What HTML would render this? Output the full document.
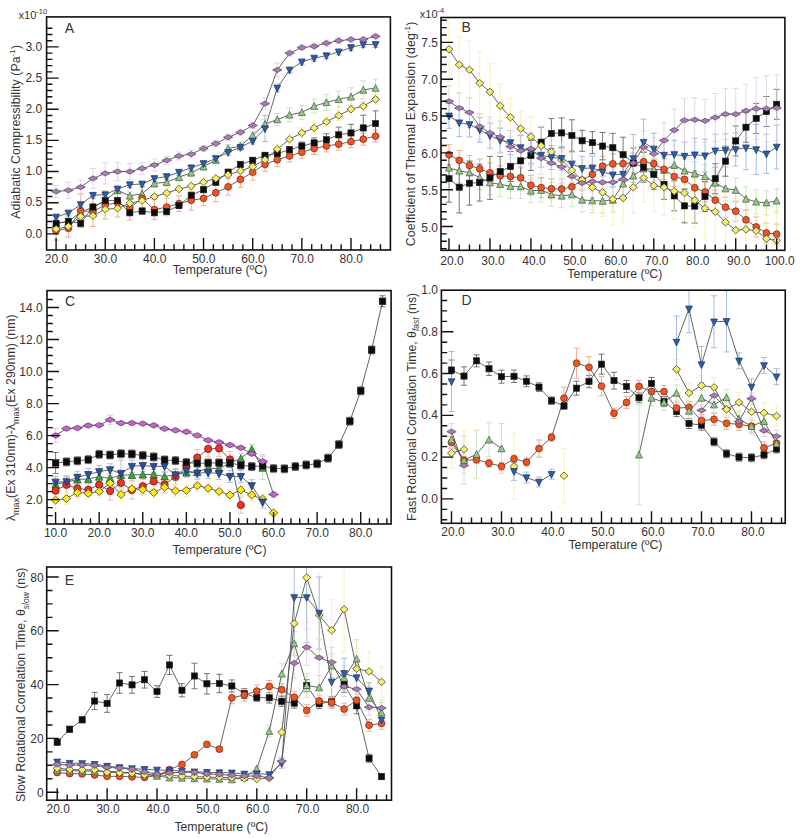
<!DOCTYPE html>
<html><head><meta charset="utf-8"><style>
html,body{margin:0;padding:0;background:#fff;}
svg{display:block;}
text{font-family:"Liberation Sans", sans-serif;fill:#353535;}
</style></head><body>
<svg width="800" height="839" viewBox="0 0 800 839">
<rect width="800" height="839" fill="#fff"/>
<clipPath id="cA"><rect x="46.6" y="16.9" width="343.79999999999995" height="233.1"/></clipPath><g clip-path="url(#cA)"><path d="M56.1 219.3V227.3M53.1 219.3h6M53.1 227.3h6M68.39 217.43V225.43M65.39 217.43h6M65.39 225.43h6M80.67 208.08V216.08M77.67 208.08h6M77.67 216.08h6M92.96 203.1V211.1M89.96 203.1h6M89.96 211.1h6M105.25 196.87V204.87M102.25 196.87h6M102.25 204.87h6M117.54 186.27V194.27M114.54 186.27h6M114.54 194.27h6M129.82 191.88V199.88M126.82 191.88h6M126.82 199.88h6M142.11 189.7V197.7M139.11 189.7h6M139.11 197.7h6M154.4 179.41V187.41M151.4 179.41h6M151.4 187.41h6M166.69 178.17V186.17M163.69 178.17h6M163.69 186.17h6M178.97 173.18V181.18M175.97 173.18h6M175.97 181.18h6M191.26 168.82V176.82M188.26 168.82h6M188.26 176.82h6M203.55 162.58V170.58M200.55 162.58h6M200.55 170.58h6M215.84 156.04V164.04M212.84 156.04h6M212.84 164.04h6M228.12 144.51V152.51M225.12 144.51h6M225.12 152.51h6M240.41 142.01V150.01M237.41 142.01h6M237.41 150.01h6M252.7 131.42V139.42M249.7 131.42h6M249.7 139.42h6M264.99 119.2V129.2M261.99 119.2h6M261.99 129.2h6M277.28 113.52V125.52M274.28 113.52h6M274.28 125.52h6M289.56 107.85V121.85M286.56 107.85h6M286.56 121.85h6M301.85 105.36V119.36M298.85 105.36h6M298.85 119.36h6M314.14 99.12V113.12M311.14 99.12h6M311.14 113.12h6M326.43 94.38V110.38M323.43 94.38h6M323.43 110.38h6M338.71 91.27V107.27M335.71 91.27h6M335.71 107.27h6M351 87.77V105.77M348 87.77h6M348 105.77h6M363.29 80.92V98.92M360.29 80.92h6M360.29 98.92h6M375.58 79.05V97.05M372.58 79.05h6M372.58 97.05h6" fill="none" stroke="#bfe0b5" stroke-width="0.8"/>
<path d="M56.1 221.38V240.18M53.1 221.38h6M53.1 240.18h6M68.39 219.59V236.99M65.39 219.59h6M65.39 236.99h6M80.67 194.04V227.64M77.67 194.04h6M77.67 227.64h6M92.96 196.46V226.46M89.96 196.46h6M89.96 226.46h6M105.25 190.92V218.92M102.25 190.92h6M102.25 218.92h6M117.54 188.44V217.04M114.54 188.44h6M114.54 217.04h6M129.82 196.03V220.03M126.82 196.03h6M126.82 220.03h6M142.11 186.37V210.37M139.11 186.37h6M139.11 210.37h6M154.4 199.59V219.59M151.4 199.59h6M151.4 219.59h6M166.69 198.4V215.8M163.69 198.4h6M163.69 215.8h6M178.97 195.87V211.47M175.97 195.87h6M175.97 211.47h6M191.26 190.24V210.24M188.26 190.24h6M188.26 210.24h6M203.55 190.97V205.77M200.55 190.97h6M200.55 205.77h6M215.84 183.76V201.76M212.84 183.76h6M212.84 201.76h6M228.12 178.64V195.04M225.12 178.64h6M225.12 195.04h6M240.41 171.36V187.36M237.41 171.36h6M237.41 187.36h6M252.7 164.19V180.19M249.7 164.19h6M249.7 180.19h6M264.99 157.4V171.4M261.99 157.4h6M261.99 171.4h6M277.28 152.73V166.73M274.28 152.73h6M274.28 166.73h6M289.56 149.99V161.99M286.56 149.99h6M286.56 161.99h6M301.85 146.25V158.25M298.85 146.25h6M298.85 158.25h6M314.14 142.51V154.51M311.14 142.51h6M311.14 154.51h6M326.43 140.01V152.01M323.43 140.01h6M323.43 152.01h6M338.71 138.14V150.14M335.71 138.14h6M335.71 150.14h6M351 135.65V147.65M348 135.65h6M348 147.65h6M363.29 133.16V145.16M360.29 133.16h6M360.29 145.16h6M375.58 130.04V142.04M372.58 130.04h6M372.58 142.04h6" fill="none" stroke="#f39a7c" stroke-width="0.8"/>
<path d="M56.1 220.62V226.62M53.1 220.62h6M53.1 226.62h6M68.39 218.43V224.43M65.39 218.43h6M65.39 224.43h6M80.67 220.3V226.3M77.67 220.3h6M77.67 226.3h6M92.96 204.1V210.1M89.96 204.1h6M89.96 210.1h6M105.25 197.62V203.62M102.25 197.62h6M102.25 203.62h6M117.54 197.62V203.62M114.54 197.62h6M114.54 203.62h6M129.82 209.71V215.71M126.82 209.71h6M126.82 215.71h6M142.11 208.02V214.02M139.11 208.02h6M139.11 214.02h6M154.4 209.71V215.71M151.4 209.71h6M151.4 215.71h6M166.69 208.46V214.46M163.69 208.46h6M163.69 214.46h6M178.97 202.54V208.54M175.97 202.54h6M175.97 208.54h6M191.26 192.26V198.26M188.26 192.26h6M188.26 198.26h6M203.55 186.65V192.65M200.55 186.65h6M200.55 192.65h6M215.84 179.17V185.17M212.84 179.17h6M212.84 185.17h6M228.12 169.19V175.19M225.12 169.19h6M225.12 175.19h6M240.41 161.4V167.4M237.41 161.4h6M237.41 167.4h6M252.7 157.35V163.35M249.7 157.35h6M249.7 163.35h6M264.99 152.36V158.36M261.99 152.36h6M261.99 158.36h6M277.28 150.49V156.49M274.28 150.49h6M274.28 156.49h6M289.56 146.75V152.75M286.56 146.75h6M286.56 152.75h6M301.85 142.01V150.01M298.85 142.01h6M298.85 150.01h6M314.14 137.9V147.9M311.14 137.9h6M311.14 147.9h6M326.43 133.78V145.78M323.43 133.78h6M323.43 145.78h6M338.71 127.05V142.55M335.71 127.05h6M335.71 142.55h6M351 124.33V141.53M348 124.33h6M348 141.53h6M363.29 115.19V140.69M360.29 115.19h6M360.29 140.69h6M375.58 110.83V136.33M372.58 110.83h6M372.58 136.33h6" fill="none" stroke="#555" stroke-width="0.8"/>
<path d="M56.1 224.1V234.1M53.1 224.1h6M53.1 234.1h6M68.39 221.42V231.42M65.39 221.42h6M65.39 231.42h6M80.67 211.45V221.45M77.67 211.45h6M77.67 221.45h6M92.96 210.82V220.82M89.96 210.82h6M89.96 220.82h6M105.25 204.28V214.28M102.25 204.28h6M102.25 214.28h6M117.54 203.34V213.34M114.54 203.34h6M114.54 213.34h6M129.82 198.36V208.36M126.82 198.36h6M126.82 208.36h6M142.11 195.62V205.62M139.11 195.62h6M139.11 205.62h6M154.4 191.5V201.5M151.4 191.5h6M151.4 201.5h6M166.69 188.07V198.07M163.69 188.07h6M163.69 198.07h6M178.97 184.02V194.02M175.97 184.02h6M175.97 194.02h6M191.26 180.91V190.91M188.26 180.91h6M188.26 190.91h6M203.55 177.17V187.17M200.55 177.17h6M200.55 187.17h6M215.84 173.43V183.43M212.84 173.43h6M212.84 183.43h6M228.12 169.69V179.69M225.12 169.69h6M225.12 179.69h6M240.41 165.95V175.95M237.41 165.95h6M237.41 175.95h6M252.7 161.58V171.58M249.7 161.58h6M249.7 171.58h6M264.99 154.73V164.73M261.99 154.73h6M261.99 164.73h6M277.28 144.13V154.13M274.28 144.13h6M274.28 154.13h6M289.56 134.16V144.16M286.56 134.16h6M286.56 144.16h6M301.85 127.93V137.93M298.85 127.93h6M298.85 137.93h6M314.14 122.94V132.94M311.14 122.94h6M311.14 132.94h6M326.43 116.71V126.71M323.43 116.71h6M323.43 126.71h6M338.71 110.47V120.47M335.71 110.47h6M335.71 120.47h6M351 104.24V114.24M348 104.24h6M348 114.24h6M363.29 101.12V111.12M360.29 101.12h6M360.29 111.12h6M375.58 94.27V104.27M372.58 94.27h6M372.58 104.27h6" fill="none" stroke="#f3efa8" stroke-width="0.8"/>
<path d="M56.1 214.07V220.07M53.1 214.07h6M53.1 220.07h6M68.39 210.02V216.02M65.39 210.02h6M65.39 216.02h6M80.67 201.6V207.6M77.67 201.6h6M77.67 207.6h6M92.96 192.26V198.26M89.96 192.26h6M89.96 198.26h6M105.25 191.63V197.63M102.25 191.63h6M102.25 197.63h6M117.54 186.02V192.02M114.54 186.02h6M114.54 192.02h6M129.82 181.66V187.66M126.82 181.66h6M126.82 187.66h6M142.11 181.04V187.04M139.11 181.04h6M139.11 187.04h6M154.4 175.43V181.43M151.4 175.43h6M151.4 181.43h6M166.69 173.56V179.56M163.69 173.56h6M163.69 179.56h6M178.97 169.19V175.19M175.97 169.19h6M175.97 175.19h6M191.26 164.83V170.83M188.26 164.83h6M188.26 170.83h6M203.55 160.47V166.47M200.55 160.47h6M200.55 166.47h6M215.84 155.48V161.48M212.84 155.48h6M212.84 161.48h6M228.12 149.25V155.25M225.12 149.25h6M225.12 155.25h6M240.41 144.26V150.26M237.41 144.26h6M237.41 150.26h6M252.7 138.03V144.03M249.7 138.03h6M249.7 144.03h6M264.99 115.56V141.56M261.99 115.56h6M261.99 141.56h6M277.28 84.05V92.05M274.28 84.05h6M274.28 92.05h6M289.56 66.97V72.97M286.56 66.97h6M286.56 72.97h6M301.85 58.87V64.87M298.85 58.87h6M298.85 64.87h6M314.14 55.13V61.13M311.14 55.13h6M311.14 61.13h6M326.43 52.64V58.64M323.43 52.64h6M323.43 58.64h6M338.71 48.9V54.9M335.71 48.9h6M335.71 54.9h6M351 44.53V50.53M348 44.53h6M348 50.53h6M363.29 41.42V47.42M360.29 41.42h6M360.29 47.42h6M375.58 41.42V47.42M372.58 41.42h6M372.58 47.42h6" fill="none" stroke="#8eacdb" stroke-width="0.8"/>
<path d="M56.1 185.52V197.52M53.1 185.52h6M53.1 197.52h6M68.39 182.27V198.27M65.39 182.27h6M65.39 198.27h6M80.67 180.15V194.15M77.67 180.15h6M77.67 194.15h6M92.96 168.43V188.43M89.96 168.43h6M89.96 188.43h6M105.25 162.84V184.04M102.25 162.84h6M102.25 184.04h6M117.54 162.57V180.57M114.54 162.57h6M114.54 180.57h6M129.82 163.57V179.57M126.82 163.57h6M126.82 179.57h6M142.11 162.45V174.45M139.11 162.45h6M139.11 174.45h6M154.4 159.03V171.03M151.4 159.03h6M151.4 171.03h6M166.69 156.35V164.35M163.69 156.35h6M163.69 164.35h6M178.97 151.99V159.99M175.97 151.99h6M175.97 159.99h6M191.26 150.12V158.12M188.26 150.12h6M188.26 158.12h6M203.55 145.51V151.51M200.55 145.51h6M200.55 151.51h6M215.84 140.52V146.52M212.84 140.52h6M212.84 146.52h6M228.12 134.29V140.29M225.12 134.29h6M225.12 140.29h6M240.41 129.3V135.3M237.41 129.3h6M237.41 135.3h6M252.7 122.45V128.45M249.7 122.45h6M249.7 128.45h6M264.99 97.63V109.63M261.99 97.63h6M261.99 109.63h6M277.28 62.97V76.97M274.28 62.97h6M274.28 76.97h6M289.56 50.14V56.14M286.56 50.14h6M286.56 56.14h6M301.85 44.53V50.53M298.85 44.53h6M298.85 50.53h6M314.14 43.29V49.29M311.14 43.29h6M311.14 49.29h6M326.43 40.17V46.17M323.43 40.17h6M323.43 46.17h6M338.71 37.68V43.68M335.71 37.68h6M335.71 43.68h6M351 36.43V42.43M348 36.43h6M348 42.43h6M363.29 36.43V42.43M360.29 36.43h6M360.29 42.43h6M375.58 33.31V39.31M372.58 33.31h6M372.58 39.31h6" fill="none" stroke="#dccbe2" stroke-width="0.8"/>
<path d="M56.1 223.3L68.39 221.43L80.67 212.08L92.96 207.1L105.25 200.87L117.54 190.27L129.82 195.88L142.11 193.7L154.4 183.41L166.69 182.17L178.97 177.18L191.26 172.82L203.55 166.58L215.84 160.04L228.12 148.51L240.41 146.01L252.7 135.42L264.99 124.2L277.28 119.52L289.56 114.85L301.85 112.36L314.14 106.12L326.43 102.38L338.71 99.27L351 96.77L363.29 89.92L375.58 88.05" fill="none" stroke="#555" stroke-width="0.9"/>
<path d="M56.1 230.78L68.39 228.29L80.67 210.84L92.96 211.46L105.25 204.92L117.54 202.74L129.82 208.03L142.11 198.37L154.4 209.59L166.69 207.1L178.97 203.67L191.26 200.24L203.55 198.37L215.84 192.76L228.12 186.84L240.41 179.36L252.7 172.19L264.99 164.4L277.28 159.73L289.56 155.99L301.85 152.25L314.14 148.51L326.43 146.01L338.71 144.14L351 141.65L363.29 139.16L375.58 136.04" fill="none" stroke="#555" stroke-width="0.9"/>
<path d="M56.1 223.62L68.39 221.43L80.67 223.3L92.96 207.1L105.25 200.62L117.54 200.62L129.82 212.71L142.11 211.02L154.4 212.71L166.69 211.46L178.97 205.54L191.26 195.26L203.55 189.65L215.84 182.17L228.12 172.19L240.41 164.4L252.7 160.35L264.99 155.36L277.28 153.49L289.56 149.75L301.85 146.01L314.14 142.9L326.43 139.78L338.71 134.8L351 132.93L363.29 127.94L375.58 123.58" fill="none" stroke="#555" stroke-width="0.9"/>
<path d="M56.1 229.1L68.39 226.42L80.67 216.45L92.96 215.82L105.25 209.28L117.54 208.34L129.82 203.36L142.11 200.62L154.4 196.5L166.69 193.07L178.97 189.02L191.26 185.91L203.55 182.17L215.84 178.43L228.12 174.69L240.41 170.95L252.7 166.58L264.99 159.73L277.28 149.13L289.56 139.16L301.85 132.93L314.14 127.94L326.43 121.71L338.71 115.47L351 109.24L363.29 106.12L375.58 99.27" fill="none" stroke="#555" stroke-width="0.9"/>
<path d="M56.1 217.07L68.39 213.02L80.67 204.6L92.96 195.26L105.25 194.63L117.54 189.02L129.82 184.66L142.11 184.04L154.4 178.43L166.69 176.56L178.97 172.19L191.26 167.83L203.55 163.47L215.84 158.48L228.12 152.25L240.41 147.26L252.7 141.03L264.99 128.56L277.28 88.05L289.56 69.97L301.85 61.87L314.14 58.13L326.43 55.64L338.71 51.9L351 47.53L363.29 44.42L375.58 44.42" fill="none" stroke="#555" stroke-width="0.9"/>
<path d="M56.1 191.52L68.39 190.27L80.67 187.15L92.96 178.43L105.25 173.44L117.54 171.57L129.82 171.57L142.11 168.45L154.4 165.03L166.69 160.35L178.97 155.99L191.26 154.12L203.55 148.51L215.84 143.52L228.12 137.29L240.41 132.3L252.7 125.45L264.99 103.63L277.28 69.97L289.56 53.14L301.85 47.53L314.14 46.29L326.43 43.17L338.71 40.68L351 39.43L363.29 39.43L375.58 36.31" fill="none" stroke="#555" stroke-width="0.9"/>
<path d="M56.1 219.7L59.6 226.54L52.6 226.54Z" fill="#95c987" stroke="#3d5a36" stroke-width="0.7"/>
<path d="M68.39 217.83L71.89 224.67L64.89 224.67Z" fill="#95c987" stroke="#3d5a36" stroke-width="0.7"/>
<path d="M80.67 208.48L84.17 215.32L77.17 215.32Z" fill="#95c987" stroke="#3d5a36" stroke-width="0.7"/>
<path d="M92.96 203.5L96.46 210.34L89.46 210.34Z" fill="#95c987" stroke="#3d5a36" stroke-width="0.7"/>
<path d="M105.25 197.27L108.75 204.11L101.75 204.11Z" fill="#95c987" stroke="#3d5a36" stroke-width="0.7"/>
<path d="M117.54 186.67L121.04 193.51L114.04 193.51Z" fill="#95c987" stroke="#3d5a36" stroke-width="0.7"/>
<path d="M129.82 192.28L133.32 199.12L126.32 199.12Z" fill="#95c987" stroke="#3d5a36" stroke-width="0.7"/>
<path d="M142.11 190.1L145.61 196.94L138.61 196.94Z" fill="#95c987" stroke="#3d5a36" stroke-width="0.7"/>
<path d="M154.4 179.81L157.9 186.65L150.9 186.65Z" fill="#95c987" stroke="#3d5a36" stroke-width="0.7"/>
<path d="M166.69 178.57L170.19 185.41L163.19 185.41Z" fill="#95c987" stroke="#3d5a36" stroke-width="0.7"/>
<path d="M178.97 173.58L182.47 180.42L175.47 180.42Z" fill="#95c987" stroke="#3d5a36" stroke-width="0.7"/>
<path d="M191.26 169.22L194.76 176.06L187.76 176.06Z" fill="#95c987" stroke="#3d5a36" stroke-width="0.7"/>
<path d="M203.55 162.98L207.05 169.82L200.05 169.82Z" fill="#95c987" stroke="#3d5a36" stroke-width="0.7"/>
<path d="M215.84 156.44L219.34 163.28L212.34 163.28Z" fill="#95c987" stroke="#3d5a36" stroke-width="0.7"/>
<path d="M228.12 144.91L231.62 151.75L224.62 151.75Z" fill="#95c987" stroke="#3d5a36" stroke-width="0.7"/>
<path d="M240.41 142.41L243.91 149.25L236.91 149.25Z" fill="#95c987" stroke="#3d5a36" stroke-width="0.7"/>
<path d="M252.7 131.82L256.2 138.66L249.2 138.66Z" fill="#95c987" stroke="#3d5a36" stroke-width="0.7"/>
<path d="M264.99 120.6L268.49 127.44L261.49 127.44Z" fill="#95c987" stroke="#3d5a36" stroke-width="0.7"/>
<path d="M277.28 115.92L280.78 122.76L273.78 122.76Z" fill="#95c987" stroke="#3d5a36" stroke-width="0.7"/>
<path d="M289.56 111.25L293.06 118.09L286.06 118.09Z" fill="#95c987" stroke="#3d5a36" stroke-width="0.7"/>
<path d="M301.85 108.76L305.35 115.6L298.35 115.6Z" fill="#95c987" stroke="#3d5a36" stroke-width="0.7"/>
<path d="M314.14 102.52L317.64 109.36L310.64 109.36Z" fill="#95c987" stroke="#3d5a36" stroke-width="0.7"/>
<path d="M326.43 98.78L329.93 105.62L322.93 105.62Z" fill="#95c987" stroke="#3d5a36" stroke-width="0.7"/>
<path d="M338.71 95.67L342.21 102.51L335.21 102.51Z" fill="#95c987" stroke="#3d5a36" stroke-width="0.7"/>
<path d="M351 93.17L354.5 100.01L347.5 100.01Z" fill="#95c987" stroke="#3d5a36" stroke-width="0.7"/>
<path d="M363.29 86.32L366.79 93.16L359.79 93.16Z" fill="#95c987" stroke="#3d5a36" stroke-width="0.7"/>
<path d="M375.58 84.45L379.08 91.29L372.08 91.29Z" fill="#95c987" stroke="#3d5a36" stroke-width="0.7"/>
<circle cx="56.1" cy="230.78" r="3.4" fill="#ea5627" stroke="#8a2a10" stroke-width="0.8"/>
<circle cx="68.39" cy="228.29" r="3.4" fill="#ea5627" stroke="#8a2a10" stroke-width="0.8"/>
<circle cx="80.67" cy="210.84" r="3.4" fill="#ea5627" stroke="#8a2a10" stroke-width="0.8"/>
<circle cx="92.96" cy="211.46" r="3.4" fill="#ea5627" stroke="#8a2a10" stroke-width="0.8"/>
<circle cx="105.25" cy="204.92" r="3.4" fill="#ea5627" stroke="#8a2a10" stroke-width="0.8"/>
<circle cx="117.54" cy="202.74" r="3.4" fill="#ea5627" stroke="#8a2a10" stroke-width="0.8"/>
<circle cx="129.82" cy="208.03" r="3.4" fill="#ea5627" stroke="#8a2a10" stroke-width="0.8"/>
<circle cx="142.11" cy="198.37" r="3.4" fill="#ea5627" stroke="#8a2a10" stroke-width="0.8"/>
<circle cx="154.4" cy="209.59" r="3.4" fill="#ea5627" stroke="#8a2a10" stroke-width="0.8"/>
<circle cx="166.69" cy="207.1" r="3.4" fill="#ea5627" stroke="#8a2a10" stroke-width="0.8"/>
<circle cx="178.97" cy="203.67" r="3.4" fill="#ea5627" stroke="#8a2a10" stroke-width="0.8"/>
<circle cx="191.26" cy="200.24" r="3.4" fill="#ea5627" stroke="#8a2a10" stroke-width="0.8"/>
<circle cx="203.55" cy="198.37" r="3.4" fill="#ea5627" stroke="#8a2a10" stroke-width="0.8"/>
<circle cx="215.84" cy="192.76" r="3.4" fill="#ea5627" stroke="#8a2a10" stroke-width="0.8"/>
<circle cx="228.12" cy="186.84" r="3.4" fill="#ea5627" stroke="#8a2a10" stroke-width="0.8"/>
<circle cx="240.41" cy="179.36" r="3.4" fill="#ea5627" stroke="#8a2a10" stroke-width="0.8"/>
<circle cx="252.7" cy="172.19" r="3.4" fill="#ea5627" stroke="#8a2a10" stroke-width="0.8"/>
<circle cx="264.99" cy="164.4" r="3.4" fill="#ea5627" stroke="#8a2a10" stroke-width="0.8"/>
<circle cx="277.28" cy="159.73" r="3.4" fill="#ea5627" stroke="#8a2a10" stroke-width="0.8"/>
<circle cx="289.56" cy="155.99" r="3.4" fill="#ea5627" stroke="#8a2a10" stroke-width="0.8"/>
<circle cx="301.85" cy="152.25" r="3.4" fill="#ea5627" stroke="#8a2a10" stroke-width="0.8"/>
<circle cx="314.14" cy="148.51" r="3.4" fill="#ea5627" stroke="#8a2a10" stroke-width="0.8"/>
<circle cx="326.43" cy="146.01" r="3.4" fill="#ea5627" stroke="#8a2a10" stroke-width="0.8"/>
<circle cx="338.71" cy="144.14" r="3.4" fill="#ea5627" stroke="#8a2a10" stroke-width="0.8"/>
<circle cx="351" cy="141.65" r="3.4" fill="#ea5627" stroke="#8a2a10" stroke-width="0.8"/>
<circle cx="363.29" cy="139.16" r="3.4" fill="#ea5627" stroke="#8a2a10" stroke-width="0.8"/>
<circle cx="375.58" cy="136.04" r="3.4" fill="#ea5627" stroke="#8a2a10" stroke-width="0.8"/>
<rect x="53" y="220.52" width="6.2" height="6.2" fill="#0c0c0c" stroke="#222" stroke-width="0.6"/>
<rect x="65.29" y="218.33" width="6.2" height="6.2" fill="#0c0c0c" stroke="#222" stroke-width="0.6"/>
<rect x="77.58" y="220.2" width="6.2" height="6.2" fill="#0c0c0c" stroke="#222" stroke-width="0.6"/>
<rect x="89.86" y="204" width="6.2" height="6.2" fill="#0c0c0c" stroke="#222" stroke-width="0.6"/>
<rect x="102.15" y="197.52" width="6.2" height="6.2" fill="#0c0c0c" stroke="#222" stroke-width="0.6"/>
<rect x="114.44" y="197.52" width="6.2" height="6.2" fill="#0c0c0c" stroke="#222" stroke-width="0.6"/>
<rect x="126.72" y="209.61" width="6.2" height="6.2" fill="#0c0c0c" stroke="#222" stroke-width="0.6"/>
<rect x="139.01" y="207.92" width="6.2" height="6.2" fill="#0c0c0c" stroke="#222" stroke-width="0.6"/>
<rect x="151.3" y="209.61" width="6.2" height="6.2" fill="#0c0c0c" stroke="#222" stroke-width="0.6"/>
<rect x="163.59" y="208.36" width="6.2" height="6.2" fill="#0c0c0c" stroke="#222" stroke-width="0.6"/>
<rect x="175.88" y="202.44" width="6.2" height="6.2" fill="#0c0c0c" stroke="#222" stroke-width="0.6"/>
<rect x="188.16" y="192.16" width="6.2" height="6.2" fill="#0c0c0c" stroke="#222" stroke-width="0.6"/>
<rect x="200.45" y="186.55" width="6.2" height="6.2" fill="#0c0c0c" stroke="#222" stroke-width="0.6"/>
<rect x="212.74" y="179.07" width="6.2" height="6.2" fill="#0c0c0c" stroke="#222" stroke-width="0.6"/>
<rect x="225.03" y="169.09" width="6.2" height="6.2" fill="#0c0c0c" stroke="#222" stroke-width="0.6"/>
<rect x="237.31" y="161.3" width="6.2" height="6.2" fill="#0c0c0c" stroke="#222" stroke-width="0.6"/>
<rect x="249.6" y="157.25" width="6.2" height="6.2" fill="#0c0c0c" stroke="#222" stroke-width="0.6"/>
<rect x="261.89" y="152.26" width="6.2" height="6.2" fill="#0c0c0c" stroke="#222" stroke-width="0.6"/>
<rect x="274.18" y="150.39" width="6.2" height="6.2" fill="#0c0c0c" stroke="#222" stroke-width="0.6"/>
<rect x="286.46" y="146.65" width="6.2" height="6.2" fill="#0c0c0c" stroke="#222" stroke-width="0.6"/>
<rect x="298.75" y="142.91" width="6.2" height="6.2" fill="#0c0c0c" stroke="#222" stroke-width="0.6"/>
<rect x="311.04" y="139.8" width="6.2" height="6.2" fill="#0c0c0c" stroke="#222" stroke-width="0.6"/>
<rect x="323.32" y="136.68" width="6.2" height="6.2" fill="#0c0c0c" stroke="#222" stroke-width="0.6"/>
<rect x="335.61" y="131.7" width="6.2" height="6.2" fill="#0c0c0c" stroke="#222" stroke-width="0.6"/>
<rect x="347.9" y="129.83" width="6.2" height="6.2" fill="#0c0c0c" stroke="#222" stroke-width="0.6"/>
<rect x="360.19" y="124.84" width="6.2" height="6.2" fill="#0c0c0c" stroke="#222" stroke-width="0.6"/>
<rect x="372.48" y="120.48" width="6.2" height="6.2" fill="#0c0c0c" stroke="#222" stroke-width="0.6"/>
<path d="M56.1 225.4L60.1 229.1L56.1 232.8L52.1 229.1Z" fill="#f6ee68" stroke="#4a4a2a" stroke-width="0.8"/>
<path d="M68.39 222.72L72.39 226.42L68.39 230.12L64.39 226.42Z" fill="#f6ee68" stroke="#4a4a2a" stroke-width="0.8"/>
<path d="M80.67 212.75L84.67 216.45L80.67 220.15L76.67 216.45Z" fill="#f6ee68" stroke="#4a4a2a" stroke-width="0.8"/>
<path d="M92.96 212.12L96.96 215.82L92.96 219.52L88.96 215.82Z" fill="#f6ee68" stroke="#4a4a2a" stroke-width="0.8"/>
<path d="M105.25 205.58L109.25 209.28L105.25 212.98L101.25 209.28Z" fill="#f6ee68" stroke="#4a4a2a" stroke-width="0.8"/>
<path d="M117.54 204.64L121.54 208.34L117.54 212.04L113.54 208.34Z" fill="#f6ee68" stroke="#4a4a2a" stroke-width="0.8"/>
<path d="M129.82 199.66L133.82 203.36L129.82 207.06L125.82 203.36Z" fill="#f6ee68" stroke="#4a4a2a" stroke-width="0.8"/>
<path d="M142.11 196.92L146.11 200.62L142.11 204.32L138.11 200.62Z" fill="#f6ee68" stroke="#4a4a2a" stroke-width="0.8"/>
<path d="M154.4 192.8L158.4 196.5L154.4 200.2L150.4 196.5Z" fill="#f6ee68" stroke="#4a4a2a" stroke-width="0.8"/>
<path d="M166.69 189.37L170.69 193.07L166.69 196.77L162.69 193.07Z" fill="#f6ee68" stroke="#4a4a2a" stroke-width="0.8"/>
<path d="M178.97 185.32L182.97 189.02L178.97 192.72L174.97 189.02Z" fill="#f6ee68" stroke="#4a4a2a" stroke-width="0.8"/>
<path d="M191.26 182.21L195.26 185.91L191.26 189.61L187.26 185.91Z" fill="#f6ee68" stroke="#4a4a2a" stroke-width="0.8"/>
<path d="M203.55 178.47L207.55 182.17L203.55 185.87L199.55 182.17Z" fill="#f6ee68" stroke="#4a4a2a" stroke-width="0.8"/>
<path d="M215.84 174.73L219.84 178.43L215.84 182.13L211.84 178.43Z" fill="#f6ee68" stroke="#4a4a2a" stroke-width="0.8"/>
<path d="M228.12 170.99L232.12 174.69L228.12 178.39L224.12 174.69Z" fill="#f6ee68" stroke="#4a4a2a" stroke-width="0.8"/>
<path d="M240.41 167.25L244.41 170.95L240.41 174.65L236.41 170.95Z" fill="#f6ee68" stroke="#4a4a2a" stroke-width="0.8"/>
<path d="M252.7 162.88L256.7 166.58L252.7 170.28L248.7 166.58Z" fill="#f6ee68" stroke="#4a4a2a" stroke-width="0.8"/>
<path d="M264.99 156.03L268.99 159.73L264.99 163.43L260.99 159.73Z" fill="#f6ee68" stroke="#4a4a2a" stroke-width="0.8"/>
<path d="M277.28 145.43L281.28 149.13L277.28 152.83L273.28 149.13Z" fill="#f6ee68" stroke="#4a4a2a" stroke-width="0.8"/>
<path d="M289.56 135.46L293.56 139.16L289.56 142.86L285.56 139.16Z" fill="#f6ee68" stroke="#4a4a2a" stroke-width="0.8"/>
<path d="M301.85 129.23L305.85 132.93L301.85 136.63L297.85 132.93Z" fill="#f6ee68" stroke="#4a4a2a" stroke-width="0.8"/>
<path d="M314.14 124.24L318.14 127.94L314.14 131.64L310.14 127.94Z" fill="#f6ee68" stroke="#4a4a2a" stroke-width="0.8"/>
<path d="M326.43 118.01L330.43 121.71L326.43 125.41L322.43 121.71Z" fill="#f6ee68" stroke="#4a4a2a" stroke-width="0.8"/>
<path d="M338.71 111.77L342.71 115.47L338.71 119.17L334.71 115.47Z" fill="#f6ee68" stroke="#4a4a2a" stroke-width="0.8"/>
<path d="M351 105.54L355 109.24L351 112.94L347 109.24Z" fill="#f6ee68" stroke="#4a4a2a" stroke-width="0.8"/>
<path d="M363.29 102.42L367.29 106.12L363.29 109.82L359.29 106.12Z" fill="#f6ee68" stroke="#4a4a2a" stroke-width="0.8"/>
<path d="M375.58 95.57L379.58 99.27L375.58 102.97L371.58 99.27Z" fill="#f6ee68" stroke="#4a4a2a" stroke-width="0.8"/>
<path d="M56.1 221.17L59.5 214.33L52.7 214.33Z" fill="#2d5da6" stroke="#1a3566" stroke-width="0.7"/>
<path d="M68.39 217.12L71.79 210.28L64.99 210.28Z" fill="#2d5da6" stroke="#1a3566" stroke-width="0.7"/>
<path d="M80.67 208.7L84.08 201.86L77.27 201.86Z" fill="#2d5da6" stroke="#1a3566" stroke-width="0.7"/>
<path d="M92.96 199.36L96.36 192.52L89.56 192.52Z" fill="#2d5da6" stroke="#1a3566" stroke-width="0.7"/>
<path d="M105.25 198.73L108.65 191.89L101.85 191.89Z" fill="#2d5da6" stroke="#1a3566" stroke-width="0.7"/>
<path d="M117.54 193.12L120.94 186.28L114.14 186.28Z" fill="#2d5da6" stroke="#1a3566" stroke-width="0.7"/>
<path d="M129.82 188.76L133.22 181.92L126.42 181.92Z" fill="#2d5da6" stroke="#1a3566" stroke-width="0.7"/>
<path d="M142.11 188.14L145.51 181.3L138.71 181.3Z" fill="#2d5da6" stroke="#1a3566" stroke-width="0.7"/>
<path d="M154.4 182.53L157.8 175.69L151 175.69Z" fill="#2d5da6" stroke="#1a3566" stroke-width="0.7"/>
<path d="M166.69 180.66L170.09 173.82L163.29 173.82Z" fill="#2d5da6" stroke="#1a3566" stroke-width="0.7"/>
<path d="M178.97 176.29L182.38 169.45L175.57 169.45Z" fill="#2d5da6" stroke="#1a3566" stroke-width="0.7"/>
<path d="M191.26 171.93L194.66 165.09L187.86 165.09Z" fill="#2d5da6" stroke="#1a3566" stroke-width="0.7"/>
<path d="M203.55 167.57L206.95 160.73L200.15 160.73Z" fill="#2d5da6" stroke="#1a3566" stroke-width="0.7"/>
<path d="M215.84 162.58L219.24 155.74L212.44 155.74Z" fill="#2d5da6" stroke="#1a3566" stroke-width="0.7"/>
<path d="M228.12 156.35L231.53 149.51L224.72 149.51Z" fill="#2d5da6" stroke="#1a3566" stroke-width="0.7"/>
<path d="M240.41 151.36L243.81 144.52L237.01 144.52Z" fill="#2d5da6" stroke="#1a3566" stroke-width="0.7"/>
<path d="M252.7 145.13L256.1 138.29L249.3 138.29Z" fill="#2d5da6" stroke="#1a3566" stroke-width="0.7"/>
<path d="M264.99 132.66L268.39 125.82L261.59 125.82Z" fill="#2d5da6" stroke="#1a3566" stroke-width="0.7"/>
<path d="M277.28 92.15L280.68 85.31L273.88 85.31Z" fill="#2d5da6" stroke="#1a3566" stroke-width="0.7"/>
<path d="M289.56 74.07L292.96 67.23L286.16 67.23Z" fill="#2d5da6" stroke="#1a3566" stroke-width="0.7"/>
<path d="M301.85 65.97L305.25 59.13L298.45 59.13Z" fill="#2d5da6" stroke="#1a3566" stroke-width="0.7"/>
<path d="M314.14 62.23L317.54 55.39L310.74 55.39Z" fill="#2d5da6" stroke="#1a3566" stroke-width="0.7"/>
<path d="M326.43 59.74L329.82 52.9L323.03 52.9Z" fill="#2d5da6" stroke="#1a3566" stroke-width="0.7"/>
<path d="M338.71 56L342.11 49.16L335.31 49.16Z" fill="#2d5da6" stroke="#1a3566" stroke-width="0.7"/>
<path d="M351 51.63L354.4 44.79L347.6 44.79Z" fill="#2d5da6" stroke="#1a3566" stroke-width="0.7"/>
<path d="M363.29 48.52L366.69 41.68L359.89 41.68Z" fill="#2d5da6" stroke="#1a3566" stroke-width="0.7"/>
<path d="M375.58 48.52L378.98 41.68L372.18 41.68Z" fill="#2d5da6" stroke="#1a3566" stroke-width="0.7"/>
<path d="M56.1 188.92L60.8 191.52L56.1 194.12L51.4 191.52Z" fill="#a97cb8" stroke="#5a4060" stroke-width="0.7"/>
<path d="M68.39 187.67L73.09 190.27L68.39 192.87L63.69 190.27Z" fill="#a97cb8" stroke="#5a4060" stroke-width="0.7"/>
<path d="M80.67 184.55L85.38 187.15L80.67 189.75L75.97 187.15Z" fill="#a97cb8" stroke="#5a4060" stroke-width="0.7"/>
<path d="M92.96 175.83L97.66 178.43L92.96 181.03L88.26 178.43Z" fill="#a97cb8" stroke="#5a4060" stroke-width="0.7"/>
<path d="M105.25 170.84L109.95 173.44L105.25 176.04L100.55 173.44Z" fill="#a97cb8" stroke="#5a4060" stroke-width="0.7"/>
<path d="M117.54 168.97L122.24 171.57L117.54 174.17L112.84 171.57Z" fill="#a97cb8" stroke="#5a4060" stroke-width="0.7"/>
<path d="M129.82 168.97L134.52 171.57L129.82 174.17L125.12 171.57Z" fill="#a97cb8" stroke="#5a4060" stroke-width="0.7"/>
<path d="M142.11 165.85L146.81 168.45L142.11 171.05L137.41 168.45Z" fill="#a97cb8" stroke="#5a4060" stroke-width="0.7"/>
<path d="M154.4 162.43L159.1 165.03L154.4 167.63L149.7 165.03Z" fill="#a97cb8" stroke="#5a4060" stroke-width="0.7"/>
<path d="M166.69 157.75L171.39 160.35L166.69 162.95L161.99 160.35Z" fill="#a97cb8" stroke="#5a4060" stroke-width="0.7"/>
<path d="M178.97 153.39L183.67 155.99L178.97 158.59L174.28 155.99Z" fill="#a97cb8" stroke="#5a4060" stroke-width="0.7"/>
<path d="M191.26 151.52L195.96 154.12L191.26 156.72L186.56 154.12Z" fill="#a97cb8" stroke="#5a4060" stroke-width="0.7"/>
<path d="M203.55 145.91L208.25 148.51L203.55 151.11L198.85 148.51Z" fill="#a97cb8" stroke="#5a4060" stroke-width="0.7"/>
<path d="M215.84 140.92L220.54 143.52L215.84 146.12L211.14 143.52Z" fill="#a97cb8" stroke="#5a4060" stroke-width="0.7"/>
<path d="M228.12 134.69L232.82 137.29L228.12 139.89L223.43 137.29Z" fill="#a97cb8" stroke="#5a4060" stroke-width="0.7"/>
<path d="M240.41 129.7L245.11 132.3L240.41 134.9L235.71 132.3Z" fill="#a97cb8" stroke="#5a4060" stroke-width="0.7"/>
<path d="M252.7 122.85L257.4 125.45L252.7 128.05L248 125.45Z" fill="#a97cb8" stroke="#5a4060" stroke-width="0.7"/>
<path d="M264.99 101.03L269.69 103.63L264.99 106.23L260.29 103.63Z" fill="#a97cb8" stroke="#5a4060" stroke-width="0.7"/>
<path d="M277.28 67.37L281.98 69.97L277.28 72.57L272.58 69.97Z" fill="#a97cb8" stroke="#5a4060" stroke-width="0.7"/>
<path d="M289.56 50.54L294.26 53.14L289.56 55.74L284.86 53.14Z" fill="#a97cb8" stroke="#5a4060" stroke-width="0.7"/>
<path d="M301.85 44.93L306.55 47.53L301.85 50.13L297.15 47.53Z" fill="#a97cb8" stroke="#5a4060" stroke-width="0.7"/>
<path d="M314.14 43.69L318.84 46.29L314.14 48.89L309.44 46.29Z" fill="#a97cb8" stroke="#5a4060" stroke-width="0.7"/>
<path d="M326.43 40.57L331.12 43.17L326.43 45.77L321.73 43.17Z" fill="#a97cb8" stroke="#5a4060" stroke-width="0.7"/>
<path d="M338.71 38.08L343.41 40.68L338.71 43.28L334.01 40.68Z" fill="#a97cb8" stroke="#5a4060" stroke-width="0.7"/>
<path d="M351 36.83L355.7 39.43L351 42.03L346.3 39.43Z" fill="#a97cb8" stroke="#5a4060" stroke-width="0.7"/>
<path d="M363.29 36.83L367.99 39.43L363.29 42.03L358.59 39.43Z" fill="#a97cb8" stroke="#5a4060" stroke-width="0.7"/>
<path d="M375.58 33.71L380.28 36.31L375.58 38.91L370.88 36.31Z" fill="#a97cb8" stroke="#5a4060" stroke-width="0.7"/></g>
<clipPath id="cB"><rect x="441.0" y="17.5" width="343.9" height="232.8"/></clipPath><g clip-path="url(#cB)"><path d="M449 155.88V179.88M446 155.88h6M446 179.88h6M459.24 158.83V182.83M456.24 158.83h6M456.24 182.83h6M469.48 160.6V184.6M466.48 160.6h6M466.48 184.6h6M479.72 165.6V189.6M476.72 165.6h6M476.72 189.6h6M489.96 170.61V194.61M486.96 170.61h6M486.96 194.61h6M500.2 172.38V196.38M497.2 172.38h6M497.2 196.38h6M510.44 174.22V198.22M507.44 174.22h6M507.44 198.22h6M520.68 174.51V198.51M517.68 174.51h6M517.68 198.51h6M530.92 178.78V202.78M527.92 178.78h6M527.92 202.78h6M541.16 178.12V202.12M538.16 178.12h6M538.16 202.12h6M551.4 182.39V206.39M548.4 182.39h6M548.4 206.39h6M561.64 183.79V207.79M558.64 183.79h6M558.64 207.79h6M571.88 182.61V206.61M568.88 182.61h6M568.88 206.61h6M582.12 187.92V211.92M579.12 187.92h6M579.12 211.92h6M592.36 188.58V212.58M589.36 188.58h6M589.36 212.58h6M602.6 189.02V213.02M599.6 189.02h6M599.6 213.02h6M612.84 187.99V211.99M609.84 187.99h6M609.84 211.99h6M623.08 171.72V195.72M620.08 171.72h6M620.08 195.72h6M633.32 163.76V187.76M630.32 163.76h6M630.32 187.76h6M643.56 156.69V180.69M640.56 156.69h6M640.56 180.69h6M653.8 157.13V181.13M650.8 157.13h6M650.8 181.13h6M664.04 158.09V182.09M661.04 158.09h6M661.04 182.09h6M674.28 153.08V177.08M671.28 153.08h6M671.28 177.08h6M684.52 158.83V182.83M681.52 158.83h6M681.52 182.83h6M694.76 161.7V185.7M691.76 161.7h6M691.76 185.7h6M705 164.42V188.42M702 164.42h6M702 188.42h6M715.24 170.91V194.91M712.24 170.91h6M712.24 194.91h6M725.48 176.58V200.58M722.48 176.58h6M722.48 200.58h6M735.72 178.12V202.12M732.72 178.12h6M732.72 202.12h6M745.96 186.89V210.89M742.96 186.89h6M742.96 210.89h6M756.2 189.83V213.83M753.2 189.83h6M753.2 213.83h6M766.44 190.71V214.71M763.44 190.71h6M763.44 214.71h6M776.68 188.8V212.8M773.68 188.8h6M773.68 212.8h6" fill="none" stroke="#bfe0b5" stroke-width="0.8"/>
<path d="M449 144.63V164.63M446 144.63h6M446 164.63h6M459.24 150.3V170.3M456.24 150.3h6M456.24 170.3h6M469.48 155.53V175.53M466.48 155.53h6M466.48 175.53h6M479.72 158.91V178.91M476.72 158.91h6M476.72 178.91h6M489.96 162.89V182.89M486.96 162.89h6M486.96 182.89h6M500.2 165.76V185.76M497.2 165.76h6M497.2 185.76h6M510.44 166.5V186.5M507.44 166.5h6M507.44 186.5h6M520.68 167.9V187.9M517.68 167.9h6M517.68 187.9h6M530.92 175.26V195.26M527.92 175.26h6M527.92 195.26h6M541.16 177.62V197.62M538.16 177.62h6M538.16 197.62h6M551.4 178.72V198.72M548.4 178.72h6M548.4 198.72h6M561.64 179.02V199.02M558.64 179.02h6M558.64 199.02h6M571.88 176.81V196.81M568.88 176.81h6M568.88 196.81h6M582.12 170.11V190.11M579.12 170.11h6M579.12 190.11h6M592.36 164.44V184.44M589.36 164.44h6M589.36 184.44h6M602.6 156.12V176.12M599.6 156.12h6M599.6 176.12h6M612.84 153.91V173.91M609.84 153.91h6M609.84 173.91h6M623.08 153.69V173.69M620.08 153.69h6M620.08 173.69h6M633.32 153.02V173.02M630.32 153.02h6M630.32 173.02h6M643.56 151.77V171.77M640.56 151.77h6M640.56 171.77h6M653.8 153.69V173.69M650.8 153.69h6M650.8 173.69h6M664.04 159.36V179.36M661.04 159.36h6M661.04 179.36h6M674.28 166.57V186.57M671.28 166.57h6M671.28 186.57h6M684.52 169.37V189.37M681.52 169.37h6M681.52 189.37h6M694.76 177.77V197.77M691.76 177.77h6M691.76 197.77h6M705 182.04V202.04M702 182.04h6M702 202.04h6M715.24 190.14V210.14M712.24 190.14h6M712.24 210.14h6M725.48 197.21V217.21M722.48 197.21h6M722.48 217.21h6M735.72 201.18V221.18M732.72 201.18h6M732.72 221.18h6M745.96 209.8V229.8M742.96 209.8h6M742.96 229.8h6M756.2 216.94V236.94M753.2 216.94h6M753.2 236.94h6M766.44 222.98V242.98M763.44 222.98h6M763.44 242.98h6M776.68 224.08V244.08M773.68 224.08h6M773.68 244.08h6" fill="none" stroke="#f39a7c" stroke-width="0.8"/>
<path d="M449 155.03V202.23M446 155.03h6M446 202.23h6M459.24 161.38V212.98M456.24 161.38h6M456.24 212.98h6M469.48 161.2V205.2M466.48 161.2h6M466.48 205.2h6M479.72 164.11V201.11M476.72 164.11h6M476.72 201.11h6M489.96 156.4V199.4M486.96 156.4h6M486.96 199.4h6M500.2 156.49V186.49M497.2 156.49h6M497.2 186.49h6M510.44 151.48V181.48M507.44 151.48h6M507.44 181.48h6M520.68 145.81V175.81M517.68 145.81h6M517.68 175.81h6M530.92 140.51V170.51M527.92 140.51h6M527.92 170.51h6M541.16 127.18V157.18M538.16 127.18h6M538.16 157.18h6M551.4 118.57V148.57M548.4 118.57h6M548.4 148.57h6M561.64 117.9V147.9M558.64 117.9h6M558.64 147.9h6M571.88 119.78V151.18M568.88 119.78h6M568.88 151.18h6M582.12 130.28V151.28M579.12 130.28h6M579.12 151.28h6M592.36 131.62V153.62M589.36 131.62h6M589.36 153.62h6M602.6 132.49V159.69M599.6 132.49h6M599.6 159.69h6M612.84 133.31V162.11M609.84 133.31h6M609.84 162.11h6M623.08 137.2V172.2M620.08 137.2h6M620.08 172.2h6M633.32 148.02V178.02M630.32 148.02h6M630.32 178.02h6M643.56 152.29V182.29M640.56 152.29h6M640.56 182.29h6M653.8 159.44V189.44M650.8 159.44h6M650.8 189.44h6M664.04 169.38V199.38M661.04 169.38h6M661.04 199.38h6M674.28 180.87V210.87M671.28 180.87h6M671.28 210.87h6M684.52 188.88V222.88M681.52 188.88h6M681.52 222.88h6M694.76 189.1V223.1M691.76 189.1h6M691.76 223.1h6M705 181.53V211.53M702 181.53h6M702 211.53h6M715.24 163.63V193.63M712.24 163.63h6M712.24 193.63h6M725.48 146.18V176.18M722.48 146.18h6M722.48 176.18h6M735.72 125.93V155.93M732.72 125.93h6M732.72 155.93h6M745.96 112.23V142.23M742.96 112.23h6M742.96 142.23h6M756.2 103.4V133.4M753.2 103.4h6M753.2 133.4h6M766.44 96.47V126.47M763.44 96.47h6M763.44 126.47h6M776.68 89.33V119.33M773.68 89.33h6M773.68 119.33h6" fill="none" stroke="#555" stroke-width="0.8"/>
<path d="M449 17.32V81.32M446 17.32h6M446 81.32h6M459.24 36.79V92.79M456.24 36.79h6M456.24 92.79h6M469.48 40.79V98.79M466.48 40.79h6M466.48 98.79h6M479.72 52.2V114.2M476.72 52.2h6M476.72 114.2h6M489.96 63.89V119.89M486.96 63.89h6M486.96 119.89h6M500.2 83.8V127.8M497.2 83.8h6M497.2 127.8h6M510.44 98.29V136.29M507.44 98.29h6M507.44 136.29h6M520.68 111.71V145.71M517.68 111.71h6M517.68 145.71h6M530.92 116.66V156.66M527.92 116.66h6M527.92 156.66h6M541.16 125.79V165.79M538.16 125.79h6M538.16 165.79h6M551.4 133.83V169.83M548.4 133.83h6M548.4 169.83h6M561.64 142.08V178.08M558.64 142.08h6M558.64 178.08h6M571.88 152.39V188.39M568.88 152.39h6M568.88 188.39h6M582.12 160.03V200.03M579.12 160.03h6M579.12 200.03h6M592.36 165.47V209.47M589.36 165.47h6M589.36 209.47h6M602.6 168.4V216.4M599.6 168.4h6M599.6 216.4h6M612.84 173.25V225.25M609.84 173.25h6M609.84 225.25h6M623.08 172V224M620.08 172h6M620.08 224h6M633.32 161.32V213.32M630.32 161.32h6M630.32 213.32h6M643.56 153.97V201.97M640.56 153.97h6M640.56 201.97h6M653.8 159.63V211.63M650.8 159.63h6M650.8 211.63h6M664.04 159.32V215.32M661.04 159.32h6M661.04 215.32h6M674.28 163.3V219.3M671.28 163.3h6M671.28 219.3h6M684.52 164.99V220.99M681.52 164.99h6M681.52 220.99h6M694.76 172.21V228.21M691.76 172.21h6M691.76 228.21h6M705 178.38V238.38M702 178.38h6M702 238.38h6M715.24 181.77V241.77M712.24 181.77h6M712.24 241.77h6M725.48 192.3V252.3M722.48 192.3h6M722.48 252.3h6M735.72 200.11V260.11M732.72 200.11h6M732.72 260.11h6M745.96 199.37V259.37M742.96 199.37h6M742.96 259.37h6M756.2 200.77V260.77M753.2 200.77h6M753.2 260.77h6M766.44 208.72V268.72M763.44 208.72h6M763.44 268.72h6M776.68 210.42V270.42M773.68 210.42h6M773.68 270.42h6" fill="none" stroke="#f3efa8" stroke-width="0.8"/>
<path d="M449 103.32V128.32M446 103.32h6M446 128.32h6M459.24 108.67V136.67M456.24 108.67h6M456.24 136.67h6M469.48 111.83V137.03M466.48 111.83h6M466.48 137.03h6M479.72 117.48V142.28M476.72 117.48h6M476.72 142.28h6M489.96 123.13V148.13M486.96 123.13h6M486.96 148.13h6M500.2 128.19V152.19M497.2 128.19h6M497.2 152.19h6M510.44 130.55V154.55M507.44 130.55h6M507.44 154.55h6M520.68 135.48V159.48M517.68 135.48h6M517.68 159.48h6M530.92 139.39V163.39M527.92 139.39h6M527.92 163.39h6M541.16 143.07V167.07M538.16 143.07h6M538.16 167.07h6M551.4 145.5V169.5M548.4 145.5h6M548.4 169.5h6M561.64 146.31V170.31M558.64 146.31h6M558.64 170.31h6M571.88 151.91V175.91M568.88 151.91h6M568.88 175.91h6M582.12 156.32V180.32M579.12 156.32h6M579.12 180.32h6M592.36 156.03V180.03M589.36 156.03h6M589.36 180.03h6M602.6 160.01V184.01M599.6 160.01h6M599.6 184.01h6M612.84 162.8V186.8M609.84 162.8h6M609.84 186.8h6M623.08 162.14V186.14M620.08 162.14h6M620.08 186.14h6M633.32 134.38V182.38M630.32 134.38h6M630.32 182.38h6M643.56 119.18V165.18M640.56 119.18h6M640.56 165.18h6M653.8 133.18V164.58M650.8 133.18h6M650.8 164.58h6M664.04 141.07V169.07M661.04 141.07h6M661.04 169.07h6M674.28 140.41V168.41M671.28 140.41h6M671.28 168.41h6M684.52 142.1V170.1M681.52 142.1h6M681.52 170.1h6M694.76 138.2V171.2M691.76 138.2h6M691.76 171.2h6M705 139.16V172.16M702 139.16h6M702 172.16h6M715.24 134.22V167.22M712.24 134.22h6M712.24 167.22h6M725.48 133.86V166.86M722.48 133.86h6M722.48 166.86h6M735.72 132.9V165.9M732.72 132.9h6M732.72 165.9h6M745.96 125.71V169.71M742.96 125.71h6M742.96 169.71h6M756.2 124.55V174.55M753.2 124.55h6M753.2 174.55h6M766.44 134.22V173.42M763.44 134.22h6M763.44 173.42h6M776.68 124.97V168.97M773.68 124.97h6M773.68 168.97h6" fill="none" stroke="#8eacdb" stroke-width="0.8"/>
<path d="M449 85.31V117.31M446 85.31h6M446 117.31h6M459.24 93.01V123.01M456.24 93.01h6M456.24 123.01h6M469.48 97.51V127.51M466.48 97.51h6M466.48 127.51h6M479.72 113.57V139.57M476.72 113.57h6M476.72 139.57h6M489.96 116.98V148.98M486.96 116.98h6M486.96 148.98h6M500.2 121.03V153.03M497.2 121.03h6M497.2 153.03h6M510.44 130.6V162.6M507.44 130.6h6M507.44 162.6h6M520.68 134.65V166.65M517.68 134.65h6M517.68 166.65h6M530.92 132.81V164.81M527.92 132.81h6M527.92 164.81h6M541.16 142.24V174.24M538.16 142.24h6M538.16 174.24h6M551.4 147.17V179.17M548.4 147.17h6M548.4 179.17h6M561.64 150.85V182.85M558.64 150.85h6M558.64 182.85h6M571.88 160.42V192.42M568.88 160.42h6M568.88 192.42h6M582.12 167.05V199.05M579.12 167.05h6M579.12 199.05h6M592.36 165.58V197.58M589.36 165.58h6M589.36 197.58h6M602.6 166.32V198.32M599.6 166.32h6M599.6 198.32h6M612.84 166.32V198.32M609.84 166.32h6M609.84 198.32h6M623.08 163.37V195.37M620.08 163.37h6M620.08 195.37h6M633.32 147.02V179.02M630.32 147.02h6M630.32 179.02h6M643.56 131.19V163.19M640.56 131.19h6M640.56 163.19h6M653.8 137.67V169.67M650.8 137.67h6M650.8 169.67h6M664.04 122.91V157.91M661.04 122.91h6M661.04 157.91h6M674.28 109.11V151.11M671.28 109.11h6M671.28 151.11h6M684.52 98.61V142.01M681.52 98.61h6M681.52 142.01h6M694.76 97.8V141.8M691.76 97.8h6M691.76 141.8h6M705 99.33V142.33M702 99.33h6M702 142.33h6M715.24 93.51V141.51M712.24 93.51h6M712.24 141.51h6M725.48 88.63V139.63M722.48 88.63h6M722.48 139.63h6M735.72 88.33V139.93M732.72 88.33h6M732.72 139.93h6M745.96 84.31V137.31M742.96 84.31h6M742.96 137.31h6M756.2 77.68V139.68M753.2 77.68h6M753.2 139.68h6M766.44 75.68V141.68M763.44 75.68h6M763.44 141.68h6M776.68 74.94V140.94M773.68 74.94h6M773.68 140.94h6" fill="none" stroke="#dccbe2" stroke-width="0.8"/>
<path d="M449 167.88L459.24 170.83L469.48 172.6L479.72 177.6L489.96 182.61L500.2 184.38L510.44 186.22L520.68 186.51L530.92 190.78L541.16 190.12L551.4 194.39L561.64 195.79L571.88 194.61L582.12 199.92L592.36 200.58L602.6 201.02L612.84 199.99L623.08 183.72L633.32 175.76L643.56 168.69L653.8 169.13L664.04 170.09L674.28 165.08L684.52 170.83L694.76 173.7L705 176.42L715.24 182.91L725.48 188.58L735.72 190.12L745.96 198.89L756.2 201.83L766.44 202.71L776.68 200.8" fill="none" stroke="#555" stroke-width="0.9"/>
<path d="M449 154.63L459.24 160.3L469.48 165.53L479.72 168.91L489.96 172.89L500.2 175.76L510.44 176.5L520.68 177.9L530.92 185.26L541.16 187.62L551.4 188.72L561.64 189.02L571.88 186.81L582.12 180.11L592.36 174.44L602.6 166.12L612.84 163.91L623.08 163.69L633.32 163.02L643.56 161.77L653.8 163.69L664.04 169.36L674.28 176.57L684.52 179.37L694.76 187.77L705 192.04L715.24 200.14L725.48 207.21L735.72 211.18L745.96 219.8L756.2 226.94L766.44 232.98L776.68 234.08" fill="none" stroke="#555" stroke-width="0.9"/>
<path d="M449 178.63L459.24 187.18L469.48 183.2L479.72 182.61L489.96 177.9L500.2 171.49L510.44 166.48L520.68 160.81L530.92 155.51L541.16 142.18L551.4 133.57L561.64 132.9L571.88 135.48L582.12 140.78L592.36 142.62L602.6 146.09L612.84 147.71L623.08 154.7L633.32 163.02L643.56 167.29L653.8 174.44L664.04 184.38L674.28 195.87L684.52 205.88L694.76 206.1L705 196.53L715.24 178.63L725.48 161.18L735.72 140.93L745.96 127.23L756.2 118.4L766.44 111.47L776.68 104.33" fill="none" stroke="#555" stroke-width="0.9"/>
<path d="M449 49.32L459.24 64.79L469.48 69.79L479.72 83.2L489.96 91.89L500.2 105.8L510.44 117.29L520.68 128.71L530.92 136.66L541.16 145.79L551.4 151.83L561.64 160.08L571.88 170.39L582.12 180.03L592.36 187.47L602.6 192.4L612.84 199.25L623.08 198L633.32 187.32L643.56 177.97L653.8 185.63L664.04 187.32L674.28 191.3L684.52 192.99L694.76 200.21L705 208.38L715.24 211.77L725.48 222.3L735.72 230.11L745.96 229.37L756.2 230.77L766.44 238.72L776.68 240.42" fill="none" stroke="#555" stroke-width="0.9"/>
<path d="M449 115.82L459.24 122.67L469.48 124.43L479.72 129.88L489.96 135.63L500.2 140.19L510.44 142.55L520.68 147.48L530.92 151.39L541.16 155.07L551.4 157.5L561.64 158.31L571.88 163.91L582.12 168.32L592.36 168.03L602.6 172.01L612.84 174.8L623.08 174.14L633.32 158.38L643.56 142.18L653.8 148.88L664.04 155.07L674.28 154.41L684.52 156.1L694.76 154.7L705 155.66L715.24 150.72L725.48 150.36L735.72 149.4L745.96 147.71L756.2 149.55L766.44 153.82L776.68 146.97" fill="none" stroke="#555" stroke-width="0.9"/>
<path d="M449 101.31L459.24 108.01L469.48 112.51L479.72 126.57L489.96 132.98L500.2 137.03L510.44 146.6L520.68 150.65L530.92 148.81L541.16 158.24L551.4 163.17L561.64 166.85L571.88 176.42L582.12 183.05L592.36 181.58L602.6 182.32L612.84 182.32L623.08 179.37L633.32 163.02L643.56 147.19L653.8 153.67L664.04 140.41L674.28 130.11L684.52 120.31L694.76 119.8L705 120.83L715.24 117.51L725.48 114.13L735.72 114.13L745.96 110.81L756.2 108.68L766.44 108.68L776.68 107.94" fill="none" stroke="#555" stroke-width="0.9"/>
<path d="M449 164.28L452.5 171.12L445.5 171.12Z" fill="#95c987" stroke="#3d5a36" stroke-width="0.7"/>
<path d="M459.24 167.23L462.74 174.07L455.74 174.07Z" fill="#95c987" stroke="#3d5a36" stroke-width="0.7"/>
<path d="M469.48 169L472.98 175.84L465.98 175.84Z" fill="#95c987" stroke="#3d5a36" stroke-width="0.7"/>
<path d="M479.72 174L483.22 180.84L476.22 180.84Z" fill="#95c987" stroke="#3d5a36" stroke-width="0.7"/>
<path d="M489.96 179.01L493.46 185.85L486.46 185.85Z" fill="#95c987" stroke="#3d5a36" stroke-width="0.7"/>
<path d="M500.2 180.78L503.7 187.62L496.7 187.62Z" fill="#95c987" stroke="#3d5a36" stroke-width="0.7"/>
<path d="M510.44 182.62L513.94 189.46L506.94 189.46Z" fill="#95c987" stroke="#3d5a36" stroke-width="0.7"/>
<path d="M520.68 182.91L524.18 189.75L517.18 189.75Z" fill="#95c987" stroke="#3d5a36" stroke-width="0.7"/>
<path d="M530.92 187.18L534.42 194.02L527.42 194.02Z" fill="#95c987" stroke="#3d5a36" stroke-width="0.7"/>
<path d="M541.16 186.52L544.66 193.36L537.66 193.36Z" fill="#95c987" stroke="#3d5a36" stroke-width="0.7"/>
<path d="M551.4 190.79L554.9 197.63L547.9 197.63Z" fill="#95c987" stroke="#3d5a36" stroke-width="0.7"/>
<path d="M561.64 192.19L565.14 199.03L558.14 199.03Z" fill="#95c987" stroke="#3d5a36" stroke-width="0.7"/>
<path d="M571.88 191.01L575.38 197.85L568.38 197.85Z" fill="#95c987" stroke="#3d5a36" stroke-width="0.7"/>
<path d="M582.12 196.32L585.62 203.16L578.62 203.16Z" fill="#95c987" stroke="#3d5a36" stroke-width="0.7"/>
<path d="M592.36 196.98L595.86 203.82L588.86 203.82Z" fill="#95c987" stroke="#3d5a36" stroke-width="0.7"/>
<path d="M602.6 197.42L606.1 204.26L599.1 204.26Z" fill="#95c987" stroke="#3d5a36" stroke-width="0.7"/>
<path d="M612.84 196.39L616.34 203.23L609.34 203.23Z" fill="#95c987" stroke="#3d5a36" stroke-width="0.7"/>
<path d="M623.08 180.12L626.58 186.96L619.58 186.96Z" fill="#95c987" stroke="#3d5a36" stroke-width="0.7"/>
<path d="M633.32 172.16L636.82 179L629.82 179Z" fill="#95c987" stroke="#3d5a36" stroke-width="0.7"/>
<path d="M643.56 165.09L647.06 171.93L640.06 171.93Z" fill="#95c987" stroke="#3d5a36" stroke-width="0.7"/>
<path d="M653.8 165.53L657.3 172.37L650.3 172.37Z" fill="#95c987" stroke="#3d5a36" stroke-width="0.7"/>
<path d="M664.04 166.49L667.54 173.33L660.54 173.33Z" fill="#95c987" stroke="#3d5a36" stroke-width="0.7"/>
<path d="M674.28 161.48L677.78 168.32L670.78 168.32Z" fill="#95c987" stroke="#3d5a36" stroke-width="0.7"/>
<path d="M684.52 167.23L688.02 174.07L681.02 174.07Z" fill="#95c987" stroke="#3d5a36" stroke-width="0.7"/>
<path d="M694.76 170.1L698.26 176.94L691.26 176.94Z" fill="#95c987" stroke="#3d5a36" stroke-width="0.7"/>
<path d="M705 172.82L708.5 179.66L701.5 179.66Z" fill="#95c987" stroke="#3d5a36" stroke-width="0.7"/>
<path d="M715.24 179.31L718.74 186.15L711.74 186.15Z" fill="#95c987" stroke="#3d5a36" stroke-width="0.7"/>
<path d="M725.48 184.98L728.98 191.82L721.98 191.82Z" fill="#95c987" stroke="#3d5a36" stroke-width="0.7"/>
<path d="M735.72 186.52L739.22 193.36L732.22 193.36Z" fill="#95c987" stroke="#3d5a36" stroke-width="0.7"/>
<path d="M745.96 195.29L749.46 202.13L742.46 202.13Z" fill="#95c987" stroke="#3d5a36" stroke-width="0.7"/>
<path d="M756.2 198.23L759.7 205.07L752.7 205.07Z" fill="#95c987" stroke="#3d5a36" stroke-width="0.7"/>
<path d="M766.44 199.11L769.94 205.95L762.94 205.95Z" fill="#95c987" stroke="#3d5a36" stroke-width="0.7"/>
<path d="M776.68 197.2L780.18 204.04L773.18 204.04Z" fill="#95c987" stroke="#3d5a36" stroke-width="0.7"/>
<circle cx="449" cy="154.63" r="3.4" fill="#ea5627" stroke="#8a2a10" stroke-width="0.8"/>
<circle cx="459.24" cy="160.3" r="3.4" fill="#ea5627" stroke="#8a2a10" stroke-width="0.8"/>
<circle cx="469.48" cy="165.53" r="3.4" fill="#ea5627" stroke="#8a2a10" stroke-width="0.8"/>
<circle cx="479.72" cy="168.91" r="3.4" fill="#ea5627" stroke="#8a2a10" stroke-width="0.8"/>
<circle cx="489.96" cy="172.89" r="3.4" fill="#ea5627" stroke="#8a2a10" stroke-width="0.8"/>
<circle cx="500.2" cy="175.76" r="3.4" fill="#ea5627" stroke="#8a2a10" stroke-width="0.8"/>
<circle cx="510.44" cy="176.5" r="3.4" fill="#ea5627" stroke="#8a2a10" stroke-width="0.8"/>
<circle cx="520.68" cy="177.9" r="3.4" fill="#ea5627" stroke="#8a2a10" stroke-width="0.8"/>
<circle cx="530.92" cy="185.26" r="3.4" fill="#ea5627" stroke="#8a2a10" stroke-width="0.8"/>
<circle cx="541.16" cy="187.62" r="3.4" fill="#ea5627" stroke="#8a2a10" stroke-width="0.8"/>
<circle cx="551.4" cy="188.72" r="3.4" fill="#ea5627" stroke="#8a2a10" stroke-width="0.8"/>
<circle cx="561.64" cy="189.02" r="3.4" fill="#ea5627" stroke="#8a2a10" stroke-width="0.8"/>
<circle cx="571.88" cy="186.81" r="3.4" fill="#ea5627" stroke="#8a2a10" stroke-width="0.8"/>
<circle cx="582.12" cy="180.11" r="3.4" fill="#ea5627" stroke="#8a2a10" stroke-width="0.8"/>
<circle cx="592.36" cy="174.44" r="3.4" fill="#ea5627" stroke="#8a2a10" stroke-width="0.8"/>
<circle cx="602.6" cy="166.12" r="3.4" fill="#ea5627" stroke="#8a2a10" stroke-width="0.8"/>
<circle cx="612.84" cy="163.91" r="3.4" fill="#ea5627" stroke="#8a2a10" stroke-width="0.8"/>
<circle cx="623.08" cy="163.69" r="3.4" fill="#ea5627" stroke="#8a2a10" stroke-width="0.8"/>
<circle cx="633.32" cy="163.02" r="3.4" fill="#ea5627" stroke="#8a2a10" stroke-width="0.8"/>
<circle cx="643.56" cy="161.77" r="3.4" fill="#ea5627" stroke="#8a2a10" stroke-width="0.8"/>
<circle cx="653.8" cy="163.69" r="3.4" fill="#ea5627" stroke="#8a2a10" stroke-width="0.8"/>
<circle cx="664.04" cy="169.36" r="3.4" fill="#ea5627" stroke="#8a2a10" stroke-width="0.8"/>
<circle cx="674.28" cy="176.57" r="3.4" fill="#ea5627" stroke="#8a2a10" stroke-width="0.8"/>
<circle cx="684.52" cy="179.37" r="3.4" fill="#ea5627" stroke="#8a2a10" stroke-width="0.8"/>
<circle cx="694.76" cy="187.77" r="3.4" fill="#ea5627" stroke="#8a2a10" stroke-width="0.8"/>
<circle cx="705" cy="192.04" r="3.4" fill="#ea5627" stroke="#8a2a10" stroke-width="0.8"/>
<circle cx="715.24" cy="200.14" r="3.4" fill="#ea5627" stroke="#8a2a10" stroke-width="0.8"/>
<circle cx="725.48" cy="207.21" r="3.4" fill="#ea5627" stroke="#8a2a10" stroke-width="0.8"/>
<circle cx="735.72" cy="211.18" r="3.4" fill="#ea5627" stroke="#8a2a10" stroke-width="0.8"/>
<circle cx="745.96" cy="219.8" r="3.4" fill="#ea5627" stroke="#8a2a10" stroke-width="0.8"/>
<circle cx="756.2" cy="226.94" r="3.4" fill="#ea5627" stroke="#8a2a10" stroke-width="0.8"/>
<circle cx="766.44" cy="232.98" r="3.4" fill="#ea5627" stroke="#8a2a10" stroke-width="0.8"/>
<circle cx="776.68" cy="234.08" r="3.4" fill="#ea5627" stroke="#8a2a10" stroke-width="0.8"/>
<rect x="445.9" y="175.53" width="6.2" height="6.2" fill="#0c0c0c" stroke="#222" stroke-width="0.6"/>
<rect x="456.14" y="184.08" width="6.2" height="6.2" fill="#0c0c0c" stroke="#222" stroke-width="0.6"/>
<rect x="466.38" y="180.1" width="6.2" height="6.2" fill="#0c0c0c" stroke="#222" stroke-width="0.6"/>
<rect x="476.62" y="179.51" width="6.2" height="6.2" fill="#0c0c0c" stroke="#222" stroke-width="0.6"/>
<rect x="486.86" y="174.8" width="6.2" height="6.2" fill="#0c0c0c" stroke="#222" stroke-width="0.6"/>
<rect x="497.1" y="168.39" width="6.2" height="6.2" fill="#0c0c0c" stroke="#222" stroke-width="0.6"/>
<rect x="507.34" y="163.38" width="6.2" height="6.2" fill="#0c0c0c" stroke="#222" stroke-width="0.6"/>
<rect x="517.58" y="157.71" width="6.2" height="6.2" fill="#0c0c0c" stroke="#222" stroke-width="0.6"/>
<rect x="527.82" y="152.41" width="6.2" height="6.2" fill="#0c0c0c" stroke="#222" stroke-width="0.6"/>
<rect x="538.06" y="139.08" width="6.2" height="6.2" fill="#0c0c0c" stroke="#222" stroke-width="0.6"/>
<rect x="548.3" y="130.47" width="6.2" height="6.2" fill="#0c0c0c" stroke="#222" stroke-width="0.6"/>
<rect x="558.54" y="129.8" width="6.2" height="6.2" fill="#0c0c0c" stroke="#222" stroke-width="0.6"/>
<rect x="568.78" y="132.38" width="6.2" height="6.2" fill="#0c0c0c" stroke="#222" stroke-width="0.6"/>
<rect x="579.02" y="137.68" width="6.2" height="6.2" fill="#0c0c0c" stroke="#222" stroke-width="0.6"/>
<rect x="589.26" y="139.52" width="6.2" height="6.2" fill="#0c0c0c" stroke="#222" stroke-width="0.6"/>
<rect x="599.5" y="142.99" width="6.2" height="6.2" fill="#0c0c0c" stroke="#222" stroke-width="0.6"/>
<rect x="609.74" y="144.61" width="6.2" height="6.2" fill="#0c0c0c" stroke="#222" stroke-width="0.6"/>
<rect x="619.98" y="151.6" width="6.2" height="6.2" fill="#0c0c0c" stroke="#222" stroke-width="0.6"/>
<rect x="630.22" y="159.92" width="6.2" height="6.2" fill="#0c0c0c" stroke="#222" stroke-width="0.6"/>
<rect x="640.46" y="164.19" width="6.2" height="6.2" fill="#0c0c0c" stroke="#222" stroke-width="0.6"/>
<rect x="650.7" y="171.34" width="6.2" height="6.2" fill="#0c0c0c" stroke="#222" stroke-width="0.6"/>
<rect x="660.94" y="181.28" width="6.2" height="6.2" fill="#0c0c0c" stroke="#222" stroke-width="0.6"/>
<rect x="671.18" y="192.77" width="6.2" height="6.2" fill="#0c0c0c" stroke="#222" stroke-width="0.6"/>
<rect x="681.42" y="202.78" width="6.2" height="6.2" fill="#0c0c0c" stroke="#222" stroke-width="0.6"/>
<rect x="691.66" y="203" width="6.2" height="6.2" fill="#0c0c0c" stroke="#222" stroke-width="0.6"/>
<rect x="701.9" y="193.43" width="6.2" height="6.2" fill="#0c0c0c" stroke="#222" stroke-width="0.6"/>
<rect x="712.14" y="175.53" width="6.2" height="6.2" fill="#0c0c0c" stroke="#222" stroke-width="0.6"/>
<rect x="722.38" y="158.08" width="6.2" height="6.2" fill="#0c0c0c" stroke="#222" stroke-width="0.6"/>
<rect x="732.62" y="137.83" width="6.2" height="6.2" fill="#0c0c0c" stroke="#222" stroke-width="0.6"/>
<rect x="742.86" y="124.13" width="6.2" height="6.2" fill="#0c0c0c" stroke="#222" stroke-width="0.6"/>
<rect x="753.1" y="115.3" width="6.2" height="6.2" fill="#0c0c0c" stroke="#222" stroke-width="0.6"/>
<rect x="763.34" y="108.37" width="6.2" height="6.2" fill="#0c0c0c" stroke="#222" stroke-width="0.6"/>
<rect x="773.58" y="101.23" width="6.2" height="6.2" fill="#0c0c0c" stroke="#222" stroke-width="0.6"/>
<path d="M449 45.62L453 49.32L449 53.02L445 49.32Z" fill="#f6ee68" stroke="#4a4a2a" stroke-width="0.8"/>
<path d="M459.24 61.09L463.24 64.79L459.24 68.49L455.24 64.79Z" fill="#f6ee68" stroke="#4a4a2a" stroke-width="0.8"/>
<path d="M469.48 66.09L473.48 69.79L469.48 73.49L465.48 69.79Z" fill="#f6ee68" stroke="#4a4a2a" stroke-width="0.8"/>
<path d="M479.72 79.5L483.72 83.2L479.72 86.9L475.72 83.2Z" fill="#f6ee68" stroke="#4a4a2a" stroke-width="0.8"/>
<path d="M489.96 88.19L493.96 91.89L489.96 95.59L485.96 91.89Z" fill="#f6ee68" stroke="#4a4a2a" stroke-width="0.8"/>
<path d="M500.2 102.1L504.2 105.8L500.2 109.5L496.2 105.8Z" fill="#f6ee68" stroke="#4a4a2a" stroke-width="0.8"/>
<path d="M510.44 113.59L514.44 117.29L510.44 120.99L506.44 117.29Z" fill="#f6ee68" stroke="#4a4a2a" stroke-width="0.8"/>
<path d="M520.68 125.01L524.68 128.71L520.68 132.41L516.68 128.71Z" fill="#f6ee68" stroke="#4a4a2a" stroke-width="0.8"/>
<path d="M530.92 132.96L534.92 136.66L530.92 140.36L526.92 136.66Z" fill="#f6ee68" stroke="#4a4a2a" stroke-width="0.8"/>
<path d="M541.16 142.09L545.16 145.79L541.16 149.49L537.16 145.79Z" fill="#f6ee68" stroke="#4a4a2a" stroke-width="0.8"/>
<path d="M551.4 148.13L555.4 151.83L551.4 155.53L547.4 151.83Z" fill="#f6ee68" stroke="#4a4a2a" stroke-width="0.8"/>
<path d="M561.64 156.38L565.64 160.08L561.64 163.78L557.64 160.08Z" fill="#f6ee68" stroke="#4a4a2a" stroke-width="0.8"/>
<path d="M571.88 166.69L575.88 170.39L571.88 174.09L567.88 170.39Z" fill="#f6ee68" stroke="#4a4a2a" stroke-width="0.8"/>
<path d="M582.12 176.33L586.12 180.03L582.12 183.73L578.12 180.03Z" fill="#f6ee68" stroke="#4a4a2a" stroke-width="0.8"/>
<path d="M592.36 183.77L596.36 187.47L592.36 191.17L588.36 187.47Z" fill="#f6ee68" stroke="#4a4a2a" stroke-width="0.8"/>
<path d="M602.6 188.7L606.6 192.4L602.6 196.1L598.6 192.4Z" fill="#f6ee68" stroke="#4a4a2a" stroke-width="0.8"/>
<path d="M612.84 195.55L616.84 199.25L612.84 202.95L608.84 199.25Z" fill="#f6ee68" stroke="#4a4a2a" stroke-width="0.8"/>
<path d="M623.08 194.3L627.08 198L623.08 201.7L619.08 198Z" fill="#f6ee68" stroke="#4a4a2a" stroke-width="0.8"/>
<path d="M633.32 183.62L637.32 187.32L633.32 191.02L629.32 187.32Z" fill="#f6ee68" stroke="#4a4a2a" stroke-width="0.8"/>
<path d="M643.56 174.27L647.56 177.97L643.56 181.67L639.56 177.97Z" fill="#f6ee68" stroke="#4a4a2a" stroke-width="0.8"/>
<path d="M653.8 181.93L657.8 185.63L653.8 189.33L649.8 185.63Z" fill="#f6ee68" stroke="#4a4a2a" stroke-width="0.8"/>
<path d="M664.04 183.62L668.04 187.32L664.04 191.02L660.04 187.32Z" fill="#f6ee68" stroke="#4a4a2a" stroke-width="0.8"/>
<path d="M674.28 187.6L678.28 191.3L674.28 195L670.28 191.3Z" fill="#f6ee68" stroke="#4a4a2a" stroke-width="0.8"/>
<path d="M684.52 189.29L688.52 192.99L684.52 196.69L680.52 192.99Z" fill="#f6ee68" stroke="#4a4a2a" stroke-width="0.8"/>
<path d="M694.76 196.51L698.76 200.21L694.76 203.91L690.76 200.21Z" fill="#f6ee68" stroke="#4a4a2a" stroke-width="0.8"/>
<path d="M705 204.68L709 208.38L705 212.08L701 208.38Z" fill="#f6ee68" stroke="#4a4a2a" stroke-width="0.8"/>
<path d="M715.24 208.07L719.24 211.77L715.24 215.47L711.24 211.77Z" fill="#f6ee68" stroke="#4a4a2a" stroke-width="0.8"/>
<path d="M725.48 218.6L729.48 222.3L725.48 226L721.48 222.3Z" fill="#f6ee68" stroke="#4a4a2a" stroke-width="0.8"/>
<path d="M735.72 226.41L739.72 230.11L735.72 233.81L731.72 230.11Z" fill="#f6ee68" stroke="#4a4a2a" stroke-width="0.8"/>
<path d="M745.96 225.67L749.96 229.37L745.96 233.07L741.96 229.37Z" fill="#f6ee68" stroke="#4a4a2a" stroke-width="0.8"/>
<path d="M756.2 227.07L760.2 230.77L756.2 234.47L752.2 230.77Z" fill="#f6ee68" stroke="#4a4a2a" stroke-width="0.8"/>
<path d="M766.44 235.02L770.44 238.72L766.44 242.42L762.44 238.72Z" fill="#f6ee68" stroke="#4a4a2a" stroke-width="0.8"/>
<path d="M776.68 236.72L780.68 240.42L776.68 244.12L772.68 240.42Z" fill="#f6ee68" stroke="#4a4a2a" stroke-width="0.8"/>
<path d="M449 119.92L452.4 113.08L445.6 113.08Z" fill="#2d5da6" stroke="#1a3566" stroke-width="0.7"/>
<path d="M459.24 126.77L462.64 119.93L455.84 119.93Z" fill="#2d5da6" stroke="#1a3566" stroke-width="0.7"/>
<path d="M469.48 128.53L472.88 121.69L466.08 121.69Z" fill="#2d5da6" stroke="#1a3566" stroke-width="0.7"/>
<path d="M479.72 133.98L483.12 127.14L476.32 127.14Z" fill="#2d5da6" stroke="#1a3566" stroke-width="0.7"/>
<path d="M489.96 139.73L493.36 132.89L486.56 132.89Z" fill="#2d5da6" stroke="#1a3566" stroke-width="0.7"/>
<path d="M500.2 144.29L503.6 137.45L496.8 137.45Z" fill="#2d5da6" stroke="#1a3566" stroke-width="0.7"/>
<path d="M510.44 146.65L513.84 139.81L507.04 139.81Z" fill="#2d5da6" stroke="#1a3566" stroke-width="0.7"/>
<path d="M520.68 151.58L524.08 144.74L517.28 144.74Z" fill="#2d5da6" stroke="#1a3566" stroke-width="0.7"/>
<path d="M530.92 155.49L534.32 148.65L527.52 148.65Z" fill="#2d5da6" stroke="#1a3566" stroke-width="0.7"/>
<path d="M541.16 159.17L544.56 152.33L537.76 152.33Z" fill="#2d5da6" stroke="#1a3566" stroke-width="0.7"/>
<path d="M551.4 161.6L554.8 154.76L548 154.76Z" fill="#2d5da6" stroke="#1a3566" stroke-width="0.7"/>
<path d="M561.64 162.41L565.04 155.57L558.24 155.57Z" fill="#2d5da6" stroke="#1a3566" stroke-width="0.7"/>
<path d="M571.88 168.01L575.28 161.17L568.48 161.17Z" fill="#2d5da6" stroke="#1a3566" stroke-width="0.7"/>
<path d="M582.12 172.42L585.52 165.58L578.72 165.58Z" fill="#2d5da6" stroke="#1a3566" stroke-width="0.7"/>
<path d="M592.36 172.13L595.76 165.29L588.96 165.29Z" fill="#2d5da6" stroke="#1a3566" stroke-width="0.7"/>
<path d="M602.6 176.11L606 169.27L599.2 169.27Z" fill="#2d5da6" stroke="#1a3566" stroke-width="0.7"/>
<path d="M612.84 178.9L616.24 172.06L609.44 172.06Z" fill="#2d5da6" stroke="#1a3566" stroke-width="0.7"/>
<path d="M623.08 178.24L626.48 171.4L619.68 171.4Z" fill="#2d5da6" stroke="#1a3566" stroke-width="0.7"/>
<path d="M633.32 162.48L636.72 155.64L629.92 155.64Z" fill="#2d5da6" stroke="#1a3566" stroke-width="0.7"/>
<path d="M643.56 146.28L646.96 139.44L640.16 139.44Z" fill="#2d5da6" stroke="#1a3566" stroke-width="0.7"/>
<path d="M653.8 152.98L657.2 146.14L650.4 146.14Z" fill="#2d5da6" stroke="#1a3566" stroke-width="0.7"/>
<path d="M664.04 159.17L667.44 152.33L660.64 152.33Z" fill="#2d5da6" stroke="#1a3566" stroke-width="0.7"/>
<path d="M674.28 158.51L677.68 151.67L670.88 151.67Z" fill="#2d5da6" stroke="#1a3566" stroke-width="0.7"/>
<path d="M684.52 160.2L687.92 153.36L681.12 153.36Z" fill="#2d5da6" stroke="#1a3566" stroke-width="0.7"/>
<path d="M694.76 158.8L698.16 151.96L691.36 151.96Z" fill="#2d5da6" stroke="#1a3566" stroke-width="0.7"/>
<path d="M705 159.76L708.4 152.92L701.6 152.92Z" fill="#2d5da6" stroke="#1a3566" stroke-width="0.7"/>
<path d="M715.24 154.82L718.64 147.98L711.84 147.98Z" fill="#2d5da6" stroke="#1a3566" stroke-width="0.7"/>
<path d="M725.48 154.46L728.88 147.62L722.08 147.62Z" fill="#2d5da6" stroke="#1a3566" stroke-width="0.7"/>
<path d="M735.72 153.5L739.12 146.66L732.32 146.66Z" fill="#2d5da6" stroke="#1a3566" stroke-width="0.7"/>
<path d="M745.96 151.81L749.36 144.97L742.56 144.97Z" fill="#2d5da6" stroke="#1a3566" stroke-width="0.7"/>
<path d="M756.2 153.65L759.6 146.81L752.8 146.81Z" fill="#2d5da6" stroke="#1a3566" stroke-width="0.7"/>
<path d="M766.44 157.92L769.84 151.08L763.04 151.08Z" fill="#2d5da6" stroke="#1a3566" stroke-width="0.7"/>
<path d="M776.68 151.07L780.08 144.23L773.28 144.23Z" fill="#2d5da6" stroke="#1a3566" stroke-width="0.7"/>
<path d="M449 98.71L453.7 101.31L449 103.91L444.3 101.31Z" fill="#a97cb8" stroke="#5a4060" stroke-width="0.7"/>
<path d="M459.24 105.41L463.94 108.01L459.24 110.61L454.54 108.01Z" fill="#a97cb8" stroke="#5a4060" stroke-width="0.7"/>
<path d="M469.48 109.91L474.18 112.51L469.48 115.11L464.78 112.51Z" fill="#a97cb8" stroke="#5a4060" stroke-width="0.7"/>
<path d="M479.72 123.97L484.42 126.57L479.72 129.17L475.02 126.57Z" fill="#a97cb8" stroke="#5a4060" stroke-width="0.7"/>
<path d="M489.96 130.38L494.66 132.98L489.96 135.58L485.26 132.98Z" fill="#a97cb8" stroke="#5a4060" stroke-width="0.7"/>
<path d="M500.2 134.43L504.9 137.03L500.2 139.63L495.5 137.03Z" fill="#a97cb8" stroke="#5a4060" stroke-width="0.7"/>
<path d="M510.44 144L515.14 146.6L510.44 149.2L505.74 146.6Z" fill="#a97cb8" stroke="#5a4060" stroke-width="0.7"/>
<path d="M520.68 148.05L525.38 150.65L520.68 153.25L515.98 150.65Z" fill="#a97cb8" stroke="#5a4060" stroke-width="0.7"/>
<path d="M530.92 146.21L535.62 148.81L530.92 151.41L526.22 148.81Z" fill="#a97cb8" stroke="#5a4060" stroke-width="0.7"/>
<path d="M541.16 155.64L545.86 158.24L541.16 160.84L536.46 158.24Z" fill="#a97cb8" stroke="#5a4060" stroke-width="0.7"/>
<path d="M551.4 160.57L556.1 163.17L551.4 165.77L546.7 163.17Z" fill="#a97cb8" stroke="#5a4060" stroke-width="0.7"/>
<path d="M561.64 164.25L566.34 166.85L561.64 169.45L556.94 166.85Z" fill="#a97cb8" stroke="#5a4060" stroke-width="0.7"/>
<path d="M571.88 173.82L576.58 176.42L571.88 179.02L567.18 176.42Z" fill="#a97cb8" stroke="#5a4060" stroke-width="0.7"/>
<path d="M582.12 180.45L586.82 183.05L582.12 185.65L577.42 183.05Z" fill="#a97cb8" stroke="#5a4060" stroke-width="0.7"/>
<path d="M592.36 178.98L597.06 181.58L592.36 184.18L587.66 181.58Z" fill="#a97cb8" stroke="#5a4060" stroke-width="0.7"/>
<path d="M602.6 179.72L607.3 182.32L602.6 184.92L597.9 182.32Z" fill="#a97cb8" stroke="#5a4060" stroke-width="0.7"/>
<path d="M612.84 179.72L617.54 182.32L612.84 184.92L608.14 182.32Z" fill="#a97cb8" stroke="#5a4060" stroke-width="0.7"/>
<path d="M623.08 176.77L627.78 179.37L623.08 181.97L618.38 179.37Z" fill="#a97cb8" stroke="#5a4060" stroke-width="0.7"/>
<path d="M633.32 160.42L638.02 163.02L633.32 165.62L628.62 163.02Z" fill="#a97cb8" stroke="#5a4060" stroke-width="0.7"/>
<path d="M643.56 144.59L648.26 147.19L643.56 149.79L638.86 147.19Z" fill="#a97cb8" stroke="#5a4060" stroke-width="0.7"/>
<path d="M653.8 151.07L658.5 153.67L653.8 156.27L649.1 153.67Z" fill="#a97cb8" stroke="#5a4060" stroke-width="0.7"/>
<path d="M664.04 137.81L668.74 140.41L664.04 143.01L659.34 140.41Z" fill="#a97cb8" stroke="#5a4060" stroke-width="0.7"/>
<path d="M674.28 127.51L678.98 130.11L674.28 132.71L669.58 130.11Z" fill="#a97cb8" stroke="#5a4060" stroke-width="0.7"/>
<path d="M684.52 117.71L689.22 120.31L684.52 122.91L679.82 120.31Z" fill="#a97cb8" stroke="#5a4060" stroke-width="0.7"/>
<path d="M694.76 117.2L699.46 119.8L694.76 122.4L690.06 119.8Z" fill="#a97cb8" stroke="#5a4060" stroke-width="0.7"/>
<path d="M705 118.23L709.7 120.83L705 123.43L700.3 120.83Z" fill="#a97cb8" stroke="#5a4060" stroke-width="0.7"/>
<path d="M715.24 114.91L719.94 117.51L715.24 120.11L710.54 117.51Z" fill="#a97cb8" stroke="#5a4060" stroke-width="0.7"/>
<path d="M725.48 111.53L730.18 114.13L725.48 116.73L720.78 114.13Z" fill="#a97cb8" stroke="#5a4060" stroke-width="0.7"/>
<path d="M735.72 111.53L740.42 114.13L735.72 116.73L731.02 114.13Z" fill="#a97cb8" stroke="#5a4060" stroke-width="0.7"/>
<path d="M745.96 108.21L750.66 110.81L745.96 113.41L741.26 110.81Z" fill="#a97cb8" stroke="#5a4060" stroke-width="0.7"/>
<path d="M756.2 106.08L760.9 108.68L756.2 111.28L751.5 108.68Z" fill="#a97cb8" stroke="#5a4060" stroke-width="0.7"/>
<path d="M766.44 106.08L771.14 108.68L766.44 111.28L761.74 108.68Z" fill="#a97cb8" stroke="#5a4060" stroke-width="0.7"/>
<path d="M776.68 105.34L781.38 107.94L776.68 110.54L771.98 107.94Z" fill="#a97cb8" stroke="#5a4060" stroke-width="0.7"/></g>
<clipPath id="cC"><rect x="47.0" y="290.6" width="344.1" height="233.39999999999998"/></clipPath><g clip-path="url(#cC)"><path d="M55.6 478.28V490.28M52.6 478.28h6M52.6 490.28h6M66.5 477.2V487.2M63.5 477.2h6M63.5 487.2h6M77.4 474.48V484.48M74.4 474.48h6M74.4 484.48h6M88.29 474V484M85.29 474h6M85.29 484h6M99.19 471.76V481.76M96.19 471.76h6M96.19 481.76h6M110.09 473.36V483.36M107.09 473.36h6M107.09 483.36h6M120.99 469.99V479.99M117.99 469.99h6M117.99 479.99h6M131.88 469.99V479.99M128.88 469.99h6M128.88 479.99h6M142.78 469.51V479.51M139.78 469.51h6M139.78 479.51h6M153.68 469.51V479.51M150.68 469.51h6M150.68 479.51h6M164.57 471.44V481.44M161.57 471.44h6M161.57 481.44h6M175.47 469.83V479.83M172.47 469.83h6M172.47 479.83h6M186.37 467.43V477.43M183.37 467.43h6M183.37 477.43h6M197.27 467.11V477.11M194.27 467.11h6M194.27 477.11h6M208.16 463.11V473.11M205.16 463.11h6M205.16 473.11h6M219.06 463.59V473.59M216.06 463.59h6M216.06 473.59h6M229.96 457.99V467.99M226.96 457.99h6M226.96 467.99h6M240.86 453.5V463.5M237.86 453.5h6M237.86 463.5h6M251.75 444.38V454.38M248.75 444.38h6M248.75 454.38h6M262.65 456.19V479.39M259.65 456.19h6M259.65 479.39h6" fill="none" stroke="#a8d8a8" stroke-width="0.8"/>
<path d="M55.6 482.68V498.68M52.6 482.68h6M52.6 498.68h6M66.5 476.76V492.76M63.5 476.76h6M63.5 492.76h6M77.4 480.44V496.44M74.4 480.44h6M74.4 496.44h6M88.29 483.72V495.72M85.29 483.72h6M85.29 495.72h6M99.19 478.76V490.76M96.19 478.76h6M96.19 490.76h6M110.09 482V500M107.09 482h6M107.09 500h6M120.99 475.84V489.84M117.99 475.84h6M117.99 489.84h6M131.88 481.04V499.04M128.88 481.04h6M128.88 499.04h6M142.78 478.2V494.2M139.78 478.2h6M139.78 494.2h6M153.68 473.4V489.4M150.68 473.4h6M150.68 489.4h6M164.57 476.44V492.44M161.57 476.44h6M161.57 492.44h6M175.47 468.76V484.76M172.47 468.76h6M172.47 484.76h6M186.37 458.35V474.35M183.37 458.35h6M183.37 474.35h6M197.27 449.54V465.54M194.27 449.54h6M194.27 465.54h6M208.16 440.9V456.9M205.16 440.9h6M205.16 456.9h6M219.06 440.42V456.42M216.06 440.42h6M216.06 456.42h6M229.96 451.46V467.46M226.96 451.46h6M226.96 467.46h6M240.86 497.09V513.09M237.86 497.09h6M237.86 513.09h6" fill="none" stroke="#f4a8a0" stroke-width="0.8"/>
<path d="M55.6 452.49V473.49M52.6 452.49h6M52.6 473.49h6M66.5 457.87V465.87M63.5 457.87h6M63.5 465.87h6M77.4 456.75V464.75M74.4 456.75h6M74.4 464.75h6M88.29 455.62V463.62M85.29 455.62h6M85.29 463.62h6M99.19 450.34V458.34M96.19 450.34h6M96.19 458.34h6M110.09 450.98V458.98M107.09 450.98h6M107.09 458.98h6M120.99 449.7V457.7M117.99 449.7h6M117.99 457.7h6M131.88 450.02V458.02M128.88 450.02h6M128.88 458.02h6M142.78 451.46V459.46M139.78 451.46h6M139.78 459.46h6M153.68 452.9V460.9M150.68 452.9h6M150.68 460.9h6M164.57 455.95V463.95M161.57 455.95h6M161.57 463.95h6M175.47 456.59V464.59M172.47 456.59h6M172.47 464.59h6M186.37 458.59V466.59M183.37 458.59h6M183.37 466.59h6M197.27 459.31V467.31M194.27 459.31h6M194.27 467.31h6M208.16 458.99V466.99M205.16 458.99h6M205.16 466.99h6M219.06 458.83V466.83M216.06 458.83h6M216.06 466.83h6M229.96 458.99V466.99M226.96 458.99h6M226.96 466.99h6M240.86 461.23V469.23M237.86 461.23h6M237.86 469.23h6M251.75 462.51V470.51M248.75 462.51h6M248.75 470.51h6M262.65 461.87V469.87M259.65 461.87h6M259.65 469.87h6M273.55 464.59V472.59M270.55 464.59h6M270.55 472.59h6M284.45 464.75V472.75M281.45 464.75h6M281.45 472.75h6M295.35 462.51V470.51M292.35 462.51h6M292.35 470.51h6M306.24 460.91V468.91M303.24 460.91h6M303.24 468.91h6M317.14 459.79V467.79M314.14 459.79h6M314.14 467.79h6M328.04 454.18V462.18M325.04 454.18h6M325.04 462.18h6M338.94 440.58V448.58M335.94 440.58h6M335.94 448.58h6M349.83 417.2V425.2M346.83 417.2h6M346.83 425.2h6M360.73 386.78V394.78M357.73 386.78h6M357.73 394.78h6M371.63 345.96V353.96M368.63 345.96h6M368.63 353.96h6M382.53 295.79V306.79M379.53 295.79h6M379.53 306.79h6" fill="none" stroke="#555" stroke-width="0.8"/>
<path d="M55.6 491.13V509.13M52.6 491.13h6M52.6 509.13h6M66.5 492.53V504.53M63.5 492.53h6M63.5 504.53h6M77.4 486.45V498.45M74.4 486.45h6M74.4 498.45h6M88.29 487.25V499.25M85.29 487.25h6M85.29 499.25h6M99.19 485.48V497.48M96.19 485.48h6M96.19 497.48h6M110.09 477.16V489.16M107.09 477.16h6M107.09 489.16h6M120.99 488.53V500.53M117.99 488.53h6M117.99 500.53h6M131.88 482.92V494.92M128.88 482.92h6M128.88 494.92h6M142.78 483.56V495.56M139.78 483.56h6M139.78 495.56h6M153.68 486.61V498.61M150.68 486.61h6M150.68 498.61h6M164.57 481.16V493.16M161.57 481.16h6M161.57 493.16h6M175.47 484.84V496.84M172.47 484.84h6M172.47 496.84h6M186.37 484.44V496.44M183.37 484.44h6M183.37 496.44h6M197.27 479.64V491.64M194.27 479.64h6M194.27 491.64h6M208.16 482.28V494.28M205.16 482.28h6M205.16 494.28h6M219.06 485.48V497.48M216.06 485.48h6M216.06 497.48h6M229.96 489.09V501.09M226.96 489.09h6M226.96 501.09h6M240.86 483.88V495.88M237.86 483.88h6M237.86 495.88h6M251.75 489.01V501.01M248.75 489.01h6M248.75 501.01h6M262.65 493.17V505.17M259.65 493.17h6M259.65 505.17h6M273.55 472.94V552.94M270.55 472.94h6M270.55 552.94h6" fill="none" stroke="#f8f0a0" stroke-width="0.8"/>
<path d="M55.6 476.2V488.2M52.6 476.2h6M52.6 488.2h6M66.5 475.72V487.72M63.5 475.72h6M63.5 487.72h6M77.4 471.24V483.24M74.4 471.24h6M74.4 483.24h6M88.29 468.51V480.51M85.29 468.51h6M85.29 480.51h6M99.19 465.63V477.63M96.19 465.63h6M96.19 477.63h6M110.09 463.71V475.71M107.09 463.71h6M107.09 475.71h6M120.99 460.05V487.05M117.99 460.05h6M117.99 487.05h6M131.88 460.35V472.35M128.88 460.35h6M128.88 472.35h6M142.78 459.55V471.55M139.78 459.55h6M139.78 471.55h6M153.68 460.35V472.35M150.68 460.35h6M150.68 472.35h6M164.57 460.27V472.27M161.57 460.27h6M161.57 472.27h6M175.47 468.75V480.75M172.47 468.75h6M172.47 480.75h6M186.37 464.75V476.75M183.37 464.75h6M183.37 476.75h6M197.27 467.07V479.07M194.27 467.07h6M194.27 479.07h6M208.16 466.59V478.59M205.16 466.59h6M205.16 478.59h6M219.06 467.55V479.55M216.06 467.55h6M216.06 479.55h6M229.96 470.44V482.44M226.96 470.44h6M226.96 482.44h6M240.86 470.44V482.44M237.86 470.44h6M237.86 482.44h6M251.75 479.64V491.64M248.75 479.64h6M248.75 491.64h6M262.65 496.05V508.05M259.65 496.05h6M259.65 508.05h6" fill="none" stroke="#a0b4dc" stroke-width="0.8"/>
<path d="M55.6 428.51V442.51M52.6 428.51h6M52.6 442.51h6M66.5 426.57V430.57M63.5 426.57h6M63.5 430.57h6M77.4 426.01V430.01M74.4 426.01h6M74.4 430.01h6M88.29 423.52V427.52M85.29 423.52h6M85.29 427.52h6M99.19 423.2V427.2M96.19 423.2h6M96.19 427.2h6M110.09 415.26V424.26M107.09 415.26h6M107.09 424.26h6M120.99 421.12V425.12M117.99 421.12h6M117.99 425.12h6M131.88 421.12V425.12M128.88 421.12h6M128.88 425.12h6M142.78 421.68V425.68M139.78 421.68h6M139.78 425.68h6M153.68 423.36V427.36M150.68 423.36h6M150.68 427.36h6M164.57 426.73V430.73M161.57 426.73h6M161.57 430.73h6M175.47 428.33V432.33M172.47 428.33h6M172.47 432.33h6M186.37 429.77V433.77M183.37 429.77h6M183.37 433.77h6M197.27 433.45V437.45M194.27 433.45h6M194.27 437.45h6M208.16 438.25V442.25M205.16 438.25h6M205.16 442.25h6M219.06 440.33V444.33M216.06 440.33h6M216.06 444.33h6M229.96 443.06V447.06M226.96 443.06h6M226.96 447.06h6M240.86 445.78V449.78M237.86 445.78h6M237.86 449.78h6M251.75 451.7V455.7M248.75 451.7h6M248.75 455.7h6M262.65 454.59V468.19M259.65 454.59h6M259.65 468.19h6M273.55 491.53V497.53M270.55 491.53h6M270.55 497.53h6" fill="none" stroke="#e0b8e4" stroke-width="0.8"/>
<path d="M55.6 484.28L66.5 482.2L77.4 479.48L88.29 479L99.19 476.76L110.09 478.36L120.99 474.99L131.88 474.99L142.78 474.51L153.68 474.51L164.57 476.44L175.47 474.83L186.37 472.43L197.27 472.11L208.16 468.11L219.06 468.59L229.96 462.99L240.86 458.5L251.75 449.38L262.65 467.79" fill="none" stroke="#555" stroke-width="0.9"/>
<path d="M55.6 490.68L66.5 484.76L77.4 488.44L88.29 489.72L99.19 484.76L110.09 491L120.99 482.84L131.88 490.04L142.78 486.2L153.68 481.4L164.57 484.44L175.47 476.76L186.37 466.35L197.27 457.54L208.16 448.9L219.06 448.42L229.96 459.46L240.86 505.09" fill="none" stroke="#555" stroke-width="0.9"/>
<path d="M55.6 462.99L66.5 461.87L77.4 460.75L88.29 459.62L99.19 454.34L110.09 454.98L120.99 453.7L131.88 454.02L142.78 455.46L153.68 456.9L164.57 459.95L175.47 460.59L186.37 462.59L197.27 463.31L208.16 462.99L219.06 462.83L229.96 462.99L240.86 465.23L251.75 466.51L262.65 465.87L273.55 468.59L284.45 468.75L295.35 466.51L306.24 464.91L317.14 463.79L328.04 458.18L338.94 444.58L349.83 421.2L360.73 390.78L371.63 349.96L382.53 301.29" fill="none" stroke="#555" stroke-width="0.9"/>
<path d="M55.6 500.13L66.5 498.53L77.4 492.45L88.29 493.25L99.19 491.48L110.09 483.16L120.99 494.53L131.88 488.92L142.78 489.56L153.68 492.61L164.57 487.16L175.47 490.84L186.37 490.44L197.27 485.64L208.16 488.28L219.06 491.48L229.96 495.09L240.86 489.88L251.75 495.01L262.65 499.17L273.55 512.94" fill="none" stroke="#555" stroke-width="0.9"/>
<path d="M55.6 482.2L66.5 481.72L77.4 477.24L88.29 474.51L99.19 471.63L110.09 469.71L120.99 473.55L131.88 466.35L142.78 465.55L153.68 466.35L164.57 466.27L175.47 474.75L186.37 470.75L197.27 473.07L208.16 472.59L219.06 473.55L229.96 476.44L240.86 476.44L251.75 485.64L262.65 502.05" fill="none" stroke="#555" stroke-width="0.9"/>
<path d="M55.6 435.51L66.5 428.57L77.4 428.01L88.29 425.52L99.19 425.2L110.09 419.76L120.99 423.12L131.88 423.12L142.78 423.68L153.68 425.36L164.57 428.73L175.47 430.33L186.37 431.77L197.27 435.45L208.16 440.25L219.06 442.33L229.96 445.06L240.86 447.78L251.75 453.7L262.65 461.39L273.55 494.53" fill="none" stroke="#555" stroke-width="0.9"/>
<path d="M55.6 480.43L59.34 487.75L51.86 487.75Z" fill="#41a343" stroke="#1f4f20" stroke-width="0.7"/>
<path d="M66.5 478.35L70.24 485.67L62.75 485.67Z" fill="#41a343" stroke="#1f4f20" stroke-width="0.7"/>
<path d="M77.4 475.63L81.14 482.94L73.65 482.94Z" fill="#41a343" stroke="#1f4f20" stroke-width="0.7"/>
<path d="M88.29 475.15L92.04 482.46L84.55 482.46Z" fill="#41a343" stroke="#1f4f20" stroke-width="0.7"/>
<path d="M99.19 472.9L102.94 480.22L95.44 480.22Z" fill="#41a343" stroke="#1f4f20" stroke-width="0.7"/>
<path d="M110.09 474.5L113.83 481.82L106.34 481.82Z" fill="#41a343" stroke="#1f4f20" stroke-width="0.7"/>
<path d="M120.99 471.14L124.73 478.46L117.24 478.46Z" fill="#41a343" stroke="#1f4f20" stroke-width="0.7"/>
<path d="M131.88 471.14L135.63 478.46L128.14 478.46Z" fill="#41a343" stroke="#1f4f20" stroke-width="0.7"/>
<path d="M142.78 470.66L146.53 477.98L139.03 477.98Z" fill="#41a343" stroke="#1f4f20" stroke-width="0.7"/>
<path d="M153.68 470.66L157.42 477.98L149.93 477.98Z" fill="#41a343" stroke="#1f4f20" stroke-width="0.7"/>
<path d="M164.57 472.58L168.32 479.9L160.83 479.9Z" fill="#41a343" stroke="#1f4f20" stroke-width="0.7"/>
<path d="M175.47 470.98L179.22 478.3L171.73 478.3Z" fill="#41a343" stroke="#1f4f20" stroke-width="0.7"/>
<path d="M186.37 468.58L190.12 475.9L182.62 475.9Z" fill="#41a343" stroke="#1f4f20" stroke-width="0.7"/>
<path d="M197.27 468.26L201.01 475.58L193.52 475.58Z" fill="#41a343" stroke="#1f4f20" stroke-width="0.7"/>
<path d="M208.16 464.26L211.91 471.58L204.42 471.58Z" fill="#41a343" stroke="#1f4f20" stroke-width="0.7"/>
<path d="M219.06 464.74L222.81 472.06L215.32 472.06Z" fill="#41a343" stroke="#1f4f20" stroke-width="0.7"/>
<path d="M229.96 459.14L233.71 466.45L226.22 466.45Z" fill="#41a343" stroke="#1f4f20" stroke-width="0.7"/>
<path d="M240.86 454.65L244.6 461.97L237.11 461.97Z" fill="#41a343" stroke="#1f4f20" stroke-width="0.7"/>
<path d="M251.75 445.53L255.5 452.85L248.01 452.85Z" fill="#41a343" stroke="#1f4f20" stroke-width="0.7"/>
<path d="M262.65 463.94L266.4 471.26L258.91 471.26Z" fill="#41a343" stroke="#1f4f20" stroke-width="0.7"/>
<circle cx="55.6" cy="490.68" r="3.64" fill="#ec3424" stroke="#7a1a10" stroke-width="0.8"/>
<circle cx="66.5" cy="484.76" r="3.64" fill="#ec3424" stroke="#7a1a10" stroke-width="0.8"/>
<circle cx="77.4" cy="488.44" r="3.64" fill="#ec3424" stroke="#7a1a10" stroke-width="0.8"/>
<circle cx="88.29" cy="489.72" r="3.64" fill="#ec3424" stroke="#7a1a10" stroke-width="0.8"/>
<circle cx="99.19" cy="484.76" r="3.64" fill="#ec3424" stroke="#7a1a10" stroke-width="0.8"/>
<circle cx="110.09" cy="491" r="3.64" fill="#ec3424" stroke="#7a1a10" stroke-width="0.8"/>
<circle cx="120.99" cy="482.84" r="3.64" fill="#ec3424" stroke="#7a1a10" stroke-width="0.8"/>
<circle cx="131.88" cy="490.04" r="3.64" fill="#ec3424" stroke="#7a1a10" stroke-width="0.8"/>
<circle cx="142.78" cy="486.2" r="3.64" fill="#ec3424" stroke="#7a1a10" stroke-width="0.8"/>
<circle cx="153.68" cy="481.4" r="3.64" fill="#ec3424" stroke="#7a1a10" stroke-width="0.8"/>
<circle cx="164.57" cy="484.44" r="3.64" fill="#ec3424" stroke="#7a1a10" stroke-width="0.8"/>
<circle cx="175.47" cy="476.76" r="3.64" fill="#ec3424" stroke="#7a1a10" stroke-width="0.8"/>
<circle cx="186.37" cy="466.35" r="3.64" fill="#ec3424" stroke="#7a1a10" stroke-width="0.8"/>
<circle cx="197.27" cy="457.54" r="3.64" fill="#ec3424" stroke="#7a1a10" stroke-width="0.8"/>
<circle cx="208.16" cy="448.9" r="3.64" fill="#ec3424" stroke="#7a1a10" stroke-width="0.8"/>
<circle cx="219.06" cy="448.42" r="3.64" fill="#ec3424" stroke="#7a1a10" stroke-width="0.8"/>
<circle cx="229.96" cy="459.46" r="3.64" fill="#ec3424" stroke="#7a1a10" stroke-width="0.8"/>
<circle cx="240.86" cy="505.09" r="3.64" fill="#ec3424" stroke="#7a1a10" stroke-width="0.8"/>
<rect x="52.28" y="459.67" width="6.63" height="6.63" fill="#0c0c0c" stroke="#222" stroke-width="0.6"/>
<rect x="63.18" y="458.55" width="6.63" height="6.63" fill="#0c0c0c" stroke="#222" stroke-width="0.6"/>
<rect x="74.08" y="457.43" width="6.63" height="6.63" fill="#0c0c0c" stroke="#222" stroke-width="0.6"/>
<rect x="84.98" y="456.31" width="6.63" height="6.63" fill="#0c0c0c" stroke="#222" stroke-width="0.6"/>
<rect x="95.87" y="451.02" width="6.63" height="6.63" fill="#0c0c0c" stroke="#222" stroke-width="0.6"/>
<rect x="106.77" y="451.67" width="6.63" height="6.63" fill="#0c0c0c" stroke="#222" stroke-width="0.6"/>
<rect x="117.67" y="450.38" width="6.63" height="6.63" fill="#0c0c0c" stroke="#222" stroke-width="0.6"/>
<rect x="128.57" y="450.7" width="6.63" height="6.63" fill="#0c0c0c" stroke="#222" stroke-width="0.6"/>
<rect x="139.46" y="452.15" width="6.63" height="6.63" fill="#0c0c0c" stroke="#222" stroke-width="0.6"/>
<rect x="150.36" y="453.59" width="6.63" height="6.63" fill="#0c0c0c" stroke="#222" stroke-width="0.6"/>
<rect x="161.26" y="456.63" width="6.63" height="6.63" fill="#0c0c0c" stroke="#222" stroke-width="0.6"/>
<rect x="172.16" y="457.27" width="6.63" height="6.63" fill="#0c0c0c" stroke="#222" stroke-width="0.6"/>
<rect x="183.05" y="459.27" width="6.63" height="6.63" fill="#0c0c0c" stroke="#222" stroke-width="0.6"/>
<rect x="193.95" y="459.99" width="6.63" height="6.63" fill="#0c0c0c" stroke="#222" stroke-width="0.6"/>
<rect x="204.85" y="459.67" width="6.63" height="6.63" fill="#0c0c0c" stroke="#222" stroke-width="0.6"/>
<rect x="215.75" y="459.51" width="6.63" height="6.63" fill="#0c0c0c" stroke="#222" stroke-width="0.6"/>
<rect x="226.64" y="459.67" width="6.63" height="6.63" fill="#0c0c0c" stroke="#222" stroke-width="0.6"/>
<rect x="237.54" y="461.91" width="6.63" height="6.63" fill="#0c0c0c" stroke="#222" stroke-width="0.6"/>
<rect x="248.44" y="463.19" width="6.63" height="6.63" fill="#0c0c0c" stroke="#222" stroke-width="0.6"/>
<rect x="259.34" y="462.55" width="6.63" height="6.63" fill="#0c0c0c" stroke="#222" stroke-width="0.6"/>
<rect x="270.23" y="465.27" width="6.63" height="6.63" fill="#0c0c0c" stroke="#222" stroke-width="0.6"/>
<rect x="281.13" y="465.43" width="6.63" height="6.63" fill="#0c0c0c" stroke="#222" stroke-width="0.6"/>
<rect x="292.03" y="463.19" width="6.63" height="6.63" fill="#0c0c0c" stroke="#222" stroke-width="0.6"/>
<rect x="302.93" y="461.59" width="6.63" height="6.63" fill="#0c0c0c" stroke="#222" stroke-width="0.6"/>
<rect x="313.82" y="460.47" width="6.63" height="6.63" fill="#0c0c0c" stroke="#222" stroke-width="0.6"/>
<rect x="324.72" y="454.87" width="6.63" height="6.63" fill="#0c0c0c" stroke="#222" stroke-width="0.6"/>
<rect x="335.62" y="441.26" width="6.63" height="6.63" fill="#0c0c0c" stroke="#222" stroke-width="0.6"/>
<rect x="346.52" y="417.88" width="6.63" height="6.63" fill="#0c0c0c" stroke="#222" stroke-width="0.6"/>
<rect x="357.41" y="387.46" width="6.63" height="6.63" fill="#0c0c0c" stroke="#222" stroke-width="0.6"/>
<rect x="368.31" y="346.64" width="6.63" height="6.63" fill="#0c0c0c" stroke="#222" stroke-width="0.6"/>
<rect x="379.21" y="297.97" width="6.63" height="6.63" fill="#0c0c0c" stroke="#222" stroke-width="0.6"/>
<path d="M55.6 496.17L59.88 500.13L55.6 504.09L51.32 500.13Z" fill="#ffe818" stroke="#4a4200" stroke-width="0.8"/>
<path d="M66.5 494.57L70.78 498.53L66.5 502.49L62.22 498.53Z" fill="#ffe818" stroke="#4a4200" stroke-width="0.8"/>
<path d="M77.4 488.49L81.68 492.45L77.4 496.4L73.12 492.45Z" fill="#ffe818" stroke="#4a4200" stroke-width="0.8"/>
<path d="M88.29 489.29L92.57 493.25L88.29 497.2L84.01 493.25Z" fill="#ffe818" stroke="#4a4200" stroke-width="0.8"/>
<path d="M99.19 487.53L103.47 491.48L99.19 495.44L94.91 491.48Z" fill="#ffe818" stroke="#4a4200" stroke-width="0.8"/>
<path d="M110.09 479.2L114.37 483.16L110.09 487.12L105.81 483.16Z" fill="#ffe818" stroke="#4a4200" stroke-width="0.8"/>
<path d="M120.99 490.57L125.27 494.53L120.99 498.49L116.71 494.53Z" fill="#ffe818" stroke="#4a4200" stroke-width="0.8"/>
<path d="M131.88 484.96L136.16 488.92L131.88 492.88L127.6 488.92Z" fill="#ffe818" stroke="#4a4200" stroke-width="0.8"/>
<path d="M142.78 485.6L147.06 489.56L142.78 493.52L138.5 489.56Z" fill="#ffe818" stroke="#4a4200" stroke-width="0.8"/>
<path d="M153.68 488.65L157.96 492.61L153.68 496.56L149.4 492.61Z" fill="#ffe818" stroke="#4a4200" stroke-width="0.8"/>
<path d="M164.57 483.2L168.85 487.16L164.57 491.12L160.29 487.16Z" fill="#ffe818" stroke="#4a4200" stroke-width="0.8"/>
<path d="M175.47 486.89L179.75 490.84L175.47 494.8L171.19 490.84Z" fill="#ffe818" stroke="#4a4200" stroke-width="0.8"/>
<path d="M186.37 486.49L190.65 490.44L186.37 494.4L182.09 490.44Z" fill="#ffe818" stroke="#4a4200" stroke-width="0.8"/>
<path d="M197.27 481.68L201.55 485.64L197.27 489.6L192.99 485.64Z" fill="#ffe818" stroke="#4a4200" stroke-width="0.8"/>
<path d="M208.16 484.32L212.44 488.28L208.16 492.24L203.88 488.28Z" fill="#ffe818" stroke="#4a4200" stroke-width="0.8"/>
<path d="M219.06 487.53L223.34 491.48L219.06 495.44L214.78 491.48Z" fill="#ffe818" stroke="#4a4200" stroke-width="0.8"/>
<path d="M229.96 491.13L234.24 495.09L229.96 499.05L225.68 495.09Z" fill="#ffe818" stroke="#4a4200" stroke-width="0.8"/>
<path d="M240.86 485.92L245.14 489.88L240.86 493.84L236.58 489.88Z" fill="#ffe818" stroke="#4a4200" stroke-width="0.8"/>
<path d="M251.75 491.05L256.03 495.01L251.75 498.97L247.47 495.01Z" fill="#ffe818" stroke="#4a4200" stroke-width="0.8"/>
<path d="M262.65 495.21L266.93 499.17L262.65 503.13L258.37 499.17Z" fill="#ffe818" stroke="#4a4200" stroke-width="0.8"/>
<path d="M273.55 508.98L277.83 512.94L273.55 516.9L269.27 512.94Z" fill="#ffe818" stroke="#4a4200" stroke-width="0.8"/>
<path d="M55.6 486.55L59.24 479.23L51.96 479.23Z" fill="#2c4f9e" stroke="#142a5a" stroke-width="0.7"/>
<path d="M66.5 486.07L70.14 478.75L62.86 478.75Z" fill="#2c4f9e" stroke="#142a5a" stroke-width="0.7"/>
<path d="M77.4 481.59L81.03 474.27L73.76 474.27Z" fill="#2c4f9e" stroke="#142a5a" stroke-width="0.7"/>
<path d="M88.29 478.87L91.93 471.55L84.65 471.55Z" fill="#2c4f9e" stroke="#142a5a" stroke-width="0.7"/>
<path d="M99.19 475.98L102.83 468.67L95.55 468.67Z" fill="#2c4f9e" stroke="#142a5a" stroke-width="0.7"/>
<path d="M110.09 474.06L113.73 466.74L106.45 466.74Z" fill="#2c4f9e" stroke="#142a5a" stroke-width="0.7"/>
<path d="M120.99 477.91L124.62 470.59L117.35 470.59Z" fill="#2c4f9e" stroke="#142a5a" stroke-width="0.7"/>
<path d="M131.88 470.7L135.52 463.38L128.24 463.38Z" fill="#2c4f9e" stroke="#142a5a" stroke-width="0.7"/>
<path d="M142.78 469.9L146.42 462.58L139.14 462.58Z" fill="#2c4f9e" stroke="#142a5a" stroke-width="0.7"/>
<path d="M153.68 470.7L157.32 463.38L150.04 463.38Z" fill="#2c4f9e" stroke="#142a5a" stroke-width="0.7"/>
<path d="M164.57 470.62L168.21 463.3L160.94 463.3Z" fill="#2c4f9e" stroke="#142a5a" stroke-width="0.7"/>
<path d="M175.47 479.11L179.11 471.79L171.83 471.79Z" fill="#2c4f9e" stroke="#142a5a" stroke-width="0.7"/>
<path d="M186.37 475.1L190.01 467.79L182.73 467.79Z" fill="#2c4f9e" stroke="#142a5a" stroke-width="0.7"/>
<path d="M197.27 477.43L200.91 470.11L193.63 470.11Z" fill="#2c4f9e" stroke="#142a5a" stroke-width="0.7"/>
<path d="M208.16 476.95L211.8 469.63L204.53 469.63Z" fill="#2c4f9e" stroke="#142a5a" stroke-width="0.7"/>
<path d="M219.06 477.91L222.7 470.59L215.42 470.59Z" fill="#2c4f9e" stroke="#142a5a" stroke-width="0.7"/>
<path d="M229.96 480.79L233.6 473.47L226.32 473.47Z" fill="#2c4f9e" stroke="#142a5a" stroke-width="0.7"/>
<path d="M240.86 480.79L244.5 473.47L237.22 473.47Z" fill="#2c4f9e" stroke="#142a5a" stroke-width="0.7"/>
<path d="M251.75 489.99L255.39 482.67L248.12 482.67Z" fill="#2c4f9e" stroke="#142a5a" stroke-width="0.7"/>
<path d="M262.65 506.4L266.29 499.08L259.01 499.08Z" fill="#2c4f9e" stroke="#142a5a" stroke-width="0.7"/>
<path d="M55.6 432.73L60.63 435.51L55.6 438.3L50.57 435.51Z" fill="#c267c8" stroke="#6a2a70" stroke-width="0.7"/>
<path d="M66.5 425.78L71.53 428.57L66.5 431.35L61.47 428.57Z" fill="#c267c8" stroke="#6a2a70" stroke-width="0.7"/>
<path d="M77.4 425.22L82.42 428.01L77.4 430.79L72.37 428.01Z" fill="#c267c8" stroke="#6a2a70" stroke-width="0.7"/>
<path d="M88.29 422.74L93.32 425.52L88.29 428.31L83.26 425.52Z" fill="#c267c8" stroke="#6a2a70" stroke-width="0.7"/>
<path d="M99.19 422.42L104.22 425.2L99.19 427.99L94.16 425.2Z" fill="#c267c8" stroke="#6a2a70" stroke-width="0.7"/>
<path d="M110.09 416.98L115.12 419.76L110.09 422.54L105.06 419.76Z" fill="#c267c8" stroke="#6a2a70" stroke-width="0.7"/>
<path d="M120.99 420.34L126.01 423.12L120.99 425.9L115.96 423.12Z" fill="#c267c8" stroke="#6a2a70" stroke-width="0.7"/>
<path d="M131.88 420.34L136.91 423.12L131.88 425.9L126.85 423.12Z" fill="#c267c8" stroke="#6a2a70" stroke-width="0.7"/>
<path d="M142.78 420.9L147.81 423.68L142.78 426.46L137.75 423.68Z" fill="#c267c8" stroke="#6a2a70" stroke-width="0.7"/>
<path d="M153.68 422.58L158.71 425.36L153.68 428.15L148.65 425.36Z" fill="#c267c8" stroke="#6a2a70" stroke-width="0.7"/>
<path d="M164.57 425.94L169.6 428.73L164.57 431.51L159.55 428.73Z" fill="#c267c8" stroke="#6a2a70" stroke-width="0.7"/>
<path d="M175.47 427.54L180.5 430.33L175.47 433.11L170.44 430.33Z" fill="#c267c8" stroke="#6a2a70" stroke-width="0.7"/>
<path d="M186.37 428.99L191.4 431.77L186.37 434.55L181.34 431.77Z" fill="#c267c8" stroke="#6a2a70" stroke-width="0.7"/>
<path d="M197.27 432.67L202.3 435.45L197.27 438.23L192.24 435.45Z" fill="#c267c8" stroke="#6a2a70" stroke-width="0.7"/>
<path d="M208.16 437.47L213.19 440.25L208.16 443.03L203.14 440.25Z" fill="#c267c8" stroke="#6a2a70" stroke-width="0.7"/>
<path d="M219.06 439.55L224.09 442.33L219.06 445.12L214.03 442.33Z" fill="#c267c8" stroke="#6a2a70" stroke-width="0.7"/>
<path d="M229.96 442.27L234.99 445.06L229.96 447.84L224.93 445.06Z" fill="#c267c8" stroke="#6a2a70" stroke-width="0.7"/>
<path d="M240.86 445L245.89 447.78L240.86 450.56L235.83 447.78Z" fill="#c267c8" stroke="#6a2a70" stroke-width="0.7"/>
<path d="M251.75 450.92L256.78 453.7L251.75 456.48L246.73 453.7Z" fill="#c267c8" stroke="#6a2a70" stroke-width="0.7"/>
<path d="M262.65 458.6L267.68 461.39L262.65 464.17L257.62 461.39Z" fill="#c267c8" stroke="#6a2a70" stroke-width="0.7"/>
<path d="M273.55 491.74L278.58 494.53L273.55 497.31L268.52 494.53Z" fill="#c267c8" stroke="#6a2a70" stroke-width="0.7"/></g>
<clipPath id="cD"><rect x="441.4" y="290.2" width="343.85" height="233.09999999999997"/></clipPath><g clip-path="url(#cD)"><path d="M451.5 360.01V380.01M448.5 360.01h6M448.5 380.01h6M464 366.87V385.27M461 366.87h6M461 385.27h6M476.5 354.82V366.82M473.5 354.82h6M473.5 366.82h6M489 361.96V375.56M486 361.96h6M486 375.56h6M501.5 370.19V383.19M498.5 370.19h6M498.5 383.19h6M514 370.08V382.48M511 370.08h6M511 382.48h6M526.5 375.89V386.69M523.5 375.89h6M523.5 386.69h6M539 382.84V391.44M536 382.84h6M536 391.44h6M551.5 397.02V404.42M548.5 397.02h6M548.5 404.42h6M564 402.54V409.34M561 402.54h6M561 409.34h6M576.5 381.18V395.18M573.5 381.18h6M573.5 395.18h6M589 375.3V387.7M586 375.3h6M586 387.7h6M601.5 354.16V374.16M598.5 354.16h6M598.5 374.16h6M614 372.26V389.06M611 372.26h6M611 389.06h6M626.5 380.51V392.51M623.5 380.51h6M623.5 392.51h6M639 392.79V402.79M636 392.79h6M636 402.79h6M651.5 377.38V389.38M648.5 377.38h6M648.5 389.38h6M664 396.55V406.55M661 396.55h6M661 406.55h6M676.5 406.58V416.58M673.5 406.58h6M673.5 416.58h6M689 418.49V428.49M686 418.49h6M686 428.49h6M701.5 420.16V430.16M698.5 420.16h6M698.5 430.16h6M714 437.87V445.87M711 437.87h6M711 445.87h6M726.5 449.78V457.78M723.5 449.78h6M723.5 457.78h6M739 453.12V461.12M736 453.12h6M736 461.12h6M751.5 453.75V461.75M748.5 453.75h6M748.5 461.75h6M764 450.82V458.82M761 450.82h6M761 458.82h6M776.5 444.97V452.97M773.5 444.97h6M773.5 452.97h6" fill="none" stroke="#555" stroke-width="0.8"/>
<path d="M451.5 436.5V448.5M448.5 436.5h6M448.5 448.5h6M464 456.25V464.25M461 456.25h6M461 464.25h6M476.5 455.63V463.63M473.5 455.63h6M473.5 463.63h6M489 459.18V467.18M486 459.18h6M486 467.18h6M501.5 462.31V470.31M498.5 462.31h6M498.5 470.31h6M514 454.79V462.79M511 454.79h6M511 462.79h6M526.5 458.13V466.13M523.5 458.13h6M523.5 466.13h6M539 439.96V457.16M536 439.96h6M536 457.16h6M551.5 433.27V441.27M548.5 433.27h6M548.5 441.27h6M564 387.21V409.21M561 387.21h6M561 409.21h6M576.5 348.12V378.12M573.5 348.12h6M573.5 378.12h6M589 356.69V377.89M586 356.69h6M586 377.89h6M601.5 376.49V395.69M598.5 376.49h6M598.5 395.69h6M614 408.25V418.25M611 408.25h6M611 418.25h6M626.5 396.39V408.39M623.5 396.39h6M623.5 408.39h6M639 380.3V392.3M636 380.3h6M636 392.3h6M651.5 385.53V397.53M648.5 385.53h6M648.5 397.53h6M664 385.53V397.53M661 385.53h6M661 397.53h6M676.5 402.03V414.03M673.5 402.03h6M673.5 414.03h6M689 401.4V413.4M686 401.4h6M686 413.4h6M701.5 414.56V426.56M698.5 414.56h6M698.5 426.56h6M714 413.31V425.31M711 413.31h6M711 425.31h6M726.5 417.28V429.28M723.5 417.28h6M723.5 429.28h6M739 418.32V430.32M736 418.32h6M736 430.32h6M751.5 420.2V432.2M748.5 420.2h6M748.5 432.2h6M764 441.93V453.93M761 441.93h6M761 453.93h6M776.5 437.12V449.12M773.5 437.12h6M773.5 449.12h6" fill="none" stroke="#f39a7c" stroke-width="0.8"/>
<path d="M451.5 431.57V447.57M448.5 431.57h6M448.5 447.57h6M464 436.25V484.25M461 436.25h6M461 484.25h6M476.5 430.2V478.2M473.5 430.2h6M473.5 478.2h6M489 422.78V456.78M486 422.78h6M486 456.78h6M501.5 423.56V473.56M498.5 423.56h6M498.5 473.56h6M639 404.82V504.82M636 404.82h6M636 504.82h6M651.5 390V406M648.5 390h6M648.5 406h6M664 394.18V410.18M661 394.18h6M661 410.18h6M676.5 384.99V400.99M673.5 384.99h6M673.5 400.99h6M689 402.95V418.95M686 402.95h6M686 418.95h6M701.5 390V406M698.5 390h6M698.5 406h6M714 396.69V412.69M711 396.69h6M711 412.69h6M726.5 389.37V405.37M723.5 389.37h6M723.5 405.37h6M739 410.89V426.89M736 410.89h6M736 426.89h6M751.5 418.2V434.2M748.5 418.2h6M748.5 434.2h6M764 413.19V429.19M761 413.19h6M761 429.19h6M776.5 435.54V451.54M773.5 435.54h6M773.5 451.54h6" fill="none" stroke="#bfe0b5" stroke-width="0.8"/>
<path d="M451.5 423.63V439.63M448.5 423.63h6M448.5 439.63h6M464 457.48V473.48M461 457.48h6M461 473.48h6M701.5 404.33V416.33M698.5 404.33h6M698.5 416.33h6M714 389.49V401.49M711 389.49h6M711 401.49h6M726.5 403.07V415.07M723.5 403.07h6M723.5 415.07h6M739 415.61V427.61M736 415.61h6M736 427.61h6M751.5 392.63V404.63M748.5 392.63h6M748.5 404.63h6M764 424.59V436.59M761 424.59h6M761 436.59h6M776.5 430.23V442.23M773.5 430.23h6M773.5 442.23h6" fill="none" stroke="#dccbe2" stroke-width="0.8"/>
<path d="M451.5 438.15V468.15M448.5 438.15h6M448.5 468.15h6M464 430.39V468.39M461 430.39h6M461 468.39h6M514 433.31V499.31M511 433.31h6M511 499.31h6M564 448.71V502.71M561 448.71h6M561 502.71h6M676.5 359.38V379.38M673.5 359.38h6M673.5 379.38h6M689 382.99V402.99M686 382.99h6M686 402.99h6M701.5 375.47V395.47M698.5 375.47h6M698.5 395.47h6M714 377.35V397.35M711 377.35h6M711 397.35h6M726.5 399.49V419.49M723.5 399.49h6M723.5 419.49h6M739 392.39V412.39M736 392.39h6M736 412.39h6M751.5 401.79V421.79M748.5 401.79h6M748.5 421.79h6M764 402.83V422.83M761 402.83h6M761 422.83h6M776.5 405.97V425.97M773.5 405.97h6M773.5 425.97h6" fill="none" stroke="#f3efa8" stroke-width="0.8"/>
<path d="M451.5 351.5V411.5M448.5 351.5h6M448.5 411.5h6M514 462.33V480.33M511 462.33h6M511 480.33h6M526.5 472.09V483.09M523.5 472.09h6M523.5 483.09h6M539 476.98V486.98M536 476.98h6M536 486.98h6M551.5 469.25V479.25M548.5 469.25h6M548.5 479.25h6M676.5 316.02V368.02M673.5 316.02h6M673.5 368.02h6M689 284.8V332.8M686 284.8h6M686 332.8h6M701.5 346.58V382.58M698.5 346.58h6M698.5 382.58h6M714 295.75V347.75M711 295.75h6M711 347.75h6M726.5 290.73V351.94M723.5 290.73h6M723.5 351.94h6M739 352.82V368.82M736 352.82h6M736 368.82h6M751.5 378.93V394.93M748.5 378.93h6M748.5 394.93h6M764 357.41V373.41M761 357.41h6M761 373.41h6M776.5 368.69V384.69M773.5 368.69h6M773.5 384.69h6" fill="none" stroke="#8eacdb" stroke-width="0.8"/>
<path d="M451.5 370.01L464 376.07L476.5 360.82L489 368.76L501.5 376.69L514 376.28L526.5 381.29L539 387.14L551.5 400.72L564 405.94L576.5 388.18L589 381.5L601.5 364.16L614 380.66L626.5 386.51L639 397.79L651.5 383.38L664 401.55L676.5 411.58L689 423.49L701.5 425.16L714 441.87L726.5 453.78L739 457.12L751.5 457.75L764 454.82L776.5 448.97" fill="none" stroke="#555" stroke-width="0.9"/>
<path d="M451.5 442.5L464 460.25L476.5 459.63L489 463.18L501.5 466.31L514 458.79L526.5 462.13L539 448.56L551.5 437.27L564 398.21L576.5 363.12L589 367.29L601.5 386.09L614 413.25L626.5 402.39L639 386.3L651.5 391.53L664 391.53L676.5 408.03L689 407.4L701.5 420.56L714 419.31L726.5 423.28L739 424.32L751.5 426.2L764 447.93L776.5 443.12" fill="none" stroke="#555" stroke-width="0.9"/>
<path d="M451.5 439.57L464 460.25L476.5 454.2L489 439.78L501.5 448.56M639 454.82L651.5 398L664 402.18L676.5 392.99L689 410.95L701.5 398L714 404.69L726.5 397.37L739 418.89L751.5 426.2L764 421.19L776.5 443.54" fill="none" stroke="#555" stroke-width="0.9"/>
<path d="M451.5 431.63L464 465.48M701.5 410.33L714 395.49L726.5 409.07L739 421.61L751.5 398.63L764 430.59L776.5 436.23" fill="none" stroke="#555" stroke-width="0.9"/>
<path d="M451.5 453.15L464 449.39M514 466.31M564 475.71M676.5 369.38L689 392.99L701.5 385.47L714 387.35L726.5 409.49L739 402.39L751.5 411.79L764 412.83L776.5 415.97" fill="none" stroke="#555" stroke-width="0.9"/>
<path d="M451.5 381.5M514 471.33L526.5 477.59L539 481.98L551.5 474.25M676.5 342.02L689 308.8L701.5 364.58L714 321.75L726.5 321.33L739 360.82L751.5 386.93L764 365.41L776.5 376.69" fill="none" stroke="#555" stroke-width="0.9"/>
<rect x="448.4" y="366.91" width="6.2" height="6.2" fill="#0c0c0c" stroke="#222" stroke-width="0.6"/>
<rect x="460.9" y="372.97" width="6.2" height="6.2" fill="#0c0c0c" stroke="#222" stroke-width="0.6"/>
<rect x="473.4" y="357.72" width="6.2" height="6.2" fill="#0c0c0c" stroke="#222" stroke-width="0.6"/>
<rect x="485.9" y="365.66" width="6.2" height="6.2" fill="#0c0c0c" stroke="#222" stroke-width="0.6"/>
<rect x="498.4" y="373.59" width="6.2" height="6.2" fill="#0c0c0c" stroke="#222" stroke-width="0.6"/>
<rect x="510.9" y="373.18" width="6.2" height="6.2" fill="#0c0c0c" stroke="#222" stroke-width="0.6"/>
<rect x="523.4" y="378.19" width="6.2" height="6.2" fill="#0c0c0c" stroke="#222" stroke-width="0.6"/>
<rect x="535.9" y="384.04" width="6.2" height="6.2" fill="#0c0c0c" stroke="#222" stroke-width="0.6"/>
<rect x="548.4" y="397.62" width="6.2" height="6.2" fill="#0c0c0c" stroke="#222" stroke-width="0.6"/>
<rect x="560.9" y="402.84" width="6.2" height="6.2" fill="#0c0c0c" stroke="#222" stroke-width="0.6"/>
<rect x="573.4" y="385.08" width="6.2" height="6.2" fill="#0c0c0c" stroke="#222" stroke-width="0.6"/>
<rect x="585.9" y="378.4" width="6.2" height="6.2" fill="#0c0c0c" stroke="#222" stroke-width="0.6"/>
<rect x="598.4" y="361.06" width="6.2" height="6.2" fill="#0c0c0c" stroke="#222" stroke-width="0.6"/>
<rect x="610.9" y="377.56" width="6.2" height="6.2" fill="#0c0c0c" stroke="#222" stroke-width="0.6"/>
<rect x="623.4" y="383.41" width="6.2" height="6.2" fill="#0c0c0c" stroke="#222" stroke-width="0.6"/>
<rect x="635.9" y="394.69" width="6.2" height="6.2" fill="#0c0c0c" stroke="#222" stroke-width="0.6"/>
<rect x="648.4" y="380.28" width="6.2" height="6.2" fill="#0c0c0c" stroke="#222" stroke-width="0.6"/>
<rect x="660.9" y="398.45" width="6.2" height="6.2" fill="#0c0c0c" stroke="#222" stroke-width="0.6"/>
<rect x="673.4" y="408.48" width="6.2" height="6.2" fill="#0c0c0c" stroke="#222" stroke-width="0.6"/>
<rect x="685.9" y="420.39" width="6.2" height="6.2" fill="#0c0c0c" stroke="#222" stroke-width="0.6"/>
<rect x="698.4" y="422.06" width="6.2" height="6.2" fill="#0c0c0c" stroke="#222" stroke-width="0.6"/>
<rect x="710.9" y="438.77" width="6.2" height="6.2" fill="#0c0c0c" stroke="#222" stroke-width="0.6"/>
<rect x="723.4" y="450.68" width="6.2" height="6.2" fill="#0c0c0c" stroke="#222" stroke-width="0.6"/>
<rect x="735.9" y="454.02" width="6.2" height="6.2" fill="#0c0c0c" stroke="#222" stroke-width="0.6"/>
<rect x="748.4" y="454.65" width="6.2" height="6.2" fill="#0c0c0c" stroke="#222" stroke-width="0.6"/>
<rect x="760.9" y="451.72" width="6.2" height="6.2" fill="#0c0c0c" stroke="#222" stroke-width="0.6"/>
<rect x="773.4" y="445.87" width="6.2" height="6.2" fill="#0c0c0c" stroke="#222" stroke-width="0.6"/>
<circle cx="451.5" cy="442.5" r="3.4" fill="#ea5627" stroke="#8a2a10" stroke-width="0.8"/>
<circle cx="464" cy="460.25" r="3.4" fill="#ea5627" stroke="#8a2a10" stroke-width="0.8"/>
<circle cx="476.5" cy="459.63" r="3.4" fill="#ea5627" stroke="#8a2a10" stroke-width="0.8"/>
<circle cx="489" cy="463.18" r="3.4" fill="#ea5627" stroke="#8a2a10" stroke-width="0.8"/>
<circle cx="501.5" cy="466.31" r="3.4" fill="#ea5627" stroke="#8a2a10" stroke-width="0.8"/>
<circle cx="514" cy="458.79" r="3.4" fill="#ea5627" stroke="#8a2a10" stroke-width="0.8"/>
<circle cx="526.5" cy="462.13" r="3.4" fill="#ea5627" stroke="#8a2a10" stroke-width="0.8"/>
<circle cx="539" cy="448.56" r="3.4" fill="#ea5627" stroke="#8a2a10" stroke-width="0.8"/>
<circle cx="551.5" cy="437.27" r="3.4" fill="#ea5627" stroke="#8a2a10" stroke-width="0.8"/>
<circle cx="564" cy="398.21" r="3.4" fill="#ea5627" stroke="#8a2a10" stroke-width="0.8"/>
<circle cx="576.5" cy="363.12" r="3.4" fill="#ea5627" stroke="#8a2a10" stroke-width="0.8"/>
<circle cx="589" cy="367.29" r="3.4" fill="#ea5627" stroke="#8a2a10" stroke-width="0.8"/>
<circle cx="601.5" cy="386.09" r="3.4" fill="#ea5627" stroke="#8a2a10" stroke-width="0.8"/>
<circle cx="614" cy="413.25" r="3.4" fill="#ea5627" stroke="#8a2a10" stroke-width="0.8"/>
<circle cx="626.5" cy="402.39" r="3.4" fill="#ea5627" stroke="#8a2a10" stroke-width="0.8"/>
<circle cx="639" cy="386.3" r="3.4" fill="#ea5627" stroke="#8a2a10" stroke-width="0.8"/>
<circle cx="651.5" cy="391.53" r="3.4" fill="#ea5627" stroke="#8a2a10" stroke-width="0.8"/>
<circle cx="664" cy="391.53" r="3.4" fill="#ea5627" stroke="#8a2a10" stroke-width="0.8"/>
<circle cx="676.5" cy="408.03" r="3.4" fill="#ea5627" stroke="#8a2a10" stroke-width="0.8"/>
<circle cx="689" cy="407.4" r="3.4" fill="#ea5627" stroke="#8a2a10" stroke-width="0.8"/>
<circle cx="701.5" cy="420.56" r="3.4" fill="#ea5627" stroke="#8a2a10" stroke-width="0.8"/>
<circle cx="714" cy="419.31" r="3.4" fill="#ea5627" stroke="#8a2a10" stroke-width="0.8"/>
<circle cx="726.5" cy="423.28" r="3.4" fill="#ea5627" stroke="#8a2a10" stroke-width="0.8"/>
<circle cx="739" cy="424.32" r="3.4" fill="#ea5627" stroke="#8a2a10" stroke-width="0.8"/>
<circle cx="751.5" cy="426.2" r="3.4" fill="#ea5627" stroke="#8a2a10" stroke-width="0.8"/>
<circle cx="764" cy="447.93" r="3.4" fill="#ea5627" stroke="#8a2a10" stroke-width="0.8"/>
<circle cx="776.5" cy="443.12" r="3.4" fill="#ea5627" stroke="#8a2a10" stroke-width="0.8"/>
<path d="M451.5 435.97L455 442.81L448 442.81Z" fill="#95c987" stroke="#3d5a36" stroke-width="0.7"/>
<path d="M464 456.65L467.5 463.49L460.5 463.49Z" fill="#95c987" stroke="#3d5a36" stroke-width="0.7"/>
<path d="M476.5 450.6L480 457.44L473 457.44Z" fill="#95c987" stroke="#3d5a36" stroke-width="0.7"/>
<path d="M489 436.18L492.5 443.02L485.5 443.02Z" fill="#95c987" stroke="#3d5a36" stroke-width="0.7"/>
<path d="M501.5 444.96L505 451.8L498 451.8Z" fill="#95c987" stroke="#3d5a36" stroke-width="0.7"/>
<path d="M639 451.22L642.5 458.06L635.5 458.06Z" fill="#95c987" stroke="#3d5a36" stroke-width="0.7"/>
<path d="M651.5 394.4L655 401.24L648 401.24Z" fill="#95c987" stroke="#3d5a36" stroke-width="0.7"/>
<path d="M664 398.58L667.5 405.42L660.5 405.42Z" fill="#95c987" stroke="#3d5a36" stroke-width="0.7"/>
<path d="M676.5 389.39L680 396.23L673 396.23Z" fill="#95c987" stroke="#3d5a36" stroke-width="0.7"/>
<path d="M689 407.35L692.5 414.19L685.5 414.19Z" fill="#95c987" stroke="#3d5a36" stroke-width="0.7"/>
<path d="M701.5 394.4L705 401.24L698 401.24Z" fill="#95c987" stroke="#3d5a36" stroke-width="0.7"/>
<path d="M714 401.09L717.5 407.93L710.5 407.93Z" fill="#95c987" stroke="#3d5a36" stroke-width="0.7"/>
<path d="M726.5 393.77L730 400.61L723 400.61Z" fill="#95c987" stroke="#3d5a36" stroke-width="0.7"/>
<path d="M739 415.29L742.5 422.13L735.5 422.13Z" fill="#95c987" stroke="#3d5a36" stroke-width="0.7"/>
<path d="M751.5 422.6L755 429.44L748 429.44Z" fill="#95c987" stroke="#3d5a36" stroke-width="0.7"/>
<path d="M764 417.59L767.5 424.43L760.5 424.43Z" fill="#95c987" stroke="#3d5a36" stroke-width="0.7"/>
<path d="M776.5 439.94L780 446.78L773 446.78Z" fill="#95c987" stroke="#3d5a36" stroke-width="0.7"/>
<path d="M451.5 429.03L456.2 431.63L451.5 434.23L446.8 431.63Z" fill="#a97cb8" stroke="#5a4060" stroke-width="0.7"/>
<path d="M464 462.88L468.7 465.48L464 468.08L459.3 465.48Z" fill="#a97cb8" stroke="#5a4060" stroke-width="0.7"/>
<path d="M701.5 407.73L706.2 410.33L701.5 412.93L696.8 410.33Z" fill="#a97cb8" stroke="#5a4060" stroke-width="0.7"/>
<path d="M714 392.89L718.7 395.49L714 398.09L709.3 395.49Z" fill="#a97cb8" stroke="#5a4060" stroke-width="0.7"/>
<path d="M726.5 406.47L731.2 409.07L726.5 411.67L721.8 409.07Z" fill="#a97cb8" stroke="#5a4060" stroke-width="0.7"/>
<path d="M739 419.01L743.7 421.61L739 424.21L734.3 421.61Z" fill="#a97cb8" stroke="#5a4060" stroke-width="0.7"/>
<path d="M751.5 396.03L756.2 398.63L751.5 401.23L746.8 398.63Z" fill="#a97cb8" stroke="#5a4060" stroke-width="0.7"/>
<path d="M764 427.99L768.7 430.59L764 433.19L759.3 430.59Z" fill="#a97cb8" stroke="#5a4060" stroke-width="0.7"/>
<path d="M776.5 433.63L781.2 436.23L776.5 438.83L771.8 436.23Z" fill="#a97cb8" stroke="#5a4060" stroke-width="0.7"/>
<path d="M451.5 449.45L455.5 453.15L451.5 456.85L447.5 453.15Z" fill="#f6ee68" stroke="#4a4a2a" stroke-width="0.8"/>
<path d="M464 445.69L468 449.39L464 453.09L460 449.39Z" fill="#f6ee68" stroke="#4a4a2a" stroke-width="0.8"/>
<path d="M514 462.61L518 466.31L514 470.01L510 466.31Z" fill="#f6ee68" stroke="#4a4a2a" stroke-width="0.8"/>
<path d="M564 472.01L568 475.71L564 479.41L560 475.71Z" fill="#f6ee68" stroke="#4a4a2a" stroke-width="0.8"/>
<path d="M676.5 365.68L680.5 369.38L676.5 373.08L672.5 369.38Z" fill="#f6ee68" stroke="#4a4a2a" stroke-width="0.8"/>
<path d="M689 389.29L693 392.99L689 396.69L685 392.99Z" fill="#f6ee68" stroke="#4a4a2a" stroke-width="0.8"/>
<path d="M701.5 381.77L705.5 385.47L701.5 389.17L697.5 385.47Z" fill="#f6ee68" stroke="#4a4a2a" stroke-width="0.8"/>
<path d="M714 383.65L718 387.35L714 391.05L710 387.35Z" fill="#f6ee68" stroke="#4a4a2a" stroke-width="0.8"/>
<path d="M726.5 405.79L730.5 409.49L726.5 413.19L722.5 409.49Z" fill="#f6ee68" stroke="#4a4a2a" stroke-width="0.8"/>
<path d="M739 398.69L743 402.39L739 406.09L735 402.39Z" fill="#f6ee68" stroke="#4a4a2a" stroke-width="0.8"/>
<path d="M751.5 408.09L755.5 411.79L751.5 415.49L747.5 411.79Z" fill="#f6ee68" stroke="#4a4a2a" stroke-width="0.8"/>
<path d="M764 409.13L768 412.83L764 416.53L760 412.83Z" fill="#f6ee68" stroke="#4a4a2a" stroke-width="0.8"/>
<path d="M776.5 412.27L780.5 415.97L776.5 419.67L772.5 415.97Z" fill="#f6ee68" stroke="#4a4a2a" stroke-width="0.8"/>
<path d="M451.5 385.6L454.9 378.76L448.1 378.76Z" fill="#2d5da6" stroke="#1a3566" stroke-width="0.7"/>
<path d="M514 475.43L517.4 468.59L510.6 468.59Z" fill="#2d5da6" stroke="#1a3566" stroke-width="0.7"/>
<path d="M526.5 481.69L529.9 474.85L523.1 474.85Z" fill="#2d5da6" stroke="#1a3566" stroke-width="0.7"/>
<path d="M539 486.08L542.4 479.24L535.6 479.24Z" fill="#2d5da6" stroke="#1a3566" stroke-width="0.7"/>
<path d="M551.5 478.35L554.9 471.51L548.1 471.51Z" fill="#2d5da6" stroke="#1a3566" stroke-width="0.7"/>
<path d="M676.5 346.12L679.9 339.28L673.1 339.28Z" fill="#2d5da6" stroke="#1a3566" stroke-width="0.7"/>
<path d="M689 312.9L692.4 306.06L685.6 306.06Z" fill="#2d5da6" stroke="#1a3566" stroke-width="0.7"/>
<path d="M701.5 368.68L704.9 361.84L698.1 361.84Z" fill="#2d5da6" stroke="#1a3566" stroke-width="0.7"/>
<path d="M714 325.85L717.4 319.01L710.6 319.01Z" fill="#2d5da6" stroke="#1a3566" stroke-width="0.7"/>
<path d="M726.5 325.44L729.9 318.59L723.1 318.59Z" fill="#2d5da6" stroke="#1a3566" stroke-width="0.7"/>
<path d="M739 364.92L742.4 358.08L735.6 358.08Z" fill="#2d5da6" stroke="#1a3566" stroke-width="0.7"/>
<path d="M751.5 391.03L754.9 384.19L748.1 384.19Z" fill="#2d5da6" stroke="#1a3566" stroke-width="0.7"/>
<path d="M764 369.51L767.4 362.67L760.6 362.67Z" fill="#2d5da6" stroke="#1a3566" stroke-width="0.7"/>
<path d="M776.5 380.79L779.9 373.95L773.1 373.95Z" fill="#2d5da6" stroke="#1a3566" stroke-width="0.7"/></g>
<clipPath id="cE"><rect x="46.7" y="567.0" width="344.8" height="233.20000000000005"/></clipPath><g clip-path="url(#cE)"><path d="M57.2 739.17V745.17M54.2 739.17h6M54.2 745.17h6M69.68 726.25V732.25M66.68 726.25h6M66.68 732.25h6M82.15 716.84V722.84M79.15 716.84h6M79.15 722.84h6M94.62 692.41V709.61M91.62 692.41h6M91.62 709.61h6M107.1 694.53V712.33M104.1 694.53h6M104.1 712.33h6M119.58 672.69V693.29M116.58 672.69h6M116.58 693.29h6M132.05 676.47V693.27M129.05 676.47h6M129.05 693.27h6M144.53 671.46V688.06M141.53 671.46h6M141.53 688.06h6M157 685.79V697.39M154 685.79h6M154 697.39h6M169.48 655.36V674.56M166.48 655.36h6M166.48 674.56h6M181.95 683.65V696.85M178.95 683.65h6M178.95 696.85h6M194.43 663.19V688.79M191.43 663.19h6M191.43 688.79h6M206.9 673.59V693.99M203.9 673.59h6M203.9 693.99h6M219.38 674.32V692.72M216.38 674.32h6M216.38 692.72h6M231.85 679.95V691.95M228.85 679.95h6M228.85 691.95h6M244.32 688.48V698.48M241.32 688.48h6M241.32 698.48h6M256.8 693.71V701.31M253.8 693.71h6M253.8 701.31h6M269.28 692.48V703.08M266.28 692.48h6M266.28 703.08h6M281.75 696.28V706.28M278.75 696.28h6M278.75 706.28h6M294.23 698.16V708.16M291.23 698.16h6M291.23 708.16h6M306.7 679.68V691.68M303.7 679.68h6M303.7 691.68h6M319.18 698.7V708.7M316.18 698.7h6M316.18 708.7h6M331.65 696.82V706.82M328.65 696.82h6M328.65 706.82h6M344.12 676.33V692.33M341.12 676.33h6M341.12 692.33h6M356.6 697.85V713.85M353.6 697.85h6M353.6 713.85h6M369.07 754.31V762.31M366.07 754.31h6M366.07 762.31h6M381.55 773.6V779.6M378.55 773.6h6M378.55 779.6h6" fill="none" stroke="#555" stroke-width="0.8"/>
<path d="M57.2 770.56V774.56M54.2 770.56h6M54.2 774.56h6M69.68 771.64V775.64M66.68 771.64h6M66.68 775.64h6M82.15 771.91V775.91M79.15 771.91h6M79.15 775.91h6M94.62 772.98V776.98M91.62 772.98h6M91.62 776.98h6M107.1 774.33V778.33M104.1 774.33h6M104.1 778.33h6M119.58 774.33V778.33M116.58 774.33h6M116.58 778.33h6M132.05 774.87V778.87M129.05 774.87h6M129.05 778.87h6M144.53 775.41V779.41M141.53 775.41h6M141.53 779.41h6M157 773.52V777.52M154 773.52h6M154 777.52h6M169.48 767.6V771.6M166.48 767.6h6M166.48 771.6h6M181.95 762.49V766.49M178.95 762.49h6M178.95 766.49h6M194.43 752.81V756.81M191.43 752.81h6M191.43 756.81h6M206.9 742.32V746.32M203.9 742.32h6M203.9 746.32h6M219.38 747.16V751.16M216.38 747.16h6M216.38 751.16h6M231.85 691.78V703.78M228.85 691.78h6M228.85 703.78h6M244.32 689.09V701.09M241.32 689.09h6M241.32 701.09h6M256.8 685.06V697.06M253.8 685.06h6M253.8 697.06h6M269.28 680.48V692.48M266.28 680.48h6M266.28 692.48h6M281.75 683.71V695.71M278.75 683.71h6M278.75 695.71h6M294.23 691.24V703.24M291.23 691.24h6M291.23 703.24h6M306.7 704.42V716.42M303.7 704.42h6M303.7 716.42h6M319.18 695.01V707.01M316.18 695.01h6M316.18 707.01h6M331.65 696.35V708.35M328.65 696.35h6M328.65 708.35h6M344.12 703.08V715.08M341.12 703.08h6M341.12 715.08h6M356.6 694.2V706.2M353.6 694.2h6M353.6 706.2h6M369.07 719.22V731.22M366.07 719.22h6M366.07 731.22h6M381.55 717.34V729.34M378.55 717.34h6M378.55 729.34h6" fill="none" stroke="#f39a7c" stroke-width="0.8"/>
<path d="M57.2 767.87V771.87M54.2 767.87h6M54.2 771.87h6M69.68 768.68V772.68M66.68 768.68h6M66.68 772.68h6M82.15 768.95V772.95M79.15 768.95h6M79.15 772.95h6M94.62 769.22V773.22M91.62 769.22h6M91.62 773.22h6M107.1 769.22V773.22M104.1 769.22h6M104.1 773.22h6M119.58 770.03V774.03M116.58 770.03h6M116.58 774.03h6M132.05 770.83V774.83M129.05 770.83h6M129.05 774.83h6M144.53 771.91V775.91M141.53 771.91h6M141.53 775.91h6M157 774.06V778.06M154 774.06h6M154 778.06h6M169.48 775.67V779.67M166.48 775.67h6M166.48 779.67h6M181.95 775.94V779.94M178.95 775.94h6M178.95 779.94h6M194.43 776.48V780.48M191.43 776.48h6M191.43 780.48h6M206.9 776.75V780.75M203.9 776.75h6M203.9 780.75h6M219.38 777.02V781.02M216.38 777.02h6M216.38 781.02h6M231.85 777.56V781.56M228.85 777.56h6M228.85 781.56h6M244.32 775.41V779.41M241.32 775.41h6M241.32 779.41h6M256.8 766.8V770.8M253.8 766.8h6M253.8 770.8h6M269.28 725.14V737.14M266.28 725.14h6M266.28 737.14h6M281.75 663.84V683.84M278.75 663.84h6M278.75 683.84h6M294.23 631.44V655.44M291.23 631.44h6M291.23 655.44h6M306.7 673.41V697.41M303.7 673.41h6M303.7 697.41h6M319.18 675.56V699.56M316.18 675.56h6M316.18 699.56h6M331.65 653.77V677.77M328.65 653.77h6M328.65 677.77h6M344.12 665.88V689.88M341.12 665.88h6M341.12 689.88h6M356.6 639.78V677.78M353.6 639.78h6M353.6 677.78h6M369.07 686.05V710.05M366.07 686.05h6M366.07 710.05h6M381.55 702.58V722.58M378.55 702.58h6M378.55 722.58h6" fill="none" stroke="#bfe0b5" stroke-width="0.8"/>
<path d="M57.2 766.26V770.26M54.2 766.26h6M54.2 770.26h6M69.68 767.34V771.34M66.68 767.34h6M66.68 771.34h6M82.15 767.87V771.87M79.15 767.87h6M79.15 771.87h6M94.62 767.87V771.87M91.62 767.87h6M91.62 771.87h6M107.1 770.29V774.29M104.1 770.29h6M104.1 774.29h6M119.58 770.83V774.83M116.58 770.83h6M116.58 774.83h6M132.05 771.1V775.1M129.05 771.1h6M129.05 775.1h6M144.53 772.98V776.98M141.53 772.98h6M141.53 776.98h6M157 772.72V776.72M154 772.72h6M154 776.72h6M169.48 773.52V777.52M166.48 773.52h6M166.48 777.52h6M181.95 774.06V778.06M178.95 774.06h6M178.95 778.06h6M194.43 774.6V778.6M191.43 774.6h6M191.43 778.6h6M206.9 775.14V779.14M203.9 775.14h6M203.9 779.14h6M219.38 775.41V779.41M216.38 775.41h6M216.38 779.41h6M231.85 775.67V779.67M228.85 775.67h6M228.85 779.67h6M244.32 776.48V780.48M241.32 776.48h6M241.32 780.48h6M256.8 777.02V781.02M253.8 777.02h6M253.8 781.02h6M269.28 776.21V780.21M266.28 776.21h6M266.28 780.21h6M281.75 722.21V742.21M278.75 722.21h6M278.75 742.21h6M294.23 593.54V653.54M291.23 593.54h6M291.23 653.54h6M306.7 532.54V622.54M303.7 532.54h6M303.7 622.54h6M319.18 573.2V657.2M316.18 573.2h6M316.18 657.2h6M331.65 599.26V661.26M328.65 599.26h6M328.65 661.26h6M344.12 566.28V652.28M341.12 566.28h6M341.12 652.28h6M356.6 648.73V688.73M353.6 648.73h6M353.6 688.73h6M369.07 651.42V691.42M366.07 651.42h6M366.07 691.42h6M381.55 666.91V696.91M378.55 666.91h6M378.55 696.91h6" fill="none" stroke="#f3efa8" stroke-width="0.8"/>
<path d="M57.2 759.8V763.8M54.2 759.8h6M54.2 763.8h6M69.68 761.15V765.15M66.68 761.15h6M66.68 765.15h6M82.15 761.42V765.42M79.15 761.42h6M79.15 765.42h6M94.62 762.22V766.22M91.62 762.22h6M91.62 766.22h6M107.1 764.11V768.11M104.1 764.11h6M104.1 768.11h6M119.58 765.45V769.45M116.58 765.45h6M116.58 769.45h6M132.05 766.53V770.53M129.05 766.53h6M129.05 770.53h6M144.53 767.34V771.34M141.53 767.34h6M141.53 771.34h6M157 767.87V771.87M154 767.87h6M154 771.87h6M169.48 768.41V772.41M166.48 768.41h6M166.48 772.41h6M181.95 768.95V772.95M178.95 768.95h6M178.95 772.95h6M194.43 769.76V773.76M191.43 769.76h6M191.43 773.76h6M206.9 770.29V774.29M203.9 770.29h6M203.9 774.29h6M219.38 770.56V774.56M216.38 770.56h6M216.38 774.56h6M231.85 770.83V774.83M228.85 770.83h6M228.85 774.83h6M244.32 771.91V775.91M241.32 771.91h6M241.32 775.91h6M256.8 771.64V775.64M253.8 771.64h6M253.8 775.64h6M269.28 772.45V776.45M266.28 772.45h6M266.28 776.45h6M281.75 758.15V768.15M278.75 758.15h6M278.75 768.15h6M294.23 552.44V642.44M291.23 552.44h6M291.23 642.44h6M306.7 552.44V642.44M303.7 552.44h6M303.7 642.44h6M319.18 577.05V649.05M316.18 577.05h6M316.18 649.05h6M331.65 661.91V701.91M328.65 661.91h6M328.65 701.91h6M344.12 658.3V688.3M341.12 658.3h6M341.12 688.3h6M356.6 667.61V687.61M353.6 667.61h6M353.6 687.61h6M369.07 682.79V698.79M366.07 682.79h6M366.07 698.79h6M381.55 713.84V725.84M378.55 713.84h6M378.55 725.84h6" fill="none" stroke="#8eacdb" stroke-width="0.8"/>
<path d="M57.2 762.49V766.49M54.2 762.49h6M54.2 766.49h6M69.68 763.03V767.03M66.68 763.03h6M66.68 767.03h6M82.15 763.03V767.03M79.15 763.03h6M79.15 767.03h6M94.62 763.57V767.57M91.62 763.57h6M91.62 767.57h6M107.1 765.45V769.45M104.1 765.45h6M104.1 769.45h6M119.58 765.99V769.99M116.58 765.99h6M116.58 769.99h6M132.05 767.34V771.34M129.05 767.34h6M129.05 771.34h6M144.53 770.03V774.03M141.53 770.03h6M141.53 774.03h6M157 771.91V775.91M154 771.91h6M154 775.91h6M169.48 770.83V774.83M166.48 770.83h6M166.48 774.83h6M181.95 770.29V774.29M178.95 770.29h6M178.95 774.29h6M194.43 770.29V774.29M191.43 770.29h6M191.43 774.29h6M206.9 771.91V775.91M203.9 771.91h6M203.9 775.91h6M219.38 772.45V776.45M216.38 772.45h6M216.38 776.45h6M231.85 773.25V777.25M228.85 773.25h6M228.85 777.25h6M244.32 774.06V778.06M241.32 774.06h6M241.32 778.06h6M256.8 774.06V778.06M253.8 774.06h6M253.8 778.06h6M269.28 775.67V779.67M266.28 775.67h6M266.28 779.67h6M281.75 756.27V766.27M278.75 756.27h6M278.75 766.27h6M294.23 648.08V678.08M291.23 648.08h6M291.23 678.08h6M306.7 629.21V665.21M303.7 629.21h6M303.7 665.21h6M319.18 639.7V675.7M316.18 639.7h6M316.18 675.7h6M331.65 647.27V677.27M328.65 647.27h6M328.65 677.27h6M344.12 676.48V696.48M341.12 676.48h6M341.12 696.48h6M356.6 681.17V697.17M353.6 681.17h6M353.6 697.17h6M369.07 699.2V715.2M366.07 699.2h6M366.07 715.2h6M381.55 700V716M378.55 700h6M378.55 716h6" fill="none" stroke="#dccbe2" stroke-width="0.8"/>
<path d="M57.2 742.17L69.68 729.25L82.15 719.84L94.62 701.01L107.1 703.43L119.58 682.99L132.05 684.87L144.53 679.76L157 691.59L169.48 664.96L181.95 690.25L194.43 675.99L206.9 683.79L219.38 683.52L231.85 685.95L244.32 693.48L256.8 697.51L269.28 697.78L281.75 701.28L294.23 703.16L306.7 685.68L319.18 703.7L331.65 701.82L344.12 684.33L356.6 705.85L369.07 758.31L381.55 776.6" fill="none" stroke="#555" stroke-width="0.9"/>
<path d="M57.2 772.56L69.68 773.64L82.15 773.91L94.62 774.98L107.1 776.33L119.58 776.33L132.05 776.87L144.53 777.41L157 775.52L169.48 769.6L181.95 764.49L194.43 754.81L206.9 744.32L219.38 749.16L231.85 697.78L244.32 695.09L256.8 691.06L269.28 686.48L281.75 689.71L294.23 697.24L306.7 710.42L319.18 701.01L331.65 702.35L344.12 709.08L356.6 700.2L369.07 725.22L381.55 723.34" fill="none" stroke="#555" stroke-width="0.9"/>
<path d="M57.2 769.87L69.68 770.68L82.15 770.95L94.62 771.22L107.1 771.22L119.58 772.03L132.05 772.83L144.53 773.91L157 776.06L169.48 777.67L181.95 777.94L194.43 778.48L206.9 778.75L219.38 779.02L231.85 779.56L244.32 777.41L256.8 768.8L269.28 731.14L281.75 673.84L294.23 643.44L306.7 685.41L319.18 687.56L331.65 665.77L344.12 677.88L356.6 658.78L369.07 698.05L381.55 712.58" fill="none" stroke="#555" stroke-width="0.9"/>
<path d="M57.2 768.26L69.68 769.34L82.15 769.87L94.62 769.87L107.1 772.29L119.58 772.83L132.05 773.1L144.53 774.98L157 774.72L169.48 775.52L181.95 776.06L194.43 776.6L206.9 777.14L219.38 777.41L231.85 777.67L244.32 778.48L256.8 779.02L269.28 778.21L281.75 732.21L294.23 623.54L306.7 577.54L319.18 615.2L331.65 630.26L344.12 609.28L356.6 668.73L369.07 671.42L381.55 681.91" fill="none" stroke="#555" stroke-width="0.9"/>
<path d="M57.2 761.8L69.68 763.15L82.15 763.42L94.62 764.22L107.1 766.11L119.58 767.45L132.05 768.53L144.53 769.34L157 769.87L169.48 770.41L181.95 770.95L194.43 771.76L206.9 772.29L219.38 772.56L231.85 772.83L244.32 773.91L256.8 773.64L269.28 774.45L281.75 763.15L294.23 597.44L306.7 597.44L319.18 613.05L331.65 681.91L344.12 673.3L356.6 677.61L369.07 690.79L381.55 719.84" fill="none" stroke="#555" stroke-width="0.9"/>
<path d="M57.2 764.49L69.68 765.03L82.15 765.03L94.62 765.57L107.1 767.45L119.58 767.99L132.05 769.34L144.53 772.03L157 773.91L169.48 772.83L181.95 772.29L194.43 772.29L206.9 773.91L219.38 774.45L231.85 775.25L244.32 776.06L256.8 776.06L269.28 777.67L281.75 761.27L294.23 663.08L306.7 647.21L319.18 657.7L331.65 662.27L344.12 686.48L356.6 689.17L369.07 707.2L381.55 708" fill="none" stroke="#555" stroke-width="0.9"/>
<rect x="54.1" y="739.07" width="6.2" height="6.2" fill="#0c0c0c" stroke="#222" stroke-width="0.6"/>
<rect x="66.58" y="726.15" width="6.2" height="6.2" fill="#0c0c0c" stroke="#222" stroke-width="0.6"/>
<rect x="79.05" y="716.74" width="6.2" height="6.2" fill="#0c0c0c" stroke="#222" stroke-width="0.6"/>
<rect x="91.53" y="697.91" width="6.2" height="6.2" fill="#0c0c0c" stroke="#222" stroke-width="0.6"/>
<rect x="104" y="700.33" width="6.2" height="6.2" fill="#0c0c0c" stroke="#222" stroke-width="0.6"/>
<rect x="116.48" y="679.89" width="6.2" height="6.2" fill="#0c0c0c" stroke="#222" stroke-width="0.6"/>
<rect x="128.95" y="681.77" width="6.2" height="6.2" fill="#0c0c0c" stroke="#222" stroke-width="0.6"/>
<rect x="141.43" y="676.66" width="6.2" height="6.2" fill="#0c0c0c" stroke="#222" stroke-width="0.6"/>
<rect x="153.9" y="688.49" width="6.2" height="6.2" fill="#0c0c0c" stroke="#222" stroke-width="0.6"/>
<rect x="166.38" y="661.86" width="6.2" height="6.2" fill="#0c0c0c" stroke="#222" stroke-width="0.6"/>
<rect x="178.85" y="687.15" width="6.2" height="6.2" fill="#0c0c0c" stroke="#222" stroke-width="0.6"/>
<rect x="191.33" y="672.89" width="6.2" height="6.2" fill="#0c0c0c" stroke="#222" stroke-width="0.6"/>
<rect x="203.8" y="680.69" width="6.2" height="6.2" fill="#0c0c0c" stroke="#222" stroke-width="0.6"/>
<rect x="216.28" y="680.42" width="6.2" height="6.2" fill="#0c0c0c" stroke="#222" stroke-width="0.6"/>
<rect x="228.75" y="682.85" width="6.2" height="6.2" fill="#0c0c0c" stroke="#222" stroke-width="0.6"/>
<rect x="241.22" y="690.38" width="6.2" height="6.2" fill="#0c0c0c" stroke="#222" stroke-width="0.6"/>
<rect x="253.7" y="694.41" width="6.2" height="6.2" fill="#0c0c0c" stroke="#222" stroke-width="0.6"/>
<rect x="266.18" y="694.68" width="6.2" height="6.2" fill="#0c0c0c" stroke="#222" stroke-width="0.6"/>
<rect x="278.65" y="698.18" width="6.2" height="6.2" fill="#0c0c0c" stroke="#222" stroke-width="0.6"/>
<rect x="291.12" y="700.06" width="6.2" height="6.2" fill="#0c0c0c" stroke="#222" stroke-width="0.6"/>
<rect x="303.6" y="682.58" width="6.2" height="6.2" fill="#0c0c0c" stroke="#222" stroke-width="0.6"/>
<rect x="316.07" y="700.6" width="6.2" height="6.2" fill="#0c0c0c" stroke="#222" stroke-width="0.6"/>
<rect x="328.55" y="698.72" width="6.2" height="6.2" fill="#0c0c0c" stroke="#222" stroke-width="0.6"/>
<rect x="341.02" y="681.23" width="6.2" height="6.2" fill="#0c0c0c" stroke="#222" stroke-width="0.6"/>
<rect x="353.5" y="702.75" width="6.2" height="6.2" fill="#0c0c0c" stroke="#222" stroke-width="0.6"/>
<rect x="365.97" y="755.21" width="6.2" height="6.2" fill="#0c0c0c" stroke="#222" stroke-width="0.6"/>
<rect x="378.45" y="773.5" width="6.2" height="6.2" fill="#0c0c0c" stroke="#222" stroke-width="0.6"/>
<circle cx="57.2" cy="772.56" r="3.4" fill="#ea5627" stroke="#8a2a10" stroke-width="0.8"/>
<circle cx="69.68" cy="773.64" r="3.4" fill="#ea5627" stroke="#8a2a10" stroke-width="0.8"/>
<circle cx="82.15" cy="773.91" r="3.4" fill="#ea5627" stroke="#8a2a10" stroke-width="0.8"/>
<circle cx="94.62" cy="774.98" r="3.4" fill="#ea5627" stroke="#8a2a10" stroke-width="0.8"/>
<circle cx="107.1" cy="776.33" r="3.4" fill="#ea5627" stroke="#8a2a10" stroke-width="0.8"/>
<circle cx="119.58" cy="776.33" r="3.4" fill="#ea5627" stroke="#8a2a10" stroke-width="0.8"/>
<circle cx="132.05" cy="776.87" r="3.4" fill="#ea5627" stroke="#8a2a10" stroke-width="0.8"/>
<circle cx="144.53" cy="777.41" r="3.4" fill="#ea5627" stroke="#8a2a10" stroke-width="0.8"/>
<circle cx="157" cy="775.52" r="3.4" fill="#ea5627" stroke="#8a2a10" stroke-width="0.8"/>
<circle cx="169.48" cy="769.6" r="3.4" fill="#ea5627" stroke="#8a2a10" stroke-width="0.8"/>
<circle cx="181.95" cy="764.49" r="3.4" fill="#ea5627" stroke="#8a2a10" stroke-width="0.8"/>
<circle cx="194.43" cy="754.81" r="3.4" fill="#ea5627" stroke="#8a2a10" stroke-width="0.8"/>
<circle cx="206.9" cy="744.32" r="3.4" fill="#ea5627" stroke="#8a2a10" stroke-width="0.8"/>
<circle cx="219.38" cy="749.16" r="3.4" fill="#ea5627" stroke="#8a2a10" stroke-width="0.8"/>
<circle cx="231.85" cy="697.78" r="3.4" fill="#ea5627" stroke="#8a2a10" stroke-width="0.8"/>
<circle cx="244.32" cy="695.09" r="3.4" fill="#ea5627" stroke="#8a2a10" stroke-width="0.8"/>
<circle cx="256.8" cy="691.06" r="3.4" fill="#ea5627" stroke="#8a2a10" stroke-width="0.8"/>
<circle cx="269.28" cy="686.48" r="3.4" fill="#ea5627" stroke="#8a2a10" stroke-width="0.8"/>
<circle cx="281.75" cy="689.71" r="3.4" fill="#ea5627" stroke="#8a2a10" stroke-width="0.8"/>
<circle cx="294.23" cy="697.24" r="3.4" fill="#ea5627" stroke="#8a2a10" stroke-width="0.8"/>
<circle cx="306.7" cy="710.42" r="3.4" fill="#ea5627" stroke="#8a2a10" stroke-width="0.8"/>
<circle cx="319.18" cy="701.01" r="3.4" fill="#ea5627" stroke="#8a2a10" stroke-width="0.8"/>
<circle cx="331.65" cy="702.35" r="3.4" fill="#ea5627" stroke="#8a2a10" stroke-width="0.8"/>
<circle cx="344.12" cy="709.08" r="3.4" fill="#ea5627" stroke="#8a2a10" stroke-width="0.8"/>
<circle cx="356.6" cy="700.2" r="3.4" fill="#ea5627" stroke="#8a2a10" stroke-width="0.8"/>
<circle cx="369.07" cy="725.22" r="3.4" fill="#ea5627" stroke="#8a2a10" stroke-width="0.8"/>
<circle cx="381.55" cy="723.34" r="3.4" fill="#ea5627" stroke="#8a2a10" stroke-width="0.8"/>
<path d="M57.2 766.27L60.7 773.11L53.7 773.11Z" fill="#95c987" stroke="#3d5a36" stroke-width="0.7"/>
<path d="M69.68 767.08L73.18 773.92L66.18 773.92Z" fill="#95c987" stroke="#3d5a36" stroke-width="0.7"/>
<path d="M82.15 767.35L85.65 774.19L78.65 774.19Z" fill="#95c987" stroke="#3d5a36" stroke-width="0.7"/>
<path d="M94.62 767.62L98.12 774.46L91.12 774.46Z" fill="#95c987" stroke="#3d5a36" stroke-width="0.7"/>
<path d="M107.1 767.62L110.6 774.46L103.6 774.46Z" fill="#95c987" stroke="#3d5a36" stroke-width="0.7"/>
<path d="M119.58 768.43L123.08 775.27L116.08 775.27Z" fill="#95c987" stroke="#3d5a36" stroke-width="0.7"/>
<path d="M132.05 769.23L135.55 776.07L128.55 776.07Z" fill="#95c987" stroke="#3d5a36" stroke-width="0.7"/>
<path d="M144.53 770.31L148.03 777.15L141.03 777.15Z" fill="#95c987" stroke="#3d5a36" stroke-width="0.7"/>
<path d="M157 772.46L160.5 779.3L153.5 779.3Z" fill="#95c987" stroke="#3d5a36" stroke-width="0.7"/>
<path d="M169.48 774.07L172.98 780.91L165.98 780.91Z" fill="#95c987" stroke="#3d5a36" stroke-width="0.7"/>
<path d="M181.95 774.34L185.45 781.18L178.45 781.18Z" fill="#95c987" stroke="#3d5a36" stroke-width="0.7"/>
<path d="M194.43 774.88L197.93 781.72L190.93 781.72Z" fill="#95c987" stroke="#3d5a36" stroke-width="0.7"/>
<path d="M206.9 775.15L210.4 781.99L203.4 781.99Z" fill="#95c987" stroke="#3d5a36" stroke-width="0.7"/>
<path d="M219.38 775.42L222.88 782.26L215.88 782.26Z" fill="#95c987" stroke="#3d5a36" stroke-width="0.7"/>
<path d="M231.85 775.96L235.35 782.8L228.35 782.8Z" fill="#95c987" stroke="#3d5a36" stroke-width="0.7"/>
<path d="M244.32 773.81L247.82 780.65L240.82 780.65Z" fill="#95c987" stroke="#3d5a36" stroke-width="0.7"/>
<path d="M256.8 765.2L260.3 772.04L253.3 772.04Z" fill="#95c987" stroke="#3d5a36" stroke-width="0.7"/>
<path d="M269.28 727.54L272.78 734.38L265.78 734.38Z" fill="#95c987" stroke="#3d5a36" stroke-width="0.7"/>
<path d="M281.75 670.24L285.25 677.08L278.25 677.08Z" fill="#95c987" stroke="#3d5a36" stroke-width="0.7"/>
<path d="M294.23 639.84L297.73 646.68L290.73 646.68Z" fill="#95c987" stroke="#3d5a36" stroke-width="0.7"/>
<path d="M306.7 681.81L310.2 688.65L303.2 688.65Z" fill="#95c987" stroke="#3d5a36" stroke-width="0.7"/>
<path d="M319.18 683.96L322.68 690.8L315.68 690.8Z" fill="#95c987" stroke="#3d5a36" stroke-width="0.7"/>
<path d="M331.65 662.17L335.15 669.01L328.15 669.01Z" fill="#95c987" stroke="#3d5a36" stroke-width="0.7"/>
<path d="M344.12 674.27L347.62 681.12L340.62 681.12Z" fill="#95c987" stroke="#3d5a36" stroke-width="0.7"/>
<path d="M356.6 655.18L360.1 662.02L353.1 662.02Z" fill="#95c987" stroke="#3d5a36" stroke-width="0.7"/>
<path d="M369.07 694.45L372.57 701.29L365.57 701.29Z" fill="#95c987" stroke="#3d5a36" stroke-width="0.7"/>
<path d="M381.55 708.98L385.05 715.82L378.05 715.82Z" fill="#95c987" stroke="#3d5a36" stroke-width="0.7"/>
<path d="M57.2 764.56L61.2 768.26L57.2 771.96L53.2 768.26Z" fill="#f6ee68" stroke="#4a4a2a" stroke-width="0.8"/>
<path d="M69.68 765.63L73.68 769.34L69.68 773.04L65.68 769.34Z" fill="#f6ee68" stroke="#4a4a2a" stroke-width="0.8"/>
<path d="M82.15 766.17L86.15 769.87L82.15 773.57L78.15 769.87Z" fill="#f6ee68" stroke="#4a4a2a" stroke-width="0.8"/>
<path d="M94.62 766.17L98.62 769.87L94.62 773.57L90.62 769.87Z" fill="#f6ee68" stroke="#4a4a2a" stroke-width="0.8"/>
<path d="M107.1 768.59L111.1 772.29L107.1 775.99L103.1 772.29Z" fill="#f6ee68" stroke="#4a4a2a" stroke-width="0.8"/>
<path d="M119.58 769.13L123.58 772.83L119.58 776.53L115.58 772.83Z" fill="#f6ee68" stroke="#4a4a2a" stroke-width="0.8"/>
<path d="M132.05 769.4L136.05 773.1L132.05 776.8L128.05 773.1Z" fill="#f6ee68" stroke="#4a4a2a" stroke-width="0.8"/>
<path d="M144.53 771.28L148.53 774.98L144.53 778.68L140.53 774.98Z" fill="#f6ee68" stroke="#4a4a2a" stroke-width="0.8"/>
<path d="M157 771.01L161 774.72L157 778.42L153 774.72Z" fill="#f6ee68" stroke="#4a4a2a" stroke-width="0.8"/>
<path d="M169.48 771.82L173.48 775.52L169.48 779.22L165.48 775.52Z" fill="#f6ee68" stroke="#4a4a2a" stroke-width="0.8"/>
<path d="M181.95 772.36L185.95 776.06L181.95 779.76L177.95 776.06Z" fill="#f6ee68" stroke="#4a4a2a" stroke-width="0.8"/>
<path d="M194.43 772.9L198.43 776.6L194.43 780.3L190.43 776.6Z" fill="#f6ee68" stroke="#4a4a2a" stroke-width="0.8"/>
<path d="M206.9 773.44L210.9 777.14L206.9 780.84L202.9 777.14Z" fill="#f6ee68" stroke="#4a4a2a" stroke-width="0.8"/>
<path d="M219.38 773.71L223.38 777.41L219.38 781.11L215.38 777.41Z" fill="#f6ee68" stroke="#4a4a2a" stroke-width="0.8"/>
<path d="M231.85 773.97L235.85 777.67L231.85 781.37L227.85 777.67Z" fill="#f6ee68" stroke="#4a4a2a" stroke-width="0.8"/>
<path d="M244.32 774.78L248.32 778.48L244.32 782.18L240.32 778.48Z" fill="#f6ee68" stroke="#4a4a2a" stroke-width="0.8"/>
<path d="M256.8 775.32L260.8 779.02L256.8 782.72L252.8 779.02Z" fill="#f6ee68" stroke="#4a4a2a" stroke-width="0.8"/>
<path d="M269.28 774.51L273.28 778.21L269.28 781.91L265.28 778.21Z" fill="#f6ee68" stroke="#4a4a2a" stroke-width="0.8"/>
<path d="M281.75 728.51L285.75 732.21L281.75 735.91L277.75 732.21Z" fill="#f6ee68" stroke="#4a4a2a" stroke-width="0.8"/>
<path d="M294.23 619.84L298.23 623.54L294.23 627.24L290.23 623.54Z" fill="#f6ee68" stroke="#4a4a2a" stroke-width="0.8"/>
<path d="M306.7 573.84L310.7 577.54L306.7 581.24L302.7 577.54Z" fill="#f6ee68" stroke="#4a4a2a" stroke-width="0.8"/>
<path d="M319.18 611.5L323.18 615.2L319.18 618.9L315.18 615.2Z" fill="#f6ee68" stroke="#4a4a2a" stroke-width="0.8"/>
<path d="M331.65 626.56L335.65 630.26L331.65 633.96L327.65 630.26Z" fill="#f6ee68" stroke="#4a4a2a" stroke-width="0.8"/>
<path d="M344.12 605.58L348.12 609.28L344.12 612.98L340.12 609.28Z" fill="#f6ee68" stroke="#4a4a2a" stroke-width="0.8"/>
<path d="M356.6 665.03L360.6 668.73L356.6 672.43L352.6 668.73Z" fill="#f6ee68" stroke="#4a4a2a" stroke-width="0.8"/>
<path d="M369.07 667.72L373.07 671.42L369.07 675.12L365.07 671.42Z" fill="#f6ee68" stroke="#4a4a2a" stroke-width="0.8"/>
<path d="M381.55 678.21L385.55 681.91L381.55 685.61L377.55 681.91Z" fill="#f6ee68" stroke="#4a4a2a" stroke-width="0.8"/>
<path d="M57.2 765.9L60.6 759.06L53.8 759.06Z" fill="#2d5da6" stroke="#1a3566" stroke-width="0.7"/>
<path d="M69.68 767.25L73.08 760.41L66.28 760.41Z" fill="#2d5da6" stroke="#1a3566" stroke-width="0.7"/>
<path d="M82.15 767.52L85.55 760.68L78.75 760.68Z" fill="#2d5da6" stroke="#1a3566" stroke-width="0.7"/>
<path d="M94.62 768.32L98.03 761.48L91.22 761.48Z" fill="#2d5da6" stroke="#1a3566" stroke-width="0.7"/>
<path d="M107.1 770.21L110.5 763.37L103.7 763.37Z" fill="#2d5da6" stroke="#1a3566" stroke-width="0.7"/>
<path d="M119.58 771.55L122.98 764.71L116.17 764.71Z" fill="#2d5da6" stroke="#1a3566" stroke-width="0.7"/>
<path d="M132.05 772.63L135.45 765.79L128.65 765.79Z" fill="#2d5da6" stroke="#1a3566" stroke-width="0.7"/>
<path d="M144.53 773.44L147.93 766.6L141.12 766.6Z" fill="#2d5da6" stroke="#1a3566" stroke-width="0.7"/>
<path d="M157 773.97L160.4 767.13L153.6 767.13Z" fill="#2d5da6" stroke="#1a3566" stroke-width="0.7"/>
<path d="M169.48 774.51L172.88 767.67L166.08 767.67Z" fill="#2d5da6" stroke="#1a3566" stroke-width="0.7"/>
<path d="M181.95 775.05L185.35 768.21L178.55 768.21Z" fill="#2d5da6" stroke="#1a3566" stroke-width="0.7"/>
<path d="M194.43 775.86L197.83 769.02L191.03 769.02Z" fill="#2d5da6" stroke="#1a3566" stroke-width="0.7"/>
<path d="M206.9 776.39L210.3 769.55L203.5 769.55Z" fill="#2d5da6" stroke="#1a3566" stroke-width="0.7"/>
<path d="M219.38 776.66L222.78 769.82L215.97 769.82Z" fill="#2d5da6" stroke="#1a3566" stroke-width="0.7"/>
<path d="M231.85 776.93L235.25 770.09L228.45 770.09Z" fill="#2d5da6" stroke="#1a3566" stroke-width="0.7"/>
<path d="M244.32 778.01L247.72 771.17L240.92 771.17Z" fill="#2d5da6" stroke="#1a3566" stroke-width="0.7"/>
<path d="M256.8 777.74L260.2 770.9L253.4 770.9Z" fill="#2d5da6" stroke="#1a3566" stroke-width="0.7"/>
<path d="M269.28 778.55L272.68 771.71L265.88 771.71Z" fill="#2d5da6" stroke="#1a3566" stroke-width="0.7"/>
<path d="M281.75 767.25L285.15 760.41L278.35 760.41Z" fill="#2d5da6" stroke="#1a3566" stroke-width="0.7"/>
<path d="M294.23 601.54L297.62 594.7L290.83 594.7Z" fill="#2d5da6" stroke="#1a3566" stroke-width="0.7"/>
<path d="M306.7 601.54L310.1 594.7L303.3 594.7Z" fill="#2d5da6" stroke="#1a3566" stroke-width="0.7"/>
<path d="M319.18 617.15L322.57 610.31L315.78 610.31Z" fill="#2d5da6" stroke="#1a3566" stroke-width="0.7"/>
<path d="M331.65 686.01L335.05 679.17L328.25 679.17Z" fill="#2d5da6" stroke="#1a3566" stroke-width="0.7"/>
<path d="M344.12 677.4L347.52 670.56L340.73 670.56Z" fill="#2d5da6" stroke="#1a3566" stroke-width="0.7"/>
<path d="M356.6 681.71L360 674.87L353.2 674.87Z" fill="#2d5da6" stroke="#1a3566" stroke-width="0.7"/>
<path d="M369.07 694.89L372.47 688.05L365.68 688.05Z" fill="#2d5da6" stroke="#1a3566" stroke-width="0.7"/>
<path d="M381.55 723.94L384.95 717.1L378.15 717.1Z" fill="#2d5da6" stroke="#1a3566" stroke-width="0.7"/>
<path d="M57.2 761.89L61.9 764.49L57.2 767.09L52.5 764.49Z" fill="#a97cb8" stroke="#5a4060" stroke-width="0.7"/>
<path d="M69.68 762.43L74.38 765.03L69.68 767.63L64.98 765.03Z" fill="#a97cb8" stroke="#5a4060" stroke-width="0.7"/>
<path d="M82.15 762.43L86.85 765.03L82.15 767.63L77.45 765.03Z" fill="#a97cb8" stroke="#5a4060" stroke-width="0.7"/>
<path d="M94.62 762.97L99.33 765.57L94.62 768.17L89.92 765.57Z" fill="#a97cb8" stroke="#5a4060" stroke-width="0.7"/>
<path d="M107.1 764.85L111.8 767.45L107.1 770.05L102.4 767.45Z" fill="#a97cb8" stroke="#5a4060" stroke-width="0.7"/>
<path d="M119.58 765.39L124.28 767.99L119.58 770.59L114.88 767.99Z" fill="#a97cb8" stroke="#5a4060" stroke-width="0.7"/>
<path d="M132.05 766.74L136.75 769.34L132.05 771.94L127.35 769.34Z" fill="#a97cb8" stroke="#5a4060" stroke-width="0.7"/>
<path d="M144.53 769.43L149.22 772.03L144.53 774.63L139.83 772.03Z" fill="#a97cb8" stroke="#5a4060" stroke-width="0.7"/>
<path d="M157 771.31L161.7 773.91L157 776.51L152.3 773.91Z" fill="#a97cb8" stroke="#5a4060" stroke-width="0.7"/>
<path d="M169.48 770.23L174.18 772.83L169.48 775.43L164.78 772.83Z" fill="#a97cb8" stroke="#5a4060" stroke-width="0.7"/>
<path d="M181.95 769.69L186.65 772.29L181.95 774.89L177.25 772.29Z" fill="#a97cb8" stroke="#5a4060" stroke-width="0.7"/>
<path d="M194.43 769.69L199.12 772.29L194.43 774.89L189.73 772.29Z" fill="#a97cb8" stroke="#5a4060" stroke-width="0.7"/>
<path d="M206.9 771.31L211.6 773.91L206.9 776.51L202.2 773.91Z" fill="#a97cb8" stroke="#5a4060" stroke-width="0.7"/>
<path d="M219.38 771.85L224.07 774.45L219.38 777.05L214.68 774.45Z" fill="#a97cb8" stroke="#5a4060" stroke-width="0.7"/>
<path d="M231.85 772.65L236.55 775.25L231.85 777.85L227.15 775.25Z" fill="#a97cb8" stroke="#5a4060" stroke-width="0.7"/>
<path d="M244.32 773.46L249.02 776.06L244.32 778.66L239.62 776.06Z" fill="#a97cb8" stroke="#5a4060" stroke-width="0.7"/>
<path d="M256.8 773.46L261.5 776.06L256.8 778.66L252.1 776.06Z" fill="#a97cb8" stroke="#5a4060" stroke-width="0.7"/>
<path d="M269.28 775.07L273.98 777.67L269.28 780.27L264.58 777.67Z" fill="#a97cb8" stroke="#5a4060" stroke-width="0.7"/>
<path d="M281.75 758.67L286.45 761.27L281.75 763.87L277.05 761.27Z" fill="#a97cb8" stroke="#5a4060" stroke-width="0.7"/>
<path d="M294.23 660.48L298.93 663.08L294.23 665.68L289.53 663.08Z" fill="#a97cb8" stroke="#5a4060" stroke-width="0.7"/>
<path d="M306.7 644.61L311.4 647.21L306.7 649.81L302 647.21Z" fill="#a97cb8" stroke="#5a4060" stroke-width="0.7"/>
<path d="M319.18 655.1L323.88 657.7L319.18 660.3L314.48 657.7Z" fill="#a97cb8" stroke="#5a4060" stroke-width="0.7"/>
<path d="M331.65 659.67L336.35 662.27L331.65 664.87L326.95 662.27Z" fill="#a97cb8" stroke="#5a4060" stroke-width="0.7"/>
<path d="M344.12 683.88L348.82 686.48L344.12 689.08L339.43 686.48Z" fill="#a97cb8" stroke="#5a4060" stroke-width="0.7"/>
<path d="M356.6 686.57L361.3 689.17L356.6 691.77L351.9 689.17Z" fill="#a97cb8" stroke="#5a4060" stroke-width="0.7"/>
<path d="M369.07 704.6L373.77 707.2L369.07 709.8L364.38 707.2Z" fill="#a97cb8" stroke="#5a4060" stroke-width="0.7"/>
<path d="M381.55 705.4L386.25 708L381.55 710.6L376.85 708Z" fill="#a97cb8" stroke="#5a4060" stroke-width="0.7"/></g>

<path d="M65.93 250.0v-5.8M75.76 250.0v-5.8M85.59 250.0v-5.8M95.42 250.0v-5.8M115.08 250.0v-5.8M124.91 250.0v-5.8M134.74 250.0v-5.8M144.57 250.0v-5.8M164.23 250.0v-5.8M174.06 250.0v-5.8M183.89 250.0v-5.8M193.72 250.0v-5.8M213.38 250.0v-5.8M223.21 250.0v-5.8M233.04 250.0v-5.8M242.87 250.0v-5.8M262.53 250.0v-5.8M272.36 250.0v-5.8M282.19 250.0v-5.8M292.02 250.0v-5.8M311.68 250.0v-5.8M321.51 250.0v-5.8M331.34 250.0v-5.8M341.17 250.0v-5.8M360.83 250.0v-5.8M370.66 250.0v-5.8M380.49 250.0v-5.8M56.1 250.0v-12M105.25 250.0v-12M154.4 250.0v-12M203.55 250.0v-12M252.7 250.0v-12M301.85 250.0v-12M351 250.0v-12M46.6 227.67h5.8M46.6 221.43h5.8M46.6 215.2h5.8M46.6 208.97h5.8M46.6 196.5h5.8M46.6 190.27h5.8M46.6 184.04h5.8M46.6 177.8h5.8M46.6 165.34h5.8M46.6 159.1h5.8M46.6 152.87h5.8M46.6 146.64h5.8M46.6 134.17h5.8M46.6 127.94h5.8M46.6 121.71h5.8M46.6 115.47h5.8M46.6 103.01h5.8M46.6 96.77h5.8M46.6 90.54h5.8M46.6 84.31h5.8M46.6 71.84h5.8M46.6 65.61h5.8M46.6 59.38h5.8M46.6 53.14h5.8M46.6 40.68h5.8M46.6 34.44h5.8M46.6 28.21h5.8M46.6 233.9h12M46.6 202.74h12M46.6 171.57h12M46.6 140.41h12M46.6 109.24h12M46.6 78.08h12M46.6 46.91h12" stroke="#111" stroke-width="1.4" fill="none"/>
<rect x="46.6" y="16.9" width="343.8" height="233.1" fill="none" stroke="#111" stroke-width="1.6"/>
<text x="56.4" y="263.1" text-anchor="middle" font-size="12">20.0</text>
<text x="105.55" y="263.1" text-anchor="middle" font-size="12">30.0</text>
<text x="154.7" y="263.1" text-anchor="middle" font-size="12">40.0</text>
<text x="203.85" y="263.1" text-anchor="middle" font-size="12">50.0</text>
<text x="253" y="263.1" text-anchor="middle" font-size="12">60.0</text>
<text x="302.15" y="263.1" text-anchor="middle" font-size="12">70.0</text>
<text x="351.3" y="263.1" text-anchor="middle" font-size="12">80.0</text>
<text x="42.1" y="237.5" text-anchor="end" font-size="12">0.0</text>
<text x="42.1" y="206.34" text-anchor="end" font-size="12">0.5</text>
<text x="42.1" y="175.17" text-anchor="end" font-size="12">1.0</text>
<text x="42.1" y="144" text-anchor="end" font-size="12">1.5</text>
<text x="42.1" y="112.84" text-anchor="end" font-size="12">2.0</text>
<text x="42.1" y="81.68" text-anchor="end" font-size="12">2.5</text>
<text x="42.1" y="50.51" text-anchor="end" font-size="12">3.0</text>
<path d="M459.24 250.3v-5.8M469.48 250.3v-5.8M479.72 250.3v-5.8M500.2 250.3v-5.8M510.44 250.3v-5.8M520.68 250.3v-5.8M541.16 250.3v-5.8M551.4 250.3v-5.8M561.64 250.3v-5.8M582.12 250.3v-5.8M592.36 250.3v-5.8M602.6 250.3v-5.8M623.08 250.3v-5.8M633.32 250.3v-5.8M643.56 250.3v-5.8M664.04 250.3v-5.8M674.28 250.3v-5.8M684.52 250.3v-5.8M705 250.3v-5.8M715.24 250.3v-5.8M725.48 250.3v-5.8M745.96 250.3v-5.8M756.2 250.3v-5.8M766.44 250.3v-5.8M449 250.3v-12M489.96 250.3v-12M530.92 250.3v-12M571.88 250.3v-12M612.84 250.3v-12M653.8 250.3v-12M694.76 250.3v-12M735.72 250.3v-12M776.68 250.3v-12M441.0 248.59h5.8M441.0 241.23h5.8M441.0 233.86h5.8M441.0 219.14h5.8M441.0 211.77h5.8M441.0 204.41h5.8M441.0 197.04h5.8M441.0 182.32h5.8M441.0 174.95h5.8M441.0 167.59h5.8M441.0 160.22h5.8M441.0 145.5h5.8M441.0 138.13h5.8M441.0 130.77h5.8M441.0 123.4h5.8M441.0 108.68h5.8M441.0 101.31h5.8M441.0 93.95h5.8M441.0 86.58h5.8M441.0 71.86h5.8M441.0 64.49h5.8M441.0 57.13h5.8M441.0 49.76h5.8M441.0 35.04h5.8M441.0 27.67h5.8M441.0 20.31h5.8M441.0 226.5h12M441.0 189.68h12M441.0 152.86h12M441.0 116.04h12M441.0 79.22h12M441.0 42.4h12" stroke="#111" stroke-width="1.4" fill="none"/>
<rect x="441.0" y="17.5" width="343.9" height="232.8" fill="none" stroke="#111" stroke-width="1.6"/>
<text x="452" y="264.6" text-anchor="middle" font-size="12">20.0</text>
<text x="492.96" y="264.6" text-anchor="middle" font-size="12">30.0</text>
<text x="533.92" y="264.6" text-anchor="middle" font-size="12">40.0</text>
<text x="574.88" y="264.6" text-anchor="middle" font-size="12">50.0</text>
<text x="615.84" y="264.6" text-anchor="middle" font-size="12">60.0</text>
<text x="656.8" y="264.6" text-anchor="middle" font-size="12">70.0</text>
<text x="697.76" y="264.6" text-anchor="middle" font-size="12">80.0</text>
<text x="738.72" y="264.6" text-anchor="middle" font-size="12">90.0</text>
<text x="779.68" y="264.6" text-anchor="middle" font-size="12">100.0</text>
<text x="438" y="231.5" text-anchor="end" font-size="12">5.0</text>
<text x="438" y="194.68" text-anchor="end" font-size="12">5.5</text>
<text x="438" y="157.86" text-anchor="end" font-size="12">6.0</text>
<text x="438" y="121.04" text-anchor="end" font-size="12">6.5</text>
<text x="438" y="84.22" text-anchor="end" font-size="12">7.0</text>
<text x="438" y="47.4" text-anchor="end" font-size="12">7.5</text>
<path d="M64.32 524.0v-5.8M73.04 524.0v-5.8M81.75 524.0v-5.8M90.47 524.0v-5.8M107.91 524.0v-5.8M116.63 524.0v-5.8M125.34 524.0v-5.8M134.06 524.0v-5.8M151.5 524.0v-5.8M160.22 524.0v-5.8M168.93 524.0v-5.8M177.65 524.0v-5.8M195.09 524.0v-5.8M203.81 524.0v-5.8M212.52 524.0v-5.8M221.24 524.0v-5.8M238.68 524.0v-5.8M247.4 524.0v-5.8M256.11 524.0v-5.8M264.83 524.0v-5.8M282.27 524.0v-5.8M290.99 524.0v-5.8M299.7 524.0v-5.8M308.42 524.0v-5.8M325.86 524.0v-5.8M334.58 524.0v-5.8M343.29 524.0v-5.8M352.01 524.0v-5.8M369.45 524.0v-5.8M378.17 524.0v-5.8M386.88 524.0v-5.8M55.6 524.0v-12M99.19 524.0v-12M142.78 524.0v-12M186.37 524.0v-12M229.96 524.0v-12M273.55 524.0v-12M317.14 524.0v-12M360.73 524.0v-12M47.0 515.66h5.8M47.0 507.65h5.8M47.0 491.64h5.8M47.0 483.64h5.8M47.0 475.63h5.8M47.0 459.62h5.8M47.0 451.62h5.8M47.0 443.61h5.8M47.0 427.6h5.8M47.0 419.6h5.8M47.0 411.59h5.8M47.0 395.58h5.8M47.0 387.58h5.8M47.0 379.57h5.8M47.0 363.56h5.8M47.0 355.56h5.8M47.0 347.55h5.8M47.0 331.54h5.8M47.0 323.54h5.8M47.0 315.53h5.8M47.0 299.52h5.8M47.0 499.65h12M47.0 467.63h12M47.0 435.61h12M47.0 403.59h12M47.0 371.57h12M47.0 339.55h12M47.0 307.53h12" stroke="#111" stroke-width="1.4" fill="none"/>
<rect x="47.0" y="290.6" width="344.1" height="233.4" fill="none" stroke="#111" stroke-width="1.6"/>
<text x="55.6" y="537.3" text-anchor="middle" font-size="12">10.0</text>
<text x="99.19" y="537.3" text-anchor="middle" font-size="12">20.0</text>
<text x="142.78" y="537.3" text-anchor="middle" font-size="12">30.0</text>
<text x="186.37" y="537.3" text-anchor="middle" font-size="12">40.0</text>
<text x="229.96" y="537.3" text-anchor="middle" font-size="12">50.0</text>
<text x="273.55" y="537.3" text-anchor="middle" font-size="12">60.0</text>
<text x="317.14" y="537.3" text-anchor="middle" font-size="12">70.0</text>
<text x="360.73" y="537.3" text-anchor="middle" font-size="12">80.0</text>
<text x="42.7" y="503.9" text-anchor="end" font-size="12">2.0</text>
<text x="42.7" y="471.88" text-anchor="end" font-size="12">4.0</text>
<text x="42.7" y="439.86" text-anchor="end" font-size="12">6.0</text>
<text x="42.7" y="407.84" text-anchor="end" font-size="12">8.0</text>
<text x="42.7" y="375.82" text-anchor="end" font-size="12">10.0</text>
<text x="42.7" y="343.8" text-anchor="end" font-size="12">12.0</text>
<text x="42.7" y="311.78" text-anchor="end" font-size="12">14.0</text>
<path d="M461.5 523.3v-5.8M471.5 523.3v-5.8M481.5 523.3v-5.8M491.5 523.3v-5.8M511.5 523.3v-5.8M521.5 523.3v-5.8M531.5 523.3v-5.8M541.5 523.3v-5.8M561.5 523.3v-5.8M571.5 523.3v-5.8M581.5 523.3v-5.8M591.5 523.3v-5.8M611.5 523.3v-5.8M621.5 523.3v-5.8M631.5 523.3v-5.8M641.5 523.3v-5.8M661.5 523.3v-5.8M671.5 523.3v-5.8M681.5 523.3v-5.8M691.5 523.3v-5.8M711.5 523.3v-5.8M721.5 523.3v-5.8M731.5 523.3v-5.8M741.5 523.3v-5.8M761.5 523.3v-5.8M771.5 523.3v-5.8M781.5 523.3v-5.8M451.5 523.3v-12M501.5 523.3v-12M551.5 523.3v-12M601.5 523.3v-12M651.5 523.3v-12M701.5 523.3v-12M751.5 523.3v-12M441.4 519.79h5.8M441.4 509.34h5.8M441.4 488.45h5.8M441.4 478.01h5.8M441.4 467.56h5.8M441.4 446.67h5.8M441.4 436.23h5.8M441.4 425.78h5.8M441.4 404.89h5.8M441.4 394.45h5.8M441.4 384h5.8M441.4 363.12h5.8M441.4 352.67h5.8M441.4 342.22h5.8M441.4 321.33h5.8M441.4 310.89h5.8M441.4 300.44h5.8M441.4 498.9h12M441.4 457.12h12M441.4 415.34h12M441.4 373.56h12M441.4 331.78h12" stroke="#111" stroke-width="1.4" fill="none"/>
<rect x="441.4" y="290.2" width="343.85" height="233.1" fill="none" stroke="#111" stroke-width="1.6"/>
<text x="453" y="536.4" text-anchor="middle" font-size="12">20.0</text>
<text x="503" y="536.4" text-anchor="middle" font-size="12">30.0</text>
<text x="553" y="536.4" text-anchor="middle" font-size="12">40.0</text>
<text x="603" y="536.4" text-anchor="middle" font-size="12">50.0</text>
<text x="653" y="536.4" text-anchor="middle" font-size="12">60.0</text>
<text x="703" y="536.4" text-anchor="middle" font-size="12">70.0</text>
<text x="753" y="536.4" text-anchor="middle" font-size="12">80.0</text>
<text x="438" y="502.9" text-anchor="end" font-size="12">0.0</text>
<text x="438" y="461.12" text-anchor="end" font-size="12">0.2</text>
<text x="438" y="419.34" text-anchor="end" font-size="12">0.4</text>
<text x="438" y="377.56" text-anchor="end" font-size="12">0.6</text>
<text x="438" y="335.78" text-anchor="end" font-size="12">0.8</text>
<text x="438" y="294" text-anchor="end" font-size="12">1.0</text>
<path d="M67.18 800.2v-5.8M77.16 800.2v-5.8M87.14 800.2v-5.8M97.12 800.2v-5.8M117.08 800.2v-5.8M127.06 800.2v-5.8M137.04 800.2v-5.8M147.02 800.2v-5.8M166.98 800.2v-5.8M176.96 800.2v-5.8M186.94 800.2v-5.8M196.92 800.2v-5.8M216.88 800.2v-5.8M226.86 800.2v-5.8M236.84 800.2v-5.8M246.82 800.2v-5.8M266.78 800.2v-5.8M276.76 800.2v-5.8M286.74 800.2v-5.8M296.72 800.2v-5.8M316.68 800.2v-5.8M326.66 800.2v-5.8M336.64 800.2v-5.8M346.62 800.2v-5.8M366.58 800.2v-5.8M376.56 800.2v-5.8M386.54 800.2v-5.8M57.2 800.2v-12M107.1 800.2v-12M157 800.2v-12M206.9 800.2v-12M256.8 800.2v-12M306.7 800.2v-12M356.6 800.2v-12M46.7 778.75h5.8M46.7 765.3h5.8M46.7 751.85h5.8M46.7 724.95h5.8M46.7 711.5h5.8M46.7 698.05h5.8M46.7 671.15h5.8M46.7 657.7h5.8M46.7 644.25h5.8M46.7 617.35h5.8M46.7 603.9h5.8M46.7 590.45h5.8M46.7 792.2h12M46.7 738.4h12M46.7 684.6h12M46.7 630.8h12M46.7 577h12" stroke="#111" stroke-width="1.4" fill="none"/>
<rect x="46.7" y="567.0" width="344.8" height="233.2" fill="none" stroke="#111" stroke-width="1.6"/>
<text x="58.2" y="813" text-anchor="middle" font-size="12">20.0</text>
<text x="108.1" y="813" text-anchor="middle" font-size="12">30.0</text>
<text x="158" y="813" text-anchor="middle" font-size="12">40.0</text>
<text x="207.9" y="813" text-anchor="middle" font-size="12">50.0</text>
<text x="257.8" y="813" text-anchor="middle" font-size="12">60.0</text>
<text x="307.7" y="813" text-anchor="middle" font-size="12">70.0</text>
<text x="357.6" y="813" text-anchor="middle" font-size="12">80.0</text>
<text x="43.6" y="796.7" text-anchor="end" font-size="12">0</text>
<text x="43.6" y="742.9" text-anchor="end" font-size="12">20</text>
<text x="43.6" y="689.1" text-anchor="end" font-size="12">40</text>
<text x="43.6" y="635.3" text-anchor="end" font-size="12">60</text>
<text x="43.6" y="581.5" text-anchor="end" font-size="12">80</text>
<text x="69.4" y="33.1" text-anchor="middle" font-size="14">A</text>
<text x="466.2" y="31.6" text-anchor="middle" font-size="14">B</text>
<text x="70" y="306.3" text-anchor="middle" font-size="14">C</text>
<text x="466.6" y="305.4" text-anchor="middle" font-size="14">D</text>
<text x="69.3" y="584.5" text-anchor="middle" font-size="14">E</text>
<text x="18.6" y="19.4" font-size="11">x10<tspan font-size="7.5" dy="-5">-10</tspan></text>
<text x="419.8" y="17.5" font-size="11">x10<tspan font-size="7.5" dy="-5">-4</tspan></text>
<text x="172.65" y="274.4" font-size="12.3" textLength="94.6" lengthAdjust="spacing">Temperature (ºC)</text>
<text x="567.3" y="277.5" font-size="12.3" textLength="95.1" lengthAdjust="spacing">Temperature (ºC)</text>
<text x="172.4" y="554.1" font-size="12.3" textLength="94.1" lengthAdjust="spacing">Temperature (ºC)</text>
<text x="568.4" y="548.6" font-size="12.3" textLength="94.0" lengthAdjust="spacing">Temperature (ºC)</text>
<text x="174.4" y="830.6" font-size="12.3" textLength="93.7" lengthAdjust="spacing">Temperature (ºC)</text>
<text transform="translate(19.7,131.85) rotate(-90)" text-anchor="middle" font-size="12.3" textLength="173.7" lengthAdjust="spacing">Adiabatic Compressibility (Pa<tspan font-size="8" dy="-5">-1</tspan><tspan dy="5">)</tspan></text>
<text transform="translate(415.3,133.95) rotate(-90)" text-anchor="middle" font-size="12.3" textLength="224.5" lengthAdjust="spacing">Coefficient of Thermal Expansion (deg<tspan font-size="8" dy="-5">-1</tspan><tspan dy="5">)</tspan></text>
<text transform="translate(15.0,417.75) rotate(-90)" text-anchor="middle" font-size="12.3" textLength="206.7" lengthAdjust="spacing">λ<tspan font-size="9" dy="4">max</tspan><tspan dy="-4">(Ex 310nm)-λ</tspan><tspan font-size="9" dy="4">max</tspan><tspan dy="-4">(Ex 290nm) (nm)</tspan></text>
<text transform="translate(415.5,406.9) rotate(-90)" text-anchor="middle" font-size="12.3" textLength="228.2" lengthAdjust="spacing">Fast Rotational Correlation Time, θ<tspan font-size="8.5" dy="3.5" font-style="italic">fast</tspan><tspan dy="-3.5"> (ns)</tspan></text>
<text transform="translate(25.1,684.75) rotate(-90)" text-anchor="middle" font-size="12.3" textLength="234.3" lengthAdjust="spacing">Slow Rotational Correlation Time, θ<tspan font-size="8.5" dy="3.5" font-style="italic">slow</tspan><tspan dy="-3.5"> (ns)</tspan></text>
</svg>
</body></html>
